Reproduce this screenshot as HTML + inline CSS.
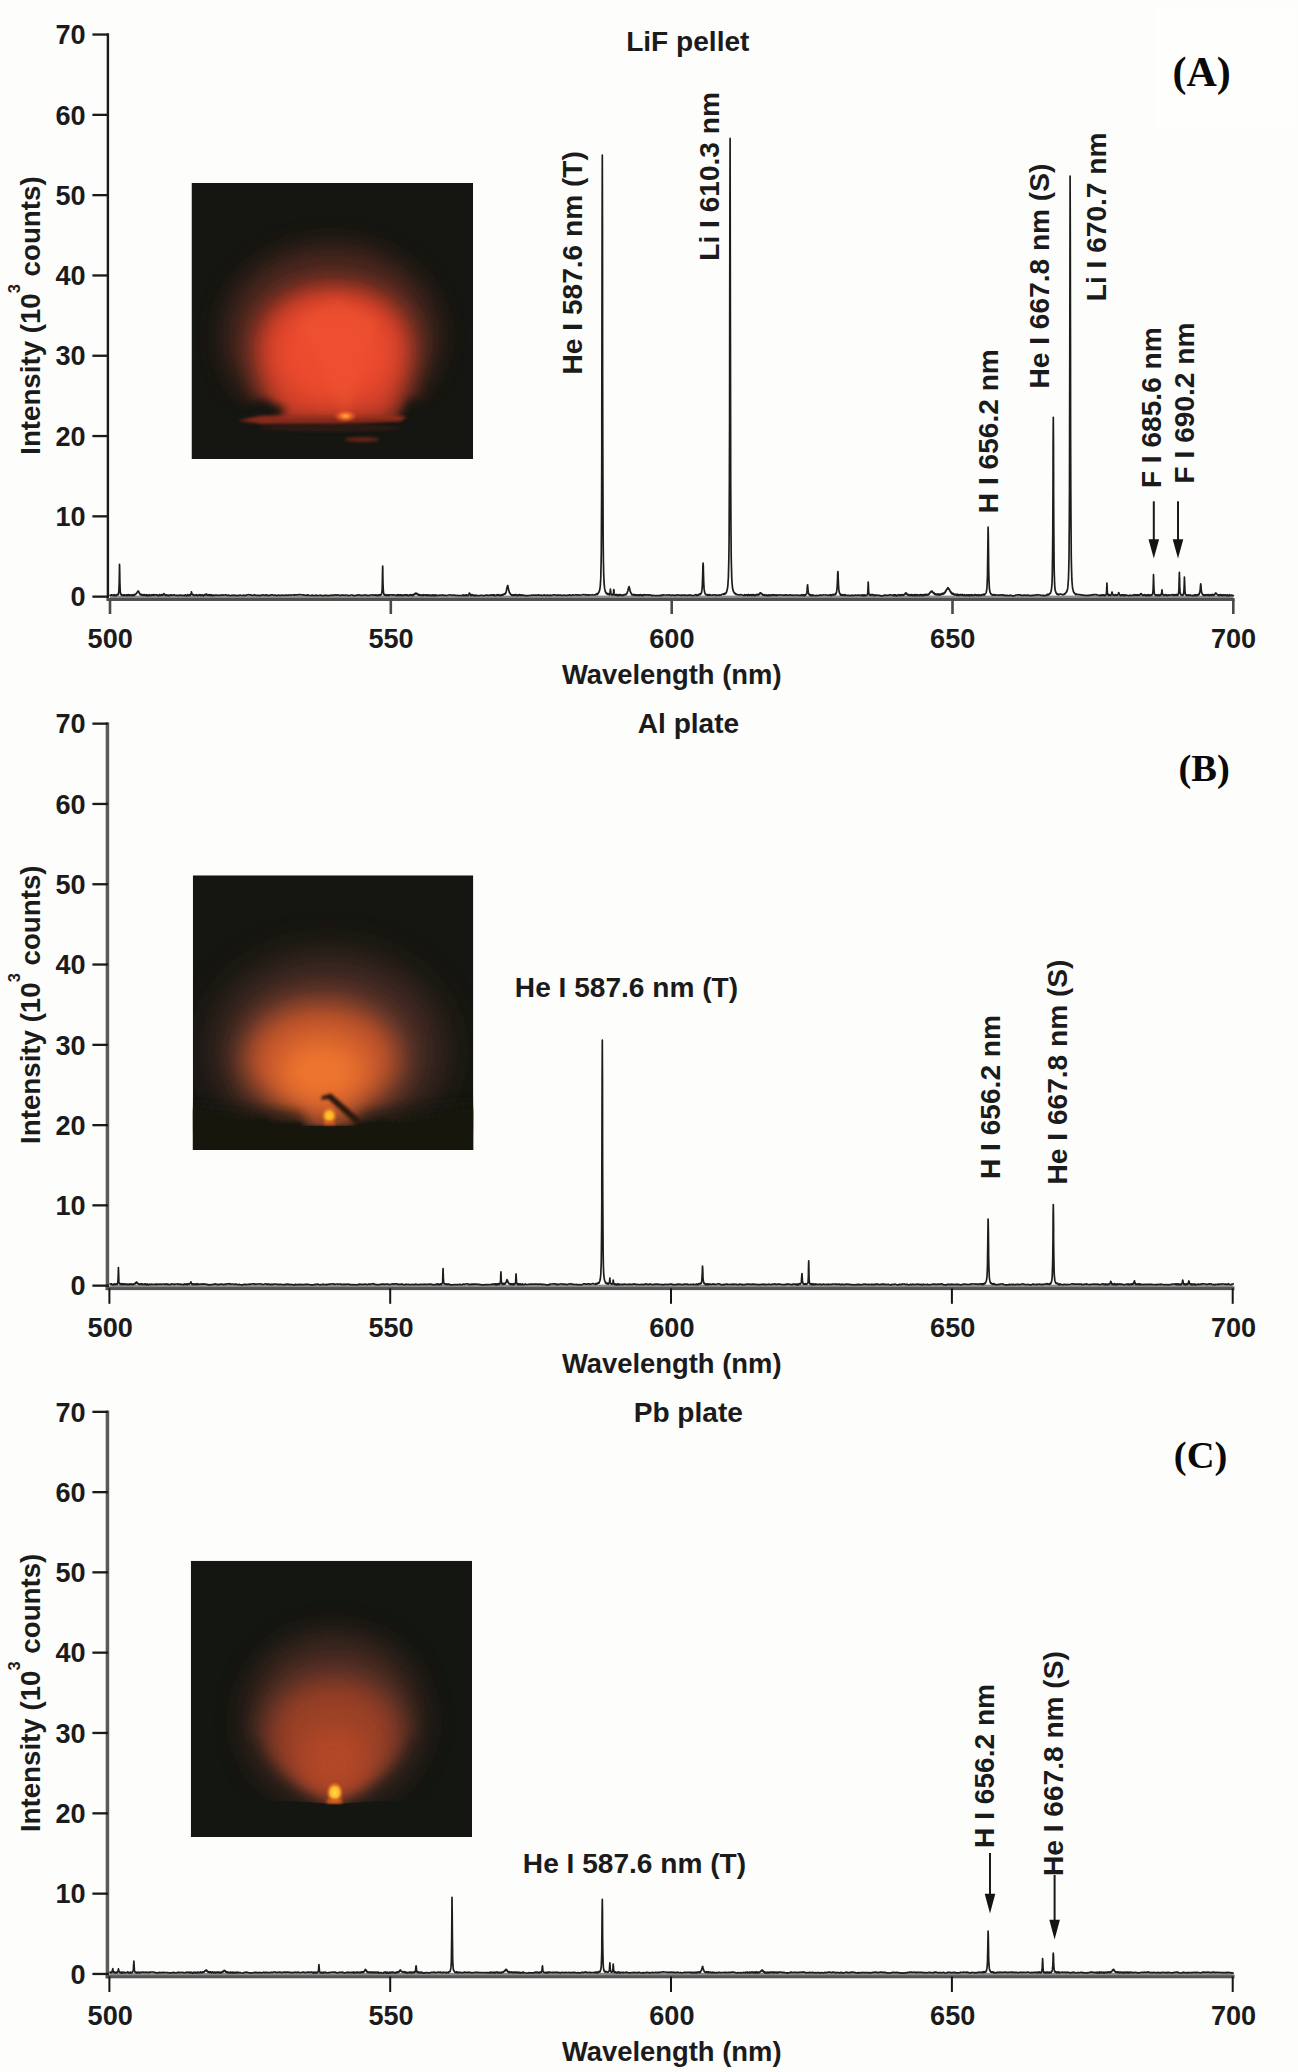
<!DOCTYPE html>
<html lang="en"><head><meta charset="utf-8"><title>Emission spectra: LiF pellet, Al plate, Pb plate</title>
<style>
html,body{margin:0;padding:0;background:#fdfdfb;}
body{width:1298px;height:2072px;overflow:hidden;}
svg{display:block;}
.t{font-family:'Liberation Sans', Arial, Helvetica, sans-serif;font-weight:700;font-size:28.10px;fill:#1b1b1b;}
.ax{font-size:27.40px;}.tk{font-size:27.10px;}
.p{font-family:'Liberation Serif', 'Times New Roman', Times, serif;font-weight:700;fill:#0a0a0a;}
.sp{fill:none;stroke:#1d1d1d;stroke-width:1.7;stroke-linejoin:round;stroke-linecap:round;}
</style></head><body>
<svg width="1298" height="2072" viewBox="0 0 1298 2072">
<defs>
<filter id="b6" x="-30%" y="-30%" width="160%" height="160%"><feGaussianBlur stdDeviation="6"/></filter>
<filter id="b16" x="-50%" y="-50%" width="200%" height="200%"><feGaussianBlur stdDeviation="16"/></filter>
<filter id="b4" x="-30%" y="-30%" width="160%" height="160%"><feGaussianBlur stdDeviation="4"/></filter>
<filter id="b2" x="-30%" y="-30%" width="160%" height="160%"><feGaussianBlur stdDeviation="1.6"/></filter>
<filter id="b12" x="-40%" y="-40%" width="180%" height="180%"><feGaussianBlur stdDeviation="12"/></filter>
<filter id="b9" x="-40%" y="-40%" width="180%" height="180%"><feGaussianBlur stdDeviation="9"/></filter>
<filter id="b14" x="-50%" y="-50%" width="200%" height="200%"><feGaussianBlur stdDeviation="14"/></filter>
<filter id="b22" x="-60%" y="-60%" width="220%" height="220%"><feGaussianBlur stdDeviation="22"/></filter>
<radialGradient id="spA"><stop offset="0" stop-color="#ffb347"/><stop offset=".35" stop-color="#ff7a2e" stop-opacity=".9"/><stop offset="1" stop-color="#f0502a" stop-opacity="0"/></radialGradient>
<radialGradient id="spB"><stop offset="0" stop-color="#ffd23a"/><stop offset=".45" stop-color="#ffae22"/><stop offset="1" stop-color="#f07a28" stop-opacity="0"/></radialGradient>
<radialGradient id="spC"><stop offset="0" stop-color="#ffe04a"/><stop offset=".5" stop-color="#ffb52a"/><stop offset="1" stop-color="#e8602a" stop-opacity="0"/></radialGradient>
<clipPath id="cA"><rect x="191.5" y="183" width="281.5" height="276"/></clipPath>
<clipPath id="cB"><rect x="192.8" y="875.3" width="280.5" height="274.7"/></clipPath>
<clipPath id="cC"><rect x="190.8" y="1560.8" width="281.2" height="276.2"/></clipPath>
<clipPath id="gA"><rect x="191" y="183" width="282" height="235.500"/></clipPath>
<mask id="mA" maskUnits="userSpaceOnUse" x="180" y="170" width="310" height="300"><rect x="180" y="170" width="310" height="300" fill="#fff"/><path d="M180,392L236,409L262,399L286,409L266,430H180Z" fill="#000" filter="url(#b4)"/><path d="M490,388L430,405L410,399L394,430H490Z" fill="#000" filter="url(#b4)"/></mask>
<mask id="mC" maskUnits="userSpaceOnUse" x="170" y="1540" width="330" height="320"><rect x="170" y="1540" width="330" height="320" fill="#fff"/><path d="M170,1722L256,1738L266,1760L282,1778L304,1794L328,1804V1816H170Z" fill="#000" filter="url(#b6)"/><path d="M497,1722L411,1738L401,1760L385,1778L363,1794L340,1804V1816H497Z" fill="#000" filter="url(#b6)"/></mask>
<clipPath id="gB"><path d="M192,875H474V1122H370L356,1126H300L250,1121H192Z"/></clipPath>
<clipPath id="gC"><path d="M190,1560H472V1801H380L335,1804L290,1801H190Z"/></clipPath>
</defs>
<rect x="0" y="0" width="1298" height="2072" fill="#fdfdfb"/>
<rect x="1155" y="5" width="141" height="124" fill="#fefefd"/>
<g clip-path="url(#cA)">
<rect x="191.5" y="183" width="281.5" height="276" fill="#151611"/>
<g clip-path="url(#gA)"><g mask="url(#mA)">
<ellipse cx="331" cy="336" rx="106" ry="90" fill="#552b22" opacity=".9" filter="url(#b14)"/>
<path d="M334,285C384,285 415,314 413,352C411,382 402,404 392,424H278C268,404 257,382 255,352C253,314 284,285 334,285Z" fill="#cc3e28" filter="url(#b12)"/>
<ellipse cx="335" cy="352" rx="60" ry="52" fill="#ec4b2d" filter="url(#b12)"/>
<path d="M346,417L296,322L336,300L378,318Z" fill="#f25a33" opacity=".3" filter="url(#b4)"/>
</g></g>
<path d="M238,420.500L262,415.500H396L407,417L400,421.500L340,424H262Z" fill="#9a2f1e" opacity=".85" filter="url(#b2)"/>
<ellipse cx="330" cy="428" rx="70" ry="4" fill="#3a1a14" opacity=".6" filter="url(#b2)"/>
<ellipse cx="362" cy="439.500" rx="17" ry="2.4" fill="#7a261a" opacity=".8" filter="url(#b2)"/>
<ellipse cx="345.500" cy="416" rx="12" ry="6.500" fill="url(#spA)"/>
</g>
<g clip-path="url(#cB)">
<rect x="192.8" y="875.3" width="280.5" height="274.7" fill="#151611"/>
<g clip-path="url(#gB)">
<ellipse cx="328" cy="1050" rx="112" ry="92" fill="#54302a" opacity=".9" filter="url(#b22)"/>
<path d="M322,1002C376,1002 404,1038 400,1066C396,1090 372,1104 350,1112L338,1126H314L298,1111C272,1103 248,1090 244,1064C242,1036 270,1002 322,1002Z" fill="#c4542a" filter="url(#b14)"/>
<ellipse cx="322" cy="1072" rx="44" ry="34" fill="#ee742f" filter="url(#b14)"/>
</g>
<path d="M176,1130V1100L236,1106L300,1112L312,1130Z" fill="#151611" opacity=".55" filter="url(#b4)"/>
<path d="M490,1130V1098L420,1104L364,1112L350,1130Z" fill="#151611" opacity=".55" filter="url(#b4)"/>
<path d="M176,1160V1106L250,1119L262,1116L275,1122H300L305,1126H352L358,1122H372L380,1118L395,1122L490,1106V1160Z" fill="#151611" filter="url(#b2)"/>
<path d="M321,1100L322,1096L331,1093.500L361,1120L356,1124L328,1099Z" fill="#2c170e" filter="url(#b2)"/>
<ellipse cx="329.300" cy="1115.700" rx="8" ry="9" fill="url(#spB)"/>
<rect x="324" y="1121" width="11" height="4" fill="#e0641f" opacity=".8" filter="url(#b2)"/>
</g>
<g clip-path="url(#cC)">
<rect x="190.8" y="1560.800" width="281.2" height="276.2" fill="#141611"/>
<g clip-path="url(#gC)">
<path d="M333,1636C398,1636 424,1688 420,1730C416,1768 384,1792 350,1808H318C284,1792 252,1768 248,1730C244,1688 270,1636 333,1636Z" fill="#502e27" opacity=".9" filter="url(#b16)"/>
<g mask="url(#mC)">
<path d="M334,1678C384,1678 406,1716 400,1746C394,1774 364,1790 342,1800L328,1800C306,1790 274,1774 268,1746C262,1716 286,1678 334,1678Z" fill="#9a3f27" filter="url(#b14)"/>
<ellipse cx="334" cy="1762" rx="36" ry="36" fill="#b24728" filter="url(#b12)"/>
</g></g>
<ellipse cx="334.800" cy="1792.500" rx="9" ry="11" fill="url(#spC)"/>
<rect x="327" y="1799" width="15" height="4.500" fill="#e2641f" opacity=".85" filter="url(#b2)"/>
</g>
<rect x="106.7" y="33.3" width="2.4" height="567.7" fill="#1a1a1a"/>
<rect x="106.7" y="598.0" width="1127.9" height="3" fill="#4f4f4f"/>
<rect x="92.4" y="595.5" width="16.6" height="2.3" fill="#1a1a1a"/>
<text class="t tk" x="85.6" y="606.3" text-anchor="end">0</text>
<rect x="92.4" y="515.2" width="15.6" height="2.3" fill="#1a1a1a"/>
<text class="t tk" x="85.6" y="526.0" text-anchor="end">10</text>
<rect x="92.4" y="434.9" width="15.6" height="2.3" fill="#1a1a1a"/>
<text class="t tk" x="85.6" y="445.7" text-anchor="end">20</text>
<rect x="92.4" y="354.6" width="15.6" height="2.3" fill="#1a1a1a"/>
<text class="t tk" x="85.6" y="365.4" text-anchor="end">30</text>
<rect x="92.4" y="274.3" width="15.6" height="2.3" fill="#1a1a1a"/>
<text class="t tk" x="85.6" y="285.1" text-anchor="end">40</text>
<rect x="92.4" y="194.0" width="15.6" height="2.3" fill="#1a1a1a"/>
<text class="t tk" x="85.6" y="204.8" text-anchor="end">50</text>
<rect x="92.4" y="113.7" width="15.6" height="2.3" fill="#1a1a1a"/>
<text class="t tk" x="85.6" y="124.5" text-anchor="end">60</text>
<rect x="92.4" y="33.4" width="15.6" height="2.3" fill="#1a1a1a"/>
<text class="t tk" x="85.6" y="44.2" text-anchor="end">70</text>
<rect x="108.7" y="599.5" width="2.6" height="14.500" fill="#4a4a4a"/>
<text class="t tk" x="110.2" y="647.7" text-anchor="middle">500</text>
<rect x="389.5" y="599.5" width="2.6" height="14.500" fill="#4a4a4a"/>
<text class="t tk" x="391.0" y="647.7" text-anchor="middle">550</text>
<rect x="670.4" y="599.5" width="2.6" height="14.500" fill="#4a4a4a"/>
<text class="t tk" x="671.9" y="647.7" text-anchor="middle">600</text>
<rect x="951.2" y="599.5" width="2.6" height="14.500" fill="#4a4a4a"/>
<text class="t tk" x="952.7" y="647.7" text-anchor="middle">650</text>
<rect x="1232.0" y="599.5" width="2.6" height="14.500" fill="#4a4a4a"/>
<text class="t tk" x="1233.5" y="647.7" text-anchor="middle">700</text>
<text class="t ax" x="671.7" y="683.5" text-anchor="middle">Wavelength (nm)</text>
<text class="t" font-size="27.7" style="font-size:27.7px" text-anchor="middle" transform="translate(40.3,315.6) rotate(-90)">Intensity (10<tspan style="font-size:16.5px" dy="-20.200">3</tspan><tspan dy="20.200"> counts)</tspan></text>
<rect x="110" y="595.6" width="1123.3" height="2.4" fill="#8c8c8c"/>
<path class="sp" d="M110.0,595.3 110.8,595.2 111.6,594.9 112.4,595.1 112.8,595.1 113.0,595.1 113.1,595.4 113.2,595.3 113.3,595.1 113.5,595.0 113.7,595.4 113.8,595.4 114.0,595.6 114.0,595.2 114.2,595.0 114.3,595.4 114.5,595.0 114.7,594.7 114.8,594.8 114.8,594.9 115.0,595.3 115.2,595.6 115.3,595.3 115.5,595.6 115.6,595.6 115.7,595.6 115.8,595.7 116.0,595.5 116.2,595.3 116.3,595.0 116.4,595.0 116.5,594.9 116.7,595.0 116.9,594.8 117.0,594.9 117.2,595.1 117.2,594.6 117.4,594.4 117.5,594.3 117.7,594.3 117.9,594.5 118.0,594.6 118.0,594.7 118.2,594.6 118.4,593.9 118.5,593.4 118.7,592.3 118.8,591.4 118.9,590.6 119.0,587.7 119.2,582.7 119.4,572.5 119.5,564.3 119.6,566.5 119.7,571.8 119.9,582.5 120.1,588.4 120.2,591.0 120.4,592.3 120.4,592.8 120.6,593.6 120.7,594.1 120.9,594.0 121.1,594.1 121.2,594.7 121.4,595.0 121.6,595.2 121.7,595.4 121.9,595.0 122.0,595.2 122.1,595.1 122.2,595.1 122.4,595.3 122.6,595.0 122.7,595.3 122.8,595.1 122.9,595.4 123.1,595.3 123.3,595.4 123.4,595.5 123.6,595.0 123.6,594.8 123.8,595.1 123.9,594.9 124.1,595.2 124.3,595.3 124.4,595.0 124.4,594.9 124.6,595.3 124.8,594.9 124.9,595.2 125.1,595.4 125.2,595.1 125.3,595.2 125.4,595.4 125.6,595.6 125.8,595.7 126.0,595.4 126.0,595.5 126.1,595.3 126.3,595.3 126.5,595.3 126.6,594.9 126.8,595.0 126.8,595.1 127.0,594.8 127.1,595.2 127.3,595.5 127.5,595.0 127.6,594.9 127.7,595.2 127.8,595.4 128.0,595.1 128.1,594.8 128.3,595.2 128.5,594.9 128.5,594.7 128.6,594.9 128.8,595.1 129.0,595.4 129.2,595.6 129.3,595.1 129.3,595.3 129.5,595.1 129.7,595.3 129.8,595.0 130.0,595.0 130.1,595.2 130.2,595.4 130.3,595.1 130.5,595.5 130.7,595.5 130.8,595.3 130.9,595.0 131.0,595.0 131.2,595.2 131.3,594.9 131.5,595.2 131.7,595.5 131.7,595.5 131.8,595.4 132.0,595.6 132.2,595.6 132.4,595.4 132.5,595.2 132.5,595.4 132.7,595.3 132.9,594.9 133.0,594.6 133.2,594.7 133.3,594.7 133.4,594.8 133.5,595.1 133.7,595.4 133.9,595.5 134.0,594.9 134.1,594.8 134.2,594.5 134.4,595.0 134.5,594.8 134.7,594.8 134.9,594.6 134.9,594.8 135.0,594.3 135.2,594.7 135.4,594.6 135.6,594.3 135.7,594.0 135.7,594.0 135.9,593.9 136.1,593.7 136.2,593.4 136.4,593.6 136.5,593.5 136.6,593.2 136.7,592.8 136.9,592.8 137.1,592.4 137.2,592.0 137.3,592.0 137.4,591.8 137.6,591.7 137.7,591.4 137.9,591.1 138.1,591.4 138.3,591.3 138.4,591.1 138.6,591.3 138.8,591.6 138.9,592.2 138.9,592.1 139.1,592.5 139.3,593.0 139.4,593.0 139.6,593.7 139.7,593.6 139.8,594.1 139.9,594.0 140.1,594.2 140.3,594.5 140.4,594.3 140.5,594.4 140.6,594.4 140.8,594.2 140.9,594.6 141.1,595.0 141.3,595.1 141.3,594.8 141.5,595.0 141.6,595.2 141.8,594.8 142.0,594.7 142.1,594.9 142.1,594.6 142.3,594.9 142.5,594.8 142.6,595.1 142.8,595.1 142.9,594.9 143.0,594.6 143.1,594.6 143.3,594.9 143.5,594.9 143.6,595.1 143.7,595.4 143.8,595.2 144.0,594.9 144.1,594.8 144.3,594.8 144.5,594.6 144.5,595.0 144.7,595.3 144.8,595.3 145.0,595.4 145.2,595.5 145.3,595.4 145.3,595.2 145.5,595.2 145.7,595.3 145.8,595.0 146.0,594.7 146.1,595.0 146.2,595.4 146.3,595.6 146.5,595.1 146.7,595.5 146.8,595.2 146.9,595.1 147.0,595.3 147.2,595.0 147.3,595.4 147.5,595.6 147.7,595.4 147.7,595.7 147.9,595.2 148.0,595.4 148.2,595.6 148.4,595.7 148.5,595.4 148.5,595.3 148.7,595.2 148.9,595.1 149.0,594.9 149.2,594.7 149.3,594.8 149.4,595.2 149.5,595.2 149.7,595.4 149.9,595.7 150.0,595.5 150.1,595.2 150.2,595.4 150.4,595.5 150.6,595.5 150.7,595.2 150.9,595.2 150.9,595.1 151.1,595.0 151.2,595.2 151.4,595.0 151.6,594.8 151.7,595.3 151.7,594.9 151.9,594.9 152.1,595.3 152.2,595.3 152.4,595.2 152.5,594.9 152.6,595.1 152.7,595.1 152.9,594.9 153.1,594.8 153.2,594.7 153.3,594.9 153.4,595.0 153.6,595.3 153.8,595.1 153.9,594.9 154.1,595.0 154.1,594.9 154.3,595.3 154.4,595.0 154.6,594.7 154.8,594.6 154.9,594.9 155.7,594.8 156.5,595.1 156.7,594.9 156.8,594.8 157.0,595.1 157.2,595.4 157.3,595.4 157.3,595.3 157.5,595.1 157.7,595.1 157.9,595.5 158.0,595.2 158.1,595.5 158.2,595.2 158.4,595.4 158.5,595.4 158.7,595.1 158.9,595.4 158.9,595.6 159.0,595.4 159.2,595.2 159.4,594.9 159.5,594.9 159.7,594.7 159.7,595.0 159.9,594.7 160.0,595.2 160.2,595.4 160.4,595.3 160.5,595.4 160.7,595.1 160.9,595.1 161.1,595.1 161.2,594.9 161.4,595.0 161.4,595.2 161.6,595.3 161.7,595.0 161.9,594.7 162.1,595.1 162.2,594.9 162.2,594.6 162.4,594.8 162.6,594.8 162.7,595.1 162.9,594.9 163.0,594.9 163.1,594.7 163.2,595.0 163.4,594.3 163.6,594.0 163.7,593.9 163.8,593.7 163.9,593.6 164.1,593.8 164.3,594.0 164.4,594.6 164.6,594.7 164.6,594.8 164.8,594.5 164.9,594.5 165.1,594.9 165.3,595.0 165.4,595.3 165.4,595.3 165.6,595.0 165.8,594.8 165.9,595.0 166.1,595.2 166.2,595.4 166.3,595.2 166.4,594.9 166.6,595.3 166.8,595.1 167.0,595.5 167.0,595.6 167.1,595.6 167.3,595.3 167.5,595.4 167.6,595.4 167.8,595.2 167.8,595.5 168.0,595.2 168.1,595.5 168.3,595.4 168.5,595.5 168.6,595.6 168.6,595.4 168.8,595.4 169.0,595.4 169.1,595.4 169.3,595.3 169.4,595.5 169.5,595.6 169.6,595.3 169.8,595.2 170.0,595.2 170.2,594.9 170.2,595.0 170.3,594.8 170.5,595.2 170.7,595.0 170.8,594.9 171.0,594.8 171.0,595.1 171.2,595.3 171.8,595.0 172.6,595.3 173.4,594.9 174.2,594.8 175.0,595.2 175.8,595.4 176.6,595.2 177.4,595.4 178.2,595.6 179.0,595.2 179.8,595.3 180.6,595.0 181.4,595.4 182.2,595.4 183.0,595.2 183.8,595.6 184.6,595.6 184.7,595.3 184.9,595.0 185.0,594.8 185.2,595.2 185.4,595.2 185.4,595.0 185.5,595.1 185.7,595.0 185.9,595.3 186.0,595.6 186.2,595.7 186.2,595.8 186.4,595.5 186.6,595.4 186.7,595.3 186.9,595.5 187.0,595.6 187.1,595.6 187.2,595.2 187.4,594.9 187.6,594.7 187.7,595.2 187.8,595.5 187.9,595.1 188.1,595.2 188.2,595.0 188.4,595.2 188.6,595.2 188.6,595.2 188.7,595.2 188.9,595.1 189.1,595.5 189.2,595.2 189.4,594.9 189.4,595.3 189.6,595.2 189.8,595.0 189.9,595.1 190.1,595.3 190.2,595.4 190.3,595.2 190.4,595.3 190.6,594.7 190.8,594.3 190.9,593.8 191.0,593.3 191.1,593.1 191.3,592.4 191.4,591.8 191.6,592.4 191.8,593.0 191.8,593.3 191.9,594.0 192.1,594.2 192.3,594.4 192.5,594.5 192.6,594.5 192.6,594.8 192.8,594.7 193.0,594.6 193.1,594.7 193.3,594.7 193.4,594.7 193.5,595.0 193.6,594.9 193.8,595.3 194.0,595.4 194.1,595.3 194.2,595.6 194.3,595.5 194.5,595.3 194.6,595.2 194.8,595.4 195.0,595.0 195.1,595.0 195.1,595.2 195.3,595.1 195.5,595.1 195.7,595.1 195.8,595.2 195.9,594.9 196.0,594.9 196.2,594.9 196.3,594.9 196.5,594.7 196.7,595.3 196.7,595.2 196.8,595.0 197.0,595.3 197.2,595.3 197.3,595.6 197.5,595.7 197.5,595.6 197.7,595.7 197.8,595.7 198.0,595.2 198.2,595.2 198.3,595.2 199.1,594.9 199.4,595.0 199.5,594.7 199.7,594.9 199.9,594.8 200.0,595.3 200.2,595.2 200.4,595.0 200.5,595.4 200.7,595.0 200.7,595.4 200.9,595.3 201.0,595.5 201.2,595.4 201.4,595.2 201.5,595.5 201.5,595.1 201.7,595.2 201.9,595.2 202.1,595.1 202.2,595.3 202.3,595.4 202.4,595.2 202.6,595.2 202.7,595.3 202.9,595.1 203.1,595.3 203.1,595.6 203.2,595.6 203.4,595.8 203.6,595.8 203.7,595.3 203.9,595.3 203.9,595.0 204.1,594.9 204.2,595.4 204.4,594.9 204.6,594.7 204.7,595.2 204.8,594.9 204.9,595.0 205.1,595.1 205.3,594.7 205.4,595.0 205.5,595.0 205.6,594.7 205.8,594.6 205.9,594.6 206.1,594.2 206.3,594.0 206.3,594.1 206.4,594.3 206.6,594.1 206.8,594.2 206.9,594.6 207.1,595.1 207.1,594.9 207.3,595.2 207.4,595.2 207.6,595.0 207.8,595.1 207.9,595.3 208.0,595.1 208.1,595.2 208.3,595.0 208.5,595.1 208.6,594.8 208.7,594.6 208.8,594.7 209.0,595.1 209.1,595.4 209.3,595.0 209.5,594.9 209.5,595.0 209.6,595.2 209.8,595.4 210.0,595.2 210.1,595.1 210.3,595.1 210.3,595.1 210.5,595.0 210.6,595.3 210.8,595.4 211.0,595.0 211.1,594.8 211.2,594.7 211.3,595.3 211.5,595.6 211.7,595.6 211.8,595.5 211.9,595.3 212.0,595.5 212.2,595.4 212.3,595.6 212.5,595.7 212.7,595.4 212.7,595.3 212.8,595.2 213.0,595.3 213.2,595.3 213.3,595.5 213.5,595.5 213.5,595.2 213.7,595.0 213.8,595.4 214.3,595.6 215.1,595.2 215.9,595.1 216.7,595.0 217.5,595.3 218.3,595.3 219.1,595.5 219.9,595.1 220.7,595.3 221.5,595.1 222.3,594.8 223.1,595.1 223.9,595.1 224.7,595.0 225.5,594.8 226.3,595.1 227.1,595.2 227.9,595.5 228.7,595.1 229.6,595.5 230.4,595.7 231.2,595.4 232.0,595.4 232.8,595.2 233.6,595.3 234.4,595.1 235.2,595.5 236.0,595.6 236.8,595.3 237.6,595.6 238.4,595.6 239.2,595.3 240.0,595.1 240.8,595.3 241.6,595.5 242.4,595.5 243.2,595.2 244.0,595.3 244.8,595.6 245.6,595.3 246.4,595.2 247.2,594.9 248.0,594.7 248.8,594.7 249.6,595.0 250.4,594.9 251.2,595.2 252.0,595.3 252.8,595.4 253.6,595.0 254.4,594.8 255.2,595.2 256.0,595.3 256.8,595.4 257.6,595.4 258.4,595.4 259.2,595.4 260.0,595.6 260.8,595.4 261.6,595.1 262.4,595.1 263.3,594.9 264.1,595.0 264.9,595.4 265.7,595.1 266.5,594.9 267.3,595.2 268.1,595.6 268.9,595.4 269.7,595.3 270.5,595.2 271.3,594.9 272.1,594.9 272.9,594.9 273.7,595.3 274.5,595.3 275.3,595.0 276.1,595.4 276.9,595.6 277.7,595.3 278.5,595.0 279.3,595.4 280.1,595.2 280.9,595.5 281.7,595.2 282.5,595.1 283.3,595.3 284.1,595.5 284.9,595.2 285.7,595.2 286.5,595.0 287.3,595.2 288.1,595.3 288.9,594.9 289.7,595.0 290.5,595.1 291.3,595.1 292.1,595.0 292.9,595.0 293.7,594.8 294.5,595.1 295.3,594.9 296.1,594.9 296.9,594.8 297.8,594.8 298.6,594.7 299.4,594.7 300.2,594.6 301.0,594.8 301.8,595.0 302.6,594.9 303.4,594.9 304.2,595.1 305.0,595.2 305.8,595.5 306.6,595.2 307.4,594.9 308.2,595.1 309.0,595.4 309.8,595.5 310.6,595.5 311.4,595.5 312.2,595.0 313.0,595.4 313.8,595.5 314.6,595.7 315.4,595.4 316.2,595.1 317.0,595.4 317.8,595.6 318.6,595.5 319.4,595.3 320.2,595.0 321.0,595.4 321.8,595.6 322.6,595.7 323.4,595.7 324.2,595.7 325.0,595.3 325.8,595.2 326.6,595.4 327.4,595.6 328.2,595.6 329.0,595.7 329.8,595.3 330.6,595.4 331.5,595.3 332.3,595.0 333.1,595.1 333.9,595.4 334.7,595.0 335.5,594.8 336.3,595.1 337.1,595.1 337.9,594.9 338.7,595.0 339.5,595.3 340.3,595.6 341.1,595.1 341.9,595.0 342.7,595.2 343.5,595.2 344.3,595.2 345.1,595.4 345.9,595.0 346.7,595.0 347.5,595.3 348.3,595.6 349.1,595.5 349.9,595.5 350.7,595.1 351.5,595.0 352.3,595.0 353.1,595.4 353.9,595.6 354.7,595.5 355.5,595.6 356.3,595.2 357.1,595.2 357.9,595.1 358.7,594.8 359.5,595.2 360.3,595.2 361.1,595.5 361.9,595.2 362.7,595.6 363.5,595.2 364.3,595.0 365.1,594.8 366.0,595.3 366.8,595.4 367.6,595.2 368.4,595.5 369.2,595.4 370.0,595.3 370.8,595.0 371.6,595.0 372.4,594.9 373.2,595.2 374.0,595.0 374.8,595.1 375.6,594.9 375.9,595.3 376.1,595.0 376.3,595.3 376.4,595.2 376.4,595.2 376.6,595.4 376.8,595.1 377.0,595.3 377.1,595.4 377.2,595.6 377.3,595.6 377.5,595.4 377.6,595.2 377.8,595.3 378.0,595.1 378.0,595.4 378.1,595.4 378.3,595.3 378.5,594.9 378.6,594.8 378.8,594.8 378.8,595.3 379.0,595.3 379.1,595.1 379.3,595.3 379.5,595.1 379.6,595.1 379.6,595.5 379.8,594.9 380.0,594.7 380.2,595.0 380.3,594.9 380.4,595.0 380.5,595.1 380.7,594.9 380.8,594.9 381.0,594.8 381.2,594.7 381.2,594.4 381.3,594.4 381.5,594.2 381.7,593.4 381.8,592.7 382.0,591.0 382.0,591.0 382.2,588.2 382.3,583.2 382.5,573.2 382.7,566.2 382.8,570.6 382.8,573.9 383.0,583.4 383.2,588.4 383.4,591.4 383.5,592.8 383.6,592.9 383.7,593.3 383.9,594.1 384.0,594.6 384.2,594.9 384.4,595.1 384.4,595.0 384.5,595.2 384.7,594.8 384.9,594.9 385.0,595.0 385.2,594.9 385.4,594.8 385.5,594.7 385.7,595.0 385.9,595.1 386.0,595.2 386.1,595.5 386.2,595.4 386.4,595.1 386.6,594.8 386.7,594.8 386.8,594.8 386.9,594.9 387.1,595.4 387.2,595.4 387.4,595.4 387.6,595.2 387.6,595.5 387.7,595.4 387.9,595.3 388.1,595.1 388.2,594.9 388.4,594.9 388.4,595.3 388.6,595.1 388.7,594.8 388.9,595.0 389.1,595.2 389.2,595.2 389.3,595.5 389.4,595.2 390.0,594.8 390.8,595.0 391.6,594.9 392.4,594.8 393.2,595.2 394.0,594.9 394.8,595.0 395.6,595.3 396.0,595.6 396.2,595.6 396.4,595.4 396.4,595.2 396.6,595.3 396.7,595.0 396.9,595.2 397.1,595.2 397.2,595.5 397.2,595.0 397.4,595.4 397.6,595.0 397.7,595.1 397.9,595.1 398.0,595.1 398.1,595.3 398.2,595.0 398.4,594.7 398.6,594.7 398.7,594.9 398.8,595.3 398.9,595.0 399.1,595.3 399.2,595.0 399.4,595.3 399.6,595.2 399.7,595.0 399.8,595.3 399.9,595.2 400.1,595.5 400.3,595.7 400.4,595.7 400.5,595.2 400.6,594.9 400.8,594.9 400.9,595.2 401.1,595.1 401.3,595.0 401.3,595.2 401.4,595.1 401.6,594.9 401.8,595.4 401.9,595.5 402.1,595.4 402.1,595.6 402.3,595.5 402.5,595.3 402.6,595.5 402.8,595.4 402.9,595.5 403.0,595.3 403.1,595.4 403.3,595.2 403.5,595.5 403.6,595.3 403.7,595.5 403.8,595.0 404.0,595.0 404.1,595.1 404.3,595.2 404.5,595.1 404.5,595.0 404.6,594.9 404.8,594.9 405.0,595.0 405.1,594.8 405.3,594.7 405.3,594.7 405.5,595.0 405.7,595.1 405.8,595.1 406.0,594.9 406.1,595.0 406.2,595.1 406.3,595.2 406.5,594.9 406.7,595.2 406.8,595.5 406.9,595.2 407.0,594.9 407.2,594.9 407.3,594.9 407.5,594.9 407.7,595.2 407.8,595.1 408.0,595.4 408.2,595.6 408.3,595.4 408.5,595.3 408.5,595.3 408.7,595.6 408.9,595.3 409.0,595.2 409.2,595.4 409.3,595.4 409.4,595.4 409.5,595.5 409.7,595.6 409.9,595.1 410.0,594.8 410.1,594.8 410.2,594.7 410.4,594.9 410.5,594.8 410.7,595.1 410.9,594.9 410.9,595.0 411.0,594.7 411.2,595.2 411.4,594.9 411.5,595.3 411.7,595.1 411.7,594.8 411.9,595.2 412.1,595.3 412.2,595.3 412.4,595.3 412.5,595.5 412.6,594.9 412.7,594.7 412.9,594.9 413.1,595.0 413.2,594.8 413.3,595.2 413.4,595.3 413.6,594.8 413.7,594.8 413.9,594.7 414.1,594.3 414.1,594.1 414.2,594.2 414.4,594.5 414.6,594.5 414.8,594.0 414.9,593.7 414.9,594.1 415.1,593.7 415.3,593.8 415.4,593.7 415.6,593.8 415.7,593.4 415.8,593.0 415.9,593.4 416.1,593.3 416.3,593.6 416.4,593.3 416.5,593.7 416.6,594.0 416.8,593.7 416.9,594.0 417.1,593.7 417.3,593.7 417.3,593.7 417.4,594.3 417.6,594.2 417.8,594.0 418.0,594.3 418.1,594.8 418.1,594.9 418.3,595.0 418.5,594.7 418.6,595.0 418.8,595.2 418.9,595.2 419.0,594.9 419.1,594.7 419.3,594.9 419.5,594.8 419.6,594.6 419.7,594.7 419.8,595.0 420.0,595.2 420.1,594.8 420.3,594.8 420.5,595.1 420.5,595.0 420.6,595.3 420.8,594.9 421.0,595.0 421.2,595.0 421.3,595.1 421.3,595.4 421.5,595.2 421.7,595.3 421.8,595.4 422.0,595.1 422.1,595.4 422.2,595.4 422.3,595.1 422.5,595.3 422.7,595.4 422.8,595.3 422.9,595.5 423.0,595.0 423.2,594.7 423.3,595.3 423.5,595.3 423.7,595.0 423.7,595.2 423.9,594.9 424.0,595.0 424.2,595.3 424.4,595.2 424.5,595.1 424.7,595.2 424.9,595.1 425.0,594.9 425.2,595.0 425.3,595.1 425.4,594.9 425.5,594.9 425.7,595.0 425.9,594.8 426.0,595.2 426.1,595.0 426.2,595.3 426.4,595.2 426.5,595.4 426.7,595.4 426.9,595.1 426.9,594.9 427.1,594.9 427.2,595.2 427.4,595.2 427.6,595.4 427.7,595.3 427.7,595.2 427.9,595.6 428.1,595.3 428.2,595.1 428.4,595.1 428.5,594.9 428.6,595.3 428.7,595.5 428.9,595.7 429.1,595.5 429.2,595.4 429.3,595.4 429.4,595.5 429.6,595.1 429.7,595.5 429.9,595.1 430.1,595.1 430.1,595.1 430.3,595.0 430.4,595.3 430.6,595.5 430.8,595.5 430.9,595.7 430.9,595.6 431.1,595.4 431.3,595.3 431.4,595.4 431.6,595.3 431.7,595.5 431.8,595.2 431.9,595.4 432.1,595.5 432.3,595.6 432.4,595.3 432.5,595.0 432.6,594.9 432.8,595.4 432.9,595.4 433.1,595.4 433.3,595.5 433.3,595.1 433.5,595.5 433.6,595.4 433.8,595.1 434.0,594.8 434.1,595.3 434.2,595.3 434.3,595.1 434.5,595.5 434.6,595.6 434.8,595.1 435.0,595.4 435.0,595.4 435.1,595.5 435.3,595.4 435.5,595.6 435.6,595.8 435.8,595.2 435.8,595.0 436.0,594.9 436.2,595.3 436.6,595.4 437.4,595.3 438.2,595.5 439.0,595.4 439.8,595.0 440.6,595.2 441.4,595.3 442.2,594.9 443.0,595.0 443.8,595.4 444.6,595.4 445.4,595.2 446.2,595.5 447.0,595.5 447.8,595.2 448.6,595.0 449.4,595.0 450.2,594.8 451.0,595.0 451.8,595.2 452.6,595.0 453.4,595.2 454.2,595.0 455.0,595.3 455.8,595.4 456.6,595.5 457.4,595.4 458.2,595.5 459.0,595.6 459.8,595.6 460.6,595.5 461.4,595.5 462.2,595.4 462.7,595.0 462.9,595.0 463.0,594.8 463.1,595.2 463.2,595.3 463.4,595.6 463.6,595.3 463.7,595.4 463.8,595.5 463.9,595.7 464.1,595.7 464.2,595.7 464.4,595.5 464.6,595.1 464.6,595.0 464.7,595.3 464.9,595.3 465.1,595.5 465.2,595.1 465.4,595.2 465.4,595.0 465.6,594.9 465.7,594.8 465.9,595.3 466.1,595.4 466.2,595.4 466.3,595.6 466.4,595.1 466.6,595.3 466.8,595.0 466.9,595.1 467.0,595.4 467.1,595.4 467.3,595.5 467.4,595.6 467.6,595.6 467.8,595.3 467.9,595.5 467.9,595.4 468.1,595.3 468.3,595.0 468.4,595.2 468.6,594.7 468.7,594.8 468.8,594.4 469.0,593.9 469.1,593.7 469.3,593.3 469.5,593.0 469.6,593.0 469.8,593.6 470.0,594.2 470.1,594.2 470.3,594.7 470.3,594.9 470.5,595.0 470.6,595.3 470.8,595.5 471.0,595.7 471.1,595.3 471.1,595.2 471.3,594.9 471.5,594.7 471.6,595.1 471.8,595.0 471.9,594.8 472.0,595.2 472.2,595.0 472.3,595.0 472.5,594.8 472.7,594.7 472.7,595.1 472.8,595.1 473.0,595.4 473.2,595.4 473.3,595.4 473.5,595.6 473.5,595.5 473.7,595.5 473.8,595.4 474.0,595.5 474.2,595.6 474.3,595.5 474.3,595.4 474.5,595.6 474.7,595.3 474.8,595.4 475.0,595.6 475.1,595.6 475.2,595.5 475.4,595.6 475.5,595.4 475.7,595.2 475.9,595.1 475.9,595.0 476.0,595.5 476.2,595.4 476.7,595.4 477.5,595.7 478.3,595.5 479.1,595.7 479.9,595.5 480.7,595.3 481.5,595.3 482.3,595.4 483.1,595.5 483.9,595.7 484.7,595.6 485.5,595.1 486.3,595.1 487.1,595.3 487.9,595.2 488.7,595.4 489.5,595.3 490.3,595.2 491.1,594.9 491.9,595.1 492.5,595.1 492.7,594.8 492.7,594.8 492.8,594.9 493.0,594.9 493.2,595.1 493.3,595.2 493.5,595.4 493.5,595.1 493.7,594.8 493.8,595.1 494.0,594.8 494.2,595.3 494.3,595.5 494.3,595.4 494.5,595.4 494.7,595.4 494.8,595.0 495.0,595.3 495.1,595.5 495.2,595.5 495.3,595.3 495.5,595.4 495.7,595.7 495.9,595.4 495.9,595.4 496.0,595.5 496.2,595.3 496.4,595.2 496.5,595.1 496.7,595.1 496.7,595.1 496.9,594.9 497.0,594.7 497.2,595.0 497.4,595.2 497.5,594.9 497.7,595.1 497.9,595.0 498.0,594.9 498.2,594.9 498.3,594.7 498.4,594.6 498.5,595.1 498.7,595.0 498.9,595.1 499.1,595.0 499.1,595.2 499.2,595.3 499.4,595.0 499.6,595.0 499.7,595.3 499.9,595.4 499.9,595.4 500.1,595.5 500.2,595.3 500.4,595.4 500.6,595.6 500.7,595.6 500.7,595.7 500.9,595.2 501.1,595.4 501.2,595.3 501.4,594.9 501.6,595.0 501.6,595.2 501.8,594.8 501.9,594.6 502.1,595.1 502.3,595.2 502.4,595.0 502.4,594.8 502.6,594.9 502.8,594.7 502.9,594.9 503.1,594.7 503.2,594.8 503.3,594.9 503.4,594.6 503.6,594.3 503.8,594.2 503.9,594.3 504.0,594.4 504.1,594.3 504.3,594.2 504.4,593.9 504.6,593.8 504.8,594.1 504.8,594.2 505.0,593.8 505.1,593.9 505.3,593.9 505.5,593.8 505.6,593.4 505.6,592.8 505.8,592.2 506.0,592.3 506.1,591.7 506.3,591.2 506.4,590.9 506.5,590.6 506.6,589.5 506.8,588.5 507.0,588.1 507.1,587.0 507.2,587.3 507.3,586.9 507.5,586.3 507.6,585.7 507.8,585.5 508.0,586.4 508.0,586.6 508.2,587.6 508.3,588.3 508.5,589.1 508.7,590.0 508.8,590.6 508.8,590.5 509.0,591.0 509.2,591.8 509.3,592.4 509.5,592.6 509.6,592.6 509.7,592.6 509.8,593.1 510.0,593.3 510.2,593.6 510.3,593.6 510.4,594.0 510.5,594.3 510.7,594.6 510.8,594.2 511.0,594.5 511.2,594.5 511.2,594.8 511.4,594.8 511.5,595.1 511.7,594.9 511.9,595.1 512.0,594.8 512.0,595.0 512.2,595.1 512.4,595.0 512.5,595.0 512.7,595.2 512.8,595.4 512.9,595.5 513.0,594.9 513.2,595.1 513.4,595.3 513.5,595.4 513.6,595.2 513.7,594.8 513.9,595.1 514.1,594.8 514.2,594.9 514.4,595.0 514.6,594.8 514.7,595.0 514.9,595.4 515.1,595.2 515.2,595.0 515.2,595.0 515.4,595.2 515.6,594.8 515.7,594.7 515.9,594.5 516.0,594.8 516.1,594.7 516.2,594.7 516.4,595.2 516.6,595.5 516.7,595.6 516.8,595.7 516.9,595.7 517.1,595.6 517.3,595.2 517.4,595.3 517.6,595.2 517.6,595.6 517.8,595.6 517.9,595.1 518.1,595.5 518.3,595.3 518.4,595.0 518.4,594.9 518.6,594.8 518.8,595.1 518.9,594.9 519.1,594.8 519.2,594.8 519.3,594.6 519.4,595.2 519.6,594.8 519.8,595.1 519.9,595.0 520.0,595.2 520.1,594.9 520.3,595.4 520.5,595.2 520.6,595.4 520.8,595.4 520.8,595.4 521.0,595.2 521.1,595.0 521.3,595.2 521.5,595.1 521.6,595.2 521.6,595.4 521.8,595.0 522.0,595.2 522.1,595.5 522.3,595.5 522.4,595.2 522.5,595.4 522.6,595.1 522.8,595.1 523.2,595.0 524.0,595.3 524.8,595.6 525.6,595.7 526.4,595.6 527.2,595.5 528.0,595.7 528.8,595.5 529.6,595.4 530.4,595.5 531.2,595.3 532.0,595.0 532.8,595.3 533.6,595.0 534.4,595.2 535.2,595.0 536.1,595.4 536.9,595.0 537.7,595.1 538.5,594.8 539.3,595.2 540.1,595.3 540.9,595.1 541.7,595.4 542.5,595.5 543.3,595.2 544.1,594.9 544.9,595.2 545.7,595.4 546.5,595.4 547.3,595.0 548.1,595.4 548.9,595.2 549.7,595.3 550.5,595.2 551.3,595.4 552.1,595.2 552.9,595.0 553.7,594.8 554.5,594.9 555.3,595.0 556.1,595.1 556.9,595.4 557.7,595.1 558.5,595.0 559.3,595.1 560.1,595.1 560.9,595.2 561.7,595.3 562.5,595.5 563.3,595.3 564.1,595.2 564.9,595.2 565.7,595.5 566.5,595.3 567.3,595.3 568.1,595.2 568.9,595.1 569.8,594.9 570.6,595.3 571.4,595.3 572.2,594.9 573.0,594.9 573.8,595.2 574.6,595.0 575.4,594.7 576.2,595.0 577.0,594.8 577.8,595.3 578.6,594.9 579.4,595.0 580.2,595.3 581.0,595.0 581.8,595.0 582.6,594.7 583.4,594.7 584.2,594.7 585.0,594.9 585.8,594.6 586.6,595.2 587.4,594.9 588.2,594.8 589.0,595.1 589.8,594.9 590.6,595.0 591.4,595.0 592.2,594.7 593.0,595.0 593.8,595.0 594.6,594.8 595.4,594.9 595.5,594.7 595.7,594.4 595.9,594.5 596.1,594.6 596.2,594.3 596.2,594.1 596.4,594.0 596.6,594.1 596.7,593.8 596.9,593.7 597.0,594.1 597.1,594.2 597.2,594.4 597.4,594.5 597.6,594.2 597.7,593.7 597.8,593.4 597.9,593.7 598.1,593.7 598.2,593.5 598.4,592.9 598.6,592.6 598.6,592.3 598.7,592.6 598.9,591.9 599.1,591.9 599.3,591.3 599.4,590.5 599.4,590.5 599.6,590.2 599.8,589.3 599.9,588.5 600.1,587.6 600.2,586.2 600.3,586.0 600.4,583.7 600.6,581.2 600.8,577.1 600.9,571.4 601.0,567.0 601.1,563.8 601.3,551.4 601.4,532.3 601.6,501.1 601.8,447.4 601.8,417.4 601.9,355.6 602.1,229.2 602.3,155.2 602.5,229.0 602.6,355.5 602.6,371.3 602.8,446.9 603.0,500.9 603.1,532.4 603.3,551.6 603.4,562.6 603.5,563.5 603.6,571.3 603.7,573.5 603.8,577.1 603.9,578.5 604.0,580.7 604.0,581.9 604.1,583.5 604.2,584.5 604.3,585.1 604.3,585.8 604.4,586.1 604.5,587.3 604.5,587.4 604.6,588.2 604.7,588.7 604.8,589.0 604.9,589.6 605.0,590.0 605.0,590.2 605.1,590.4 605.2,591.1 605.2,591.2 605.3,591.6 605.4,591.7 605.5,591.6 605.5,592.0 605.7,592.1 605.7,592.1 605.8,592.6 605.9,592.7 605.9,592.9 606.0,592.7 606.0,593.0 606.2,593.1 606.2,593.3 606.3,593.1 606.4,592.9 606.5,593.1 606.6,593.3 606.7,593.7 606.7,593.4 606.7,593.8 606.8,593.9 606.9,593.9 607.0,593.7 607.1,593.7 607.2,593.9 607.2,593.7 607.3,593.5 607.4,594.1 607.5,594.0 607.5,594.1 607.6,594.2 607.7,594.2 607.7,594.3 607.8,594.2 607.9,594.1 608.0,593.9 608.1,593.7 608.2,593.7 608.2,594.0 608.3,593.9 608.4,594.0 608.4,594.1 608.5,593.9 608.6,594.4 608.7,594.5 608.7,594.5 608.9,594.4 608.9,594.6 609.0,594.2 609.1,594.5 609.1,594.6 609.3,594.8 609.4,594.6 609.6,594.2 609.8,594.3 609.9,594.2 609.9,593.7 610.1,592.6 610.3,590.4 610.4,589.0 610.6,590.5 610.7,591.4 610.8,592.3 610.9,593.8 611.1,594.3 611.3,594.8 611.4,594.5 611.5,594.2 611.6,594.2 611.8,594.8 611.9,594.9 612.1,594.8 612.3,594.8 612.3,595.1 612.5,594.7 612.6,594.8 612.8,594.7 613.0,594.9 613.1,594.5 613.1,594.7 613.3,594.4 613.5,593.2 613.6,591.4 613.8,589.5 613.9,590.1 614.0,591.3 614.1,593.4 614.3,594.4 614.5,594.7 614.6,594.7 614.7,594.8 614.8,594.6 615.0,595.0 615.1,594.7 615.3,595.1 615.5,594.7 615.7,594.8 615.8,595.0 616.0,594.9 616.2,594.7 616.3,594.5 616.3,594.8 616.5,595.3 616.7,595.4 616.8,595.0 617.0,594.9 617.1,594.8 617.2,595.2 617.3,595.1 617.5,595.4 617.7,595.6 617.8,595.5 617.9,595.0 618.0,594.9 618.2,594.7 618.3,595.2 618.5,595.2 618.7,595.5 618.7,595.5 618.9,595.6 619.0,595.0 619.2,595.2 619.4,595.1 619.5,595.0 619.5,594.8 619.7,594.6 619.9,594.7 620.0,594.9 620.2,594.7 620.3,594.9 620.4,595.1 620.5,594.9 620.7,595.2 620.9,595.2 621.0,595.2 621.1,595.1 621.2,595.2 621.4,595.2 621.6,595.1 621.7,595.4 621.9,595.0 621.9,595.3 622.1,595.2 622.2,595.1 622.4,595.1 622.6,595.2 622.7,595.4 622.7,595.3 622.9,595.3 623.1,595.1 623.2,595.2 623.4,594.9 623.5,594.9 623.6,595.3 623.7,595.1 623.9,594.7 624.1,595.1 624.2,594.9 624.3,594.5 624.4,594.7 624.6,594.6 624.8,594.7 624.9,594.8 625.1,594.6 625.1,594.6 625.3,594.7 625.4,594.6 625.6,594.5 625.8,594.2 625.9,594.5 625.9,594.7 626.1,594.6 626.3,594.4 626.4,593.9 626.6,593.8 626.7,593.3 626.8,593.4 626.9,593.4 627.1,592.9 627.3,592.9 627.4,592.0 627.5,591.6 627.6,591.6 627.8,591.2 628.0,590.2 628.1,589.4 628.3,588.6 628.3,588.9 628.5,588.0 628.6,587.7 628.8,587.0 629.0,586.8 629.1,586.6 629.1,586.7 629.3,587.6 629.5,587.9 629.6,588.6 629.8,589.5 629.9,590.5 630.0,590.4 630.1,591.1 630.3,591.6 630.5,591.8 630.6,592.1 630.7,592.8 630.8,592.8 631.0,593.2 631.2,593.3 631.3,593.7 631.5,593.9 631.5,594.0 631.7,594.3 631.8,594.5 632.0,594.3 632.2,594.7 632.3,594.9 632.5,594.5 632.7,594.5 632.8,594.5 633.0,594.9 633.1,595.1 633.2,595.1 633.3,594.6 633.5,594.7 633.7,594.5 633.9,594.9 633.9,594.9 634.0,594.9 634.2,594.7 634.4,595.1 634.5,594.8 634.7,594.9 634.7,595.3 634.9,595.2 635.0,595.2 635.2,595.0 635.4,594.7 635.5,594.9 635.5,594.8 635.7,595.0 635.9,594.8 636.0,595.2 636.2,595.0 636.3,595.3 636.4,595.1 636.5,595.3 636.7,595.3 636.9,595.5 637.1,595.4 637.1,595.2 637.2,595.2 637.4,595.2 637.6,595.1 637.7,594.9 637.9,595.1 638.0,595.1 638.1,595.1 638.2,594.8 638.4,595.1 638.6,595.0 638.7,595.2 638.8,595.4 638.9,595.1 639.1,595.1 639.2,595.3 639.4,595.5 639.6,595.1 639.6,595.2 639.7,595.0 639.9,595.1 640.1,595.1 640.3,595.1 640.4,594.8 640.4,594.7 640.6,594.9 640.8,595.0 640.9,595.3 641.1,595.1 641.2,595.4 641.3,595.4 641.4,595.1 641.6,595.5 641.8,595.2 641.9,595.1 642.0,595.1 642.1,595.3 642.3,595.5 642.4,595.0 642.6,594.9 642.8,594.8 642.8,595.3 642.9,595.0 643.1,595.3 643.3,595.5 643.5,595.3 643.6,595.2 643.6,595.5 643.8,595.2 644.0,595.1 644.1,594.9 644.4,594.7 645.2,594.8 646.0,595.1 646.8,594.8 647.6,594.8 648.4,595.2 649.2,594.9 650.0,594.9 650.8,595.2 651.6,595.4 652.4,595.7 653.2,595.4 654.0,595.5 654.8,595.5 655.6,595.6 656.4,595.7 657.2,595.5 658.0,595.5 658.8,595.6 659.6,595.6 660.4,595.4 661.2,595.1 662.0,595.4 662.8,595.1 663.6,594.9 664.4,595.0 665.2,595.0 666.0,595.0 666.8,595.1 667.6,595.0 668.4,594.8 669.2,594.8 670.0,595.2 670.8,595.5 671.6,595.1 672.5,595.2 673.3,595.0 674.1,595.3 674.9,595.3 675.7,595.4 676.5,595.1 677.3,594.8 678.1,595.0 678.9,595.1 679.7,595.2 680.5,595.4 681.3,595.0 682.1,595.4 682.9,595.0 683.7,595.0 684.5,595.4 685.3,595.0 686.1,595.4 686.9,595.3 687.7,595.5 688.5,595.0 689.3,595.2 690.1,594.9 690.9,595.4 691.7,595.2 692.5,595.5 693.3,595.7 694.1,595.4 694.9,594.9 695.7,594.9 695.9,594.7 696.0,594.7 696.2,594.9 696.4,595.3 696.5,595.2 696.5,595.4 696.7,595.2 696.9,595.2 697.0,595.2 697.2,595.3 697.3,595.0 697.4,595.1 697.5,595.1 697.7,595.3 697.9,595.2 698.0,595.0 698.1,594.7 698.2,594.7 698.4,595.1 698.6,595.1 698.7,595.1 698.9,594.8 698.9,594.5 699.1,594.3 699.2,594.2 699.4,594.1 699.6,594.1 699.7,594.0 699.9,594.6 700.1,594.5 700.2,594.3 700.4,594.1 700.5,594.0 700.6,593.9 700.7,593.5 700.9,593.8 701.1,593.5 701.2,592.8 701.3,593.0 701.4,593.0 701.6,592.0 701.8,590.9 701.9,590.2 702.1,588.9 702.1,587.9 702.3,586.1 702.4,582.9 702.6,578.1 702.8,571.6 702.9,565.2 702.9,565.5 703.1,563.2 703.3,565.6 703.4,571.5 703.6,577.7 703.7,582.0 703.8,583.0 703.9,586.4 704.1,588.9 704.3,590.1 704.5,591.4 704.5,591.8 704.6,592.0 704.8,592.8 705.0,593.0 705.1,593.4 705.3,593.9 705.3,593.6 705.5,594.1 705.6,594.4 705.8,594.6 706.0,594.6 706.1,594.4 706.2,594.5 706.3,594.8 706.5,594.6 706.6,594.9 706.8,594.8 707.0,595.0 707.0,594.6 707.1,594.9 707.3,595.1 707.5,595.2 707.7,595.2 707.8,594.9 707.8,594.8 708.0,594.6 708.2,594.8 708.3,595.2 708.5,594.9 708.6,595.1 708.7,595.3 708.8,595.2 709.0,594.8 709.2,595.0 709.3,595.1 709.4,594.8 709.5,594.5 709.7,594.9 709.8,595.2 710.0,594.9 710.2,594.8 710.2,595.0 710.3,594.8 711.0,595.0 711.8,595.2 712.6,595.1 713.4,594.9 714.2,595.0 715.0,594.8 715.8,595.3 716.6,595.2 717.4,595.2 718.2,595.4 719.0,594.9 719.8,595.1 720.6,595.2 721.4,594.7 722.2,594.3 723.0,594.0 723.3,594.2 723.5,594.0 723.7,594.4 723.8,594.1 723.8,593.9 724.0,594.2 724.2,594.4 724.3,594.1 724.5,593.7 724.6,593.6 724.7,593.4 724.8,593.5 725.0,593.6 725.2,593.8 725.3,593.7 725.4,593.2 725.5,593.5 725.7,593.4 725.8,593.2 726.0,593.1 726.2,592.8 726.2,592.8 726.4,592.6 726.5,592.0 726.7,591.4 726.9,590.9 727.0,590.2 727.0,590.2 727.2,589.2 727.4,588.9 727.5,588.0 727.7,587.0 727.8,585.9 727.9,585.0 728.0,582.7 728.2,580.3 728.4,576.9 728.5,572.0 728.6,569.2 728.7,565.0 728.9,554.8 729.1,539.7 729.2,517.0 729.4,480.3 729.4,470.8 729.6,420.0 729.7,325.0 729.9,204.0 730.1,138.4 730.2,199.1 730.2,204.1 730.4,324.9 730.6,420.5 730.7,480.9 730.9,517.7 731.0,534.6 731.1,540.3 731.2,555.4 731.4,565.3 731.6,571.8 731.7,576.8 731.8,578.6 731.9,580.5 732.1,583.3 732.3,585.5 732.4,587.0 732.6,588.3 732.6,588.5 732.8,589.0 732.9,589.8 733.1,590.4 733.3,590.8 733.4,591.5 733.6,591.9 733.8,591.9 733.9,592.2 734.1,592.6 734.2,592.8 734.3,592.9 734.4,593.2 734.6,593.0 734.8,593.5 734.9,593.3 735.0,593.2 735.1,593.2 735.3,593.8 735.5,593.9 735.6,593.6 735.8,594.0 735.8,594.3 736.0,594.1 736.1,594.4 736.3,594.3 736.5,594.6 736.6,594.2 736.6,594.4 736.8,594.7 737.4,594.6 738.2,594.8 739.0,594.8 739.9,594.9 740.7,594.6 741.5,594.8 742.3,595.0 743.1,595.4 743.5,595.3 743.7,595.3 743.9,595.2 743.9,595.0 744.0,595.1 744.2,595.4 744.4,595.2 744.6,595.2 744.7,595.0 744.7,594.7 744.9,595.1 745.1,595.1 745.2,595.4 745.4,595.1 745.5,595.3 745.6,595.0 745.7,594.8 745.9,595.1 746.1,594.8 746.2,595.0 746.3,595.1 746.4,595.1 746.6,594.8 746.7,594.9 746.9,595.0 747.1,595.2 747.1,594.9 747.2,595.0 747.4,595.2 747.6,595.4 747.8,595.5 747.9,595.1 747.9,594.9 748.1,594.7 748.3,594.6 748.4,594.7 748.6,594.7 748.7,594.7 748.8,594.7 748.9,594.7 749.1,595.1 749.3,594.9 749.4,595.2 749.5,595.3 749.6,594.9 749.8,595.4 749.9,595.3 750.1,595.3 750.3,595.0 750.4,595.0 750.6,594.8 750.8,594.6 751.0,594.8 751.1,595.2 751.1,595.1 751.3,595.4 751.5,594.9 751.6,594.8 751.8,595.1 751.9,595.3 752.0,595.1 752.1,594.9 752.3,594.7 752.5,594.8 752.6,595.2 752.7,595.0 752.8,595.4 753.0,595.0 753.1,594.9 753.3,594.8 753.5,594.7 753.5,594.8 753.7,594.6 753.8,594.8 754.0,594.9 754.2,595.1 754.3,595.2 754.3,595.5 754.5,595.6 754.7,595.2 754.8,595.3 755.0,595.1 755.1,594.9 755.2,594.8 755.3,594.9 755.5,595.1 755.7,595.3 755.8,595.4 755.9,595.1 756.0,595.0 756.2,594.7 756.3,594.9 756.5,594.7 756.7,594.5 756.7,594.9 756.9,594.6 757.0,594.7 757.2,594.4 757.4,594.4 757.5,594.7 757.5,594.9 757.7,594.9 757.9,594.8 758.0,595.1 758.2,594.6 758.3,594.6 758.4,594.6 758.5,594.3 758.7,594.5 758.9,594.6 759.0,594.2 759.1,594.3 759.2,594.3 759.4,594.3 759.5,594.2 759.7,593.9 759.9,593.5 759.9,593.1 760.1,592.9 760.2,593.0 760.4,593.0 760.6,593.3 760.7,593.3 760.7,592.9 760.9,593.4 761.1,593.6 761.2,593.6 761.4,593.6 761.5,593.8 761.6,593.8 761.7,593.7 761.9,593.8 762.1,594.3 762.2,594.4 762.3,594.1 762.4,594.4 762.6,594.8 762.7,594.6 762.9,595.0 763.1,595.2 763.1,595.0 763.3,595.1 763.4,594.9 763.6,594.8 763.8,595.0 763.9,594.8 763.9,594.8 764.1,594.8 764.3,594.9 764.4,595.0 764.6,595.3 764.7,595.2 764.8,594.8 764.9,594.7 765.1,595.2 765.3,595.5 765.4,595.5 765.5,595.2 765.6,595.2 765.8,595.4 766.0,595.4 766.1,595.2 766.3,595.0 766.3,595.1 766.5,595.0 766.6,595.0 766.8,595.0 767.0,595.4 767.1,595.1 767.3,595.4 767.5,595.6 767.6,595.4 767.8,595.7 767.9,595.8 768.0,595.6 768.1,595.4 768.3,595.6 768.5,595.1 768.6,594.9 768.7,595.0 768.8,595.0 769.0,595.2 769.2,594.9 769.3,595.3 769.5,595.4 769.5,595.5 769.7,595.1 769.8,595.1 770.0,595.2 770.2,595.3 770.3,595.0 770.3,595.2 770.5,595.0 770.7,594.9 770.8,595.1 771.0,595.2 771.1,595.3 771.2,595.3 771.3,595.4 771.5,595.2 771.7,595.3 771.8,595.4 771.9,595.1 772.0,595.2 772.2,595.2 772.4,594.9 772.5,595.1 772.7,595.2 772.7,594.9 772.9,594.7 773.0,594.7 773.2,595.0 773.4,595.0 773.5,594.9 773.5,595.2 773.7,595.0 773.9,594.8 774.0,594.9 774.2,594.9 774.4,595.1 774.4,595.0 774.5,595.3 774.7,595.1 774.9,595.1 775.0,594.8 775.2,595.1 775.2,595.0 775.4,595.4 775.6,595.4 775.7,595.1 775.9,595.3 776.0,595.2 776.1,595.4 776.2,595.4 776.4,595.0 776.6,595.3 776.7,595.0 776.8,595.4 776.9,595.3 777.1,595.0 777.2,594.9 777.6,595.1 778.4,595.1 779.2,595.0 780.0,594.9 780.8,594.9 781.6,595.0 782.4,595.3 783.2,595.1 784.0,595.1 784.8,595.1 785.6,594.8 786.4,595.3 787.2,595.0 788.0,595.3 788.8,595.1 789.6,594.8 790.4,595.2 791.2,595.1 792.0,595.2 792.8,595.2 793.6,595.4 794.4,595.3 795.2,595.0 796.0,595.0 796.8,595.2 797.6,595.0 798.4,595.2 799.2,595.4 800.0,595.3 800.8,595.3 801.0,595.2 801.2,594.9 801.3,595.0 801.5,594.7 801.6,595.0 801.7,594.9 801.8,595.4 802.0,595.4 802.2,595.2 802.3,595.0 802.4,594.9 802.5,595.1 802.7,595.3 802.9,595.3 803.0,595.2 803.2,595.5 803.2,595.5 803.4,595.2 803.5,595.4 803.7,595.4 803.9,595.0 804.0,594.7 804.0,595.1 804.2,595.3 804.4,595.5 804.5,595.6 804.7,595.1 804.8,594.9 804.9,595.1 805.0,595.0 805.2,594.8 805.4,595.2 805.5,594.8 805.6,594.5 805.7,594.8 805.9,594.5 806.1,594.3 806.2,594.3 806.4,593.8 806.4,594.0 806.6,593.7 806.7,593.2 806.9,592.2 807.1,590.4 807.2,588.4 807.2,588.1 807.4,585.7 807.6,584.9 807.7,586.3 807.9,588.5 808.1,590.6 808.1,590.4 808.2,592.1 808.4,593.0 808.6,593.7 808.7,593.8 808.9,593.8 808.9,594.0 809.1,594.5 809.3,594.8 809.4,594.7 809.6,595.0 809.7,594.7 809.8,594.5 809.9,594.9 810.1,595.1 810.3,595.3 810.4,595.0 810.5,595.4 810.6,595.1 810.8,595.4 810.9,595.0 811.1,595.0 811.3,595.0 811.3,595.4 811.4,595.6 811.6,595.5 811.8,595.0 812.0,595.0 812.1,594.8 812.1,595.3 812.3,595.5 812.5,595.7 812.6,595.3 812.8,595.5 812.9,595.5 813.0,595.3 813.1,595.1 813.3,595.3 813.5,595.3 813.6,595.4 813.7,595.3 813.8,595.3 814.0,595.4 814.1,595.5 814.3,595.5 814.5,595.5 815.3,595.7 816.1,595.6 816.9,595.4 817.7,595.5 818.5,595.6 819.3,595.2 820.1,595.2 820.9,595.2 821.7,595.3 822.5,595.0 823.3,594.9 824.1,595.0 824.9,595.0 825.7,594.9 826.5,595.0 827.3,595.2 828.1,595.3 828.9,595.2 829.7,595.2 830.1,595.2 830.3,595.1 830.5,594.9 830.5,594.7 830.7,595.1 830.8,595.5 831.0,595.5 831.2,595.6 831.3,595.2 831.3,595.1 831.5,595.2 831.7,595.4 831.8,595.0 832.0,594.8 832.1,594.8 832.2,594.8 832.3,594.7 832.5,594.9 832.7,595.0 832.8,595.0 832.9,594.7 833.0,594.5 833.2,594.4 833.3,594.4 833.5,595.0 833.7,595.1 833.7,594.7 833.9,594.7 834.0,594.8 834.2,594.9 834.4,594.6 834.5,594.6 834.7,594.3 834.9,594.7 835.0,594.2 835.2,594.6 835.3,594.7 835.4,594.6 835.5,594.2 835.7,594.3 835.9,593.9 836.0,593.2 836.1,593.2 836.2,592.8 836.4,592.4 836.6,591.7 836.7,591.1 836.9,589.8 836.9,589.1 837.1,587.7 837.2,585.5 837.4,582.1 837.6,577.7 837.7,573.6 837.7,573.4 837.9,571.6 838.1,573.8 838.2,578.1 838.4,582.2 838.5,585.1 838.6,585.9 838.7,588.0 838.9,589.9 839.1,590.8 839.2,591.7 839.3,592.5 839.4,592.6 839.6,593.3 839.8,593.3 839.9,593.5 840.1,593.7 840.1,594.2 840.3,594.6 840.4,594.3 840.6,594.7 840.8,594.9 840.9,595.2 840.9,595.2 841.1,595.0 841.3,594.6 841.4,594.8 841.6,595.0 841.7,594.7 841.8,595.0 841.9,594.9 842.1,594.8 842.3,594.6 842.4,595.1 842.6,595.0 842.6,595.1 842.8,594.8 843.0,595.1 843.1,594.9 843.3,595.2 843.4,595.2 843.5,594.8 843.6,595.1 843.8,595.3 844.0,594.9 844.1,594.9 844.2,595.3 844.3,595.4 844.5,595.5 844.6,595.5 844.8,595.1 845.0,595.0 845.0,594.7 845.1,594.8 845.3,594.9 845.5,595.1 845.6,595.0 845.8,595.1 846.6,595.4 847.4,595.3 848.2,595.4 849.0,595.3 849.8,595.6 850.6,595.7 851.4,595.2 852.2,595.3 853.0,595.4 853.8,595.6 854.6,595.3 855.4,595.0 856.2,595.3 857.0,595.3 857.8,595.2 858.6,595.0 859.4,595.1 860.2,595.3 861.0,595.5 861.5,595.2 861.7,595.5 861.8,595.1 861.8,595.5 862.0,595.6 862.2,595.4 862.3,595.1 862.5,595.1 862.6,594.9 862.7,594.9 862.8,594.9 863.0,595.3 863.2,595.0 863.3,595.4 863.4,595.5 863.5,595.7 863.7,595.8 863.8,595.3 864.0,595.3 864.2,595.6 864.2,595.7 864.4,595.2 864.5,595.1 864.7,594.9 864.9,595.3 865.0,595.5 865.0,595.5 865.2,595.6 865.4,595.7 865.5,595.6 865.7,595.3 865.8,595.5 865.9,595.5 866.0,595.3 866.2,595.3 866.4,595.4 866.5,595.2 866.6,595.1 866.7,595.1 866.9,595.0 867.0,595.1 867.2,594.7 867.4,594.6 867.4,594.5 867.6,594.2 867.7,592.7 867.9,590.4 868.1,585.9 868.2,582.0 868.4,585.6 868.6,590.5 868.7,592.8 868.9,593.7 869.0,594.2 869.1,594.2 869.2,594.2 869.4,594.9 869.6,595.1 869.7,595.2 869.8,595.0 869.9,594.8 870.1,594.8 870.2,594.6 870.4,595.1 870.6,595.2 870.6,594.9 870.8,594.8 870.9,595.3 871.1,594.9 871.3,594.8 871.4,594.7 871.4,595.0 871.6,595.0 871.8,594.8 871.9,594.7 872.1,594.9 872.2,594.7 872.3,594.6 872.4,594.6 872.6,594.8 872.8,594.6 872.9,595.1 873.0,595.2 873.1,595.2 873.3,595.5 873.5,595.1 873.6,595.5 873.8,595.3 873.8,595.4 874.0,595.4 874.1,595.3 874.3,595.5 874.5,595.4 874.6,595.1 874.6,594.8 874.8,595.1 875.0,595.3 875.4,595.1 876.3,595.4 877.1,595.1 877.9,595.3 878.7,595.3 879.5,595.4 880.3,595.7 881.1,595.8 881.9,595.9 882.7,595.7 883.5,595.7 884.3,595.1 885.1,595.1 885.9,595.4 886.7,595.2 887.5,595.4 888.3,595.3 889.1,595.1 889.9,594.9 890.7,594.7 891.5,595.0 892.3,595.2 892.4,595.3 892.5,595.4 892.7,595.1 892.9,595.2 893.1,595.1 893.1,595.4 893.2,595.1 893.4,594.8 893.6,595.2 893.7,595.1 893.9,595.4 893.9,595.7 894.1,595.5 894.2,595.6 894.4,595.3 894.6,595.2 894.7,595.1 894.7,594.8 894.9,595.3 895.1,595.5 895.2,595.7 895.4,595.5 895.5,595.1 895.6,595.0 895.7,595.1 895.9,594.9 896.1,595.1 896.3,595.4 896.3,595.2 896.4,595.6 896.6,595.6 896.8,595.8 896.9,595.7 897.1,595.8 897.1,595.5 897.3,595.6 897.4,595.4 897.6,595.1 897.8,595.2 897.9,595.5 897.9,595.2 898.1,595.0 898.3,594.8 898.4,595.0 898.6,595.0 898.7,594.8 898.8,594.9 898.9,594.7 899.1,595.0 899.3,594.9 899.5,594.9 899.5,595.1 899.6,595.5 899.8,595.3 900.0,595.4 900.1,595.2 900.3,595.2 900.3,595.2 900.5,595.5 900.6,595.6 900.8,595.3 901.0,595.1 901.1,594.8 901.1,594.7 901.3,595.1 901.5,595.1 901.6,595.1 901.8,594.9 901.9,595.1 902.0,594.8 902.2,594.9 902.3,595.1 902.5,595.1 902.7,595.1 902.7,594.7 902.8,595.2 903.0,595.2 903.2,595.4 903.3,595.0 903.5,595.2 903.5,595.3 903.7,595.1 903.8,594.9 904.0,594.6 904.2,594.6 904.3,594.7 904.3,594.7 904.5,594.2 904.7,594.4 904.7,594.6 904.8,594.0 904.9,594.0 905.0,594.1 905.1,594.2 905.1,593.7 905.2,593.4 905.2,593.8 905.4,593.4 905.4,593.5 905.5,593.4 905.6,593.2 905.7,593.4 905.7,592.9 905.9,593.0 905.9,593.3 905.9,593.0 906.0,593.3 906.1,593.6 906.2,593.4 906.3,593.4 906.4,593.2 906.4,593.2 906.5,593.7 906.6,594.1 906.7,594.0 906.7,594.0 906.8,594.1 906.9,593.9 906.9,594.3 907.0,594.2 907.1,594.6 907.2,594.3 907.3,594.1 907.4,594.2 907.4,594.5 907.5,594.5 907.6,594.3 907.7,594.3 907.8,594.8 907.9,594.8 907.9,595.1 908.0,595.0 908.1,594.6 908.2,594.5 908.3,594.9 908.3,594.9 908.4,595.0 908.4,595.2 908.6,594.9 908.6,594.8 908.7,595.0 908.8,595.1 908.9,594.9 908.9,594.8 909.1,594.9 909.1,595.3 909.1,595.5 909.2,595.5 909.3,595.1 909.4,595.1 909.5,595.0 909.6,595.1 909.6,595.2 909.7,595.4 909.8,594.9 909.9,594.9 910.0,595.3 910.0,595.0 910.1,595.0 910.1,595.0 910.2,594.8 910.3,594.9 910.4,594.7 910.5,594.6 910.6,594.9 910.6,594.9 910.7,595.1 910.8,595.2 910.8,595.2 910.9,595.1 911.0,595.2 911.1,595.3 911.1,595.0 911.2,594.8 911.3,594.8 911.4,594.7 911.5,595.0 911.6,595.0 911.6,595.2 911.6,595.3 911.8,595.5 911.8,595.1 911.9,594.8 912.0,595.1 912.1,595.2 912.1,595.5 912.3,595.6 912.3,595.3 912.4,594.9 912.4,595.3 912.5,595.4 912.6,595.1 912.7,595.3 912.8,595.0 912.8,595.2 912.9,595.2 913.0,595.4 913.1,595.4 913.2,595.4 913.3,595.4 913.3,595.1 913.4,595.5 913.5,595.2 913.6,595.0 913.7,595.2 913.8,595.4 913.8,595.6 913.9,595.7 914.0,595.2 914.0,595.1 914.1,595.5 914.2,595.4 914.3,595.2 914.3,595.3 914.5,595.6 914.5,595.4 914.6,595.4 914.7,595.0 914.8,595.2 914.8,594.8 914.8,594.7 915.0,594.9 915.0,595.3 915.1,595.0 915.2,595.4 915.3,595.2 915.3,595.5 915.5,595.6 915.5,595.5 915.6,595.6 915.6,595.0 915.7,595.0 915.8,594.8 915.9,594.6 916.0,594.7 916.0,594.8 916.1,595.0 916.2,594.9 916.3,594.9 916.4,595.2 916.4,595.2 916.5,595.2 916.5,595.2 916.6,595.0 916.7,594.9 916.8,595.0 916.9,594.8 917.0,594.7 917.0,595.2 917.1,595.4 917.2,595.6 917.2,595.7 917.3,595.1 917.4,595.3 917.5,595.2 917.5,595.2 917.7,595.1 917.7,595.3 917.8,595.0 917.9,595.2 918.0,594.9 918.0,594.8 918.0,595.3 918.2,595.2 918.2,595.5 918.3,595.0 918.4,595.4 918.5,595.4 918.6,595.1 918.7,595.1 918.7,595.0 918.8,595.1 918.8,595.1 918.9,595.3 919.0,595.3 919.1,595.4 919.2,595.1 919.2,595.4 919.3,595.5 919.4,595.6 919.5,595.3 919.6,595.2 919.6,595.5 919.7,595.0 919.7,594.8 919.8,595.0 919.9,595.3 920.0,595.0 920.1,594.7 920.2,595.1 920.2,594.9 920.3,594.8 920.4,594.6 920.4,595.0 920.5,595.3 920.6,595.5 920.7,595.5 920.7,595.0 920.9,594.8 920.9,594.9 921.0,595.3 921.1,595.3 921.2,595.4 921.2,595.1 921.2,595.0 921.4,594.8 921.4,595.0 921.5,595.1 921.6,595.1 921.7,595.2 921.8,595.2 921.9,595.0 921.9,594.9 922.0,595.1 922.0,595.0 922.1,595.3 922.2,595.5 922.3,595.4 922.4,595.3 922.4,595.6 922.5,595.6 922.6,595.4 922.7,594.9 922.8,594.7 922.8,595.2 922.9,595.3 922.9,595.3 923.0,595.3 923.1,595.4 923.2,595.2 923.3,594.9 923.4,595.0 923.4,595.2 923.6,595.4 923.6,595.6 923.6,595.1 923.7,595.3 923.8,595.0 923.9,594.8 923.9,595.2 924.1,595.3 924.1,595.3 924.2,594.9 924.3,594.8 924.4,595.0 924.4,595.0 924.6,595.1 924.6,595.0 924.7,594.8 924.8,595.0 924.9,594.7 925.0,594.5 925.1,594.6 925.1,594.4 925.2,594.3 925.2,594.8 925.3,594.5 925.4,594.9 925.5,594.6 925.6,595.0 925.6,595.1 925.7,595.0 925.8,594.7 925.9,594.6 926.0,594.9 926.0,594.6 926.1,594.4 926.1,594.6 926.2,595.0 926.3,595.0 926.4,595.0 926.5,595.0 926.6,594.5 926.6,594.5 926.8,594.4 926.8,594.8 926.8,594.9 926.9,594.6 927.0,594.7 927.1,594.9 927.1,595.1 927.3,595.1 927.3,594.9 927.4,594.7 927.5,594.7 927.6,594.5 927.6,594.7 927.7,594.9 927.8,594.5 927.8,594.6 927.9,594.5 928.0,594.5 928.1,594.6 928.2,594.7 928.3,594.6 928.3,594.6 928.4,594.6 928.4,594.8 928.5,594.5 928.6,594.6 928.7,594.1 928.8,594.1 928.8,594.0 928.9,593.9 929.0,594.2 929.1,594.2 929.2,593.8 929.2,593.7 929.3,593.6 929.3,593.7 929.4,593.4 929.5,593.4 929.6,593.1 929.7,592.9 929.8,592.7 929.8,592.7 930.0,592.6 930.0,592.8 930.1,592.7 930.2,592.6 930.3,592.5 930.3,592.3 930.5,592.0 930.5,592.5 930.6,592.1 930.7,592.0 930.8,591.9 930.8,591.6 930.9,592.1 931.0,591.9 931.0,591.9 931.1,591.4 931.2,591.8 931.3,591.6 931.4,591.8 931.5,591.4 931.5,591.5 931.6,591.3 931.6,591.5 931.7,591.2 931.8,591.7 931.9,591.8 932.0,591.5 932.0,591.3 932.1,591.2 932.2,591.6 932.3,592.0 932.4,591.8 932.4,591.7 932.5,592.1 932.5,591.8 932.6,591.9 932.7,592.4 932.8,592.4 932.9,592.5 933.0,592.8 933.0,592.5 933.2,592.3 933.2,592.8 933.2,592.8 933.3,593.0 933.4,592.9 933.5,593.3 933.5,593.3 933.7,593.4 933.7,593.4 933.8,593.4 933.9,593.4 934.0,593.1 934.0,593.0 934.1,592.9 934.2,593.0 934.2,593.5 934.3,593.8 934.4,593.8 934.5,593.8 934.6,593.7 934.7,594.0 934.7,593.6 934.8,593.9 934.8,594.3 934.9,594.5 935.0,594.5 935.1,594.2 935.2,593.9 935.2,594.4 935.3,594.5 935.4,594.6 935.5,594.2 935.6,594.0 935.6,594.3 935.7,594.6 935.7,594.1 935.9,593.9 935.9,594.0 936.0,594.2 936.1,594.1 936.2,594.1 936.2,594.2 936.4,594.5 936.4,594.5 936.4,594.3 936.5,594.5 936.6,594.4 936.7,594.7 936.7,594.3 936.9,594.6 936.9,594.8 937.0,594.3 937.1,594.1 937.2,594.0 937.2,594.0 937.3,594.0 937.4,594.0 937.4,594.2 937.5,594.7 937.6,594.5 937.7,594.3 937.8,594.2 937.9,594.7 937.9,595.0 938.0,594.6 938.0,594.6 938.1,594.3 938.2,594.1 938.3,594.4 938.4,594.3 938.4,594.3 938.5,594.3 938.6,594.5 938.7,594.5 938.8,594.8 938.8,594.4 938.9,594.3 938.9,594.2 939.1,594.4 939.1,594.7 939.2,594.7 939.3,594.5 939.4,594.5 939.4,594.8 939.6,595.0 939.6,594.9 939.6,594.9 939.7,594.9 939.8,595.0 939.9,594.8 940.0,594.5 940.1,594.2 940.1,594.2 940.2,594.7 940.3,594.3 940.4,594.3 940.4,594.2 940.5,594.2 940.6,594.4 940.6,594.5 940.7,594.8 940.8,594.5 940.9,594.8 941.0,594.5 941.1,594.1 941.1,594.1 941.2,594.1 941.3,594.0 941.4,593.8 941.5,593.8 941.6,593.6 941.6,593.9 941.7,594.4 941.8,594.2 941.9,594.1 942.0,593.8 942.0,593.9 942.1,594.1 942.1,594.4 942.3,594.0 942.3,593.9 942.4,593.6 942.5,593.7 942.6,593.5 942.6,593.5 942.8,593.3 942.8,593.6 942.8,593.4 942.9,593.6 943.0,594.1 943.1,594.0 943.2,594.0 943.3,593.4 943.3,593.6 943.4,593.7 943.5,593.5 943.6,593.7 943.6,593.7 943.7,593.7 943.8,593.8 943.8,593.5 943.9,593.4 944.0,593.1 944.1,593.2 944.2,592.7 944.3,593.0 944.3,592.9 944.4,593.0 944.5,593.3 944.5,593.2 944.6,592.6 944.7,592.7 944.8,592.6 944.8,592.5 944.9,592.5 945.0,592.3 945.1,592.5 945.2,592.3 945.3,592.2 945.3,591.8 945.3,591.6 945.5,591.4 945.5,591.4 945.6,591.0 945.7,590.9 945.8,591.2 945.8,591.4 946.0,590.9 946.0,590.5 946.1,590.2 946.1,590.1 946.2,590.5 946.3,590.2 946.4,590.1 946.5,589.8 946.5,590.1 946.6,589.5 946.7,589.5 946.8,589.5 946.9,589.0 947.0,589.0 947.0,589.3 947.1,588.9 947.2,589.0 947.3,589.0 947.4,588.9 947.5,588.6 947.5,588.6 947.6,588.3 947.7,588.0 947.7,587.8 947.8,587.7 947.9,587.6 948.0,588.1 948.0,587.9 948.2,588.4 948.2,588.3 948.3,588.6 948.4,588.8 948.5,588.4 948.5,588.7 948.5,588.5 948.7,588.6 948.7,589.1 948.8,588.9 948.9,589.3 949.0,589.0 949.0,588.9 949.2,589.3 949.2,589.5 949.3,589.9 949.3,589.7 949.4,590.1 949.5,590.2 949.6,589.9 949.7,590.1 949.7,590.5 949.8,590.5 949.9,590.5 950.0,590.9 950.1,590.8 950.1,590.8 950.2,591.1 950.2,591.2 950.3,591.6 950.4,591.7 950.5,591.5 950.6,591.8 950.7,591.7 950.7,592.0 950.8,592.4 950.9,592.6 950.9,592.1 951.0,592.1 951.1,591.9 951.2,592.2 951.2,592.7 951.4,593.0 951.4,593.3 951.5,593.1 951.6,592.9 951.7,592.7 951.7,593.0 951.7,593.2 951.9,593.5 951.9,593.6 952.0,593.9 952.1,593.6 952.2,593.6 952.3,593.7 952.4,593.3 952.4,593.6 952.5,593.4 952.5,593.5 952.6,593.9 952.7,594.2 952.8,593.9 952.9,593.6 952.9,594.1 953.0,593.9 953.1,594.1 953.2,593.9 953.3,593.7 953.3,593.7 953.4,594.0 953.4,594.3 953.5,593.9 953.6,593.7 953.7,593.6 953.8,593.9 953.9,594.4 953.9,594.4 954.0,594.1 954.1,594.5 954.1,594.5 954.2,594.8 954.3,594.3 954.4,594.5 954.4,594.7 954.6,594.7 954.6,594.8 954.7,594.7 954.8,594.5 954.9,594.4 954.9,594.7 954.9,594.6 955.1,594.9 955.1,594.8 955.2,594.5 955.3,594.7 955.4,594.4 955.5,594.7 955.6,594.7 955.6,594.5 955.7,594.9 955.7,594.7 955.8,594.7 955.9,594.5 956.0,594.3 956.1,594.3 956.1,594.7 956.2,594.9 956.3,594.8 956.4,595.0 956.5,594.8 956.5,595.1 956.6,594.8 956.6,594.8 956.7,595.1 956.8,595.2 956.9,594.7 957.0,594.5 957.1,594.4 957.1,594.6 957.2,594.4 957.3,594.8 957.3,594.7 957.4,594.4 957.5,594.8 957.6,595.2 957.6,595.3 957.8,595.4 957.8,594.9 957.9,594.8 958.0,594.9 958.1,595.2 958.1,594.9 958.3,595.2 958.3,595.3 958.4,595.1 958.5,594.9 958.6,594.7 958.7,594.6 958.8,595.0 958.9,595.1 958.9,595.3 959.1,595.1 959.3,595.4 959.4,594.9 959.6,594.8 959.7,594.7 959.8,594.8 959.9,594.6 960.1,594.5 960.3,594.5 960.5,594.5 960.5,594.9 960.6,595.1 960.8,595.4 961.0,595.0 961.1,595.1 961.3,594.7 961.3,595.0 961.5,595.1 961.6,594.8 961.8,594.6 962.0,594.6 962.1,594.5 962.1,594.5 962.3,594.9 962.5,594.9 962.6,595.3 962.8,595.1 962.9,594.7 963.0,594.9 963.1,595.2 963.3,595.1 963.5,595.4 963.7,595.3 963.7,595.5 963.8,595.4 964.0,595.0 964.2,594.9 964.3,594.7 964.5,594.9 964.5,595.0 964.7,595.4 964.8,595.1 965.0,595.0 965.2,595.1 965.3,595.4 965.3,595.3 965.5,595.5 965.7,595.6 965.8,595.7 966.0,595.5 966.1,595.6 966.2,595.1 966.3,595.1 966.5,594.8 966.7,594.9 966.9,595.3 966.9,595.4 967.0,595.0 967.2,595.0 967.4,595.0 967.5,594.9 967.7,595.4 967.7,595.5 967.9,595.4 968.0,595.0 968.2,594.8 968.4,594.9 968.5,595.2 968.5,595.5 968.7,595.3 968.9,595.3 969.0,594.9 969.2,595.2 969.3,595.4 969.4,595.6 969.5,595.8 969.7,595.3 969.9,594.9 970.1,595.3 970.1,595.6 970.2,595.3 970.4,595.4 970.6,595.2 970.7,594.9 970.9,594.8 970.9,595.1 971.1,595.1 971.2,595.3 971.4,595.0 971.6,595.3 971.7,594.9 971.7,594.9 971.9,594.7 972.1,595.0 972.2,594.8 972.4,594.9 972.5,595.2 972.6,595.1 972.8,595.2 972.9,595.5 973.1,595.7 973.3,595.4 973.3,595.5 973.4,595.6 973.6,595.2 973.8,595.4 973.9,595.1 974.1,595.3 974.1,595.3 974.3,594.9 974.4,594.8 974.6,594.7 974.8,594.6 974.9,594.8 975.1,594.6 975.3,594.8 975.4,594.9 975.6,595.1 975.7,595.2 975.8,595.1 976.0,595.3 976.1,595.1 976.3,594.9 976.5,594.8 976.5,595.2 976.6,595.5 976.8,595.4 977.0,595.4 977.1,595.0 977.3,595.0 977.3,595.1 977.5,595.0 977.6,595.0 977.8,594.9 978.0,595.0 978.1,595.0 978.2,595.3 978.3,595.5 978.5,595.4 978.6,595.0 978.8,594.7 979.0,595.0 979.0,595.0 979.2,595.0 979.3,595.1 979.5,595.3 979.7,595.0 979.8,595.4 979.8,595.4 980.0,595.4 980.2,595.5 980.3,595.5 980.5,595.6 980.6,595.4 980.7,595.5 980.8,595.2 981.0,595.0 981.2,594.9 981.3,595.0 981.4,594.9 981.4,595.1 981.5,595.1 981.6,594.9 981.7,595.2 981.7,594.9 981.9,594.9 982.1,594.6 982.2,594.7 982.2,594.8 982.4,594.6 982.6,594.9 982.7,595.0 982.9,595.0 983.0,594.8 983.1,594.6 983.3,594.9 983.4,594.5 983.6,594.3 983.8,594.5 983.8,594.2 983.9,594.3 984.1,594.5 984.3,594.8 984.4,595.0 984.6,594.7 984.6,594.4 984.8,594.2 984.9,594.0 985.1,594.0 985.3,593.8 985.4,593.7 985.4,593.6 985.6,593.4 985.8,593.1 985.9,592.8 986.1,592.8 986.2,592.4 986.3,591.9 986.5,591.3 986.6,590.0 986.8,588.9 987.0,587.4 987.0,587.1 987.1,584.7 987.3,580.9 987.5,573.9 987.6,564.2 987.8,552.2 987.8,550.3 988.0,535.0 988.1,527.2 988.3,535.0 988.5,549.9 988.6,559.5 988.6,563.8 988.8,573.6 989.0,580.4 989.2,584.4 989.3,587.1 989.4,588.2 989.5,589.3 989.7,590.5 989.8,591.1 990.0,592.2 990.2,592.6 990.2,592.7 990.3,593.0 990.5,593.1 990.7,593.4 990.8,593.8 991.0,593.7 991.0,593.7 991.2,594.2 991.3,594.2 991.5,594.1 991.7,594.6 991.8,594.5 991.8,594.5 992.0,594.8 992.2,595.0 992.4,595.1 992.5,595.0 992.6,595.0 992.7,594.8 992.9,595.0 993.0,594.9 993.2,594.9 993.4,594.7 993.4,594.6 993.5,594.9 993.7,594.6 993.9,594.7 994.0,595.0 994.2,595.2 994.2,594.9 994.4,595.0 994.5,594.9 994.7,595.1 994.9,594.8 995.0,595.1 995.8,594.9 996.6,595.0 997.4,595.2 998.2,595.1 999.0,595.1 999.8,595.1 1000.6,595.1 1001.4,594.8 1002.2,594.8 1003.0,595.3 1003.8,594.9 1004.6,595.4 1005.4,595.6 1006.2,595.2 1007.0,595.4 1007.8,595.6 1008.6,595.7 1009.4,595.5 1010.2,595.1 1011.0,595.5 1011.8,595.6 1012.7,595.8 1013.5,595.9 1014.3,595.7 1015.1,595.5 1015.9,595.0 1016.7,595.0 1017.5,594.8 1018.3,594.9 1019.1,594.8 1019.9,594.8 1020.7,595.2 1021.5,595.3 1022.3,595.3 1023.1,595.5 1023.9,595.1 1024.7,595.1 1025.5,595.4 1026.3,595.3 1027.1,595.0 1027.9,595.3 1028.7,595.2 1029.5,595.5 1030.3,595.5 1031.1,595.6 1031.9,595.4 1032.7,595.2 1033.5,595.4 1034.3,595.2 1035.1,595.1 1035.9,595.0 1036.7,594.7 1037.5,595.0 1038.3,594.7 1039.1,594.9 1039.9,595.0 1040.7,595.3 1041.5,595.5 1042.3,595.2 1043.1,595.4 1043.9,595.6 1044.7,595.6 1045.5,595.3 1046.4,595.3 1046.6,595.3 1046.7,594.9 1046.9,594.9 1047.1,595.1 1047.2,594.8 1047.2,594.4 1047.4,594.5 1047.6,594.6 1047.7,594.6 1047.9,594.5 1048.0,594.3 1048.1,594.2 1048.2,594.5 1048.4,594.3 1048.6,594.6 1048.7,594.8 1048.8,594.6 1048.9,594.7 1049.1,594.4 1049.2,594.4 1049.4,593.9 1049.6,593.9 1049.6,593.7 1049.8,593.3 1049.9,593.4 1050.1,593.1 1050.3,593.1 1050.4,593.1 1050.4,593.2 1050.6,592.7 1050.8,592.0 1050.9,591.5 1051.1,591.1 1051.2,590.9 1051.3,590.5 1051.4,589.5 1051.6,587.9 1051.8,586.6 1051.9,584.0 1052.0,583.4 1052.1,580.5 1052.3,574.4 1052.4,565.6 1052.6,551.2 1052.8,530.6 1052.8,527.6 1053.0,490.3 1053.1,442.9 1053.3,417.4 1053.5,442.8 1053.6,474.6 1053.6,490.4 1053.8,527.6 1054.0,551.3 1054.1,565.7 1054.3,574.2 1054.4,577.1 1054.5,580.0 1054.6,583.9 1054.8,586.2 1055.0,588.3 1055.1,589.7 1055.2,590.0 1055.3,590.9 1055.5,591.1 1055.7,591.4 1055.8,592.1 1056.0,592.9 1056.0,592.6 1056.2,592.8 1056.3,593.4 1056.5,593.3 1056.7,593.8 1056.8,594.0 1056.8,593.7 1057.0,593.6 1057.2,594.0 1057.3,594.1 1057.5,593.9 1057.6,594.0 1057.7,594.1 1057.8,594.4 1058.0,594.7 1058.2,594.8 1058.3,594.6 1058.4,594.5 1058.5,594.5 1058.7,594.4 1058.9,594.4 1059.0,594.4 1059.2,594.5 1059.4,594.3 1059.5,594.4 1059.7,594.2 1059.9,594.1 1060.0,594.1 1060.0,594.1 1060.8,594.2 1061.6,594.3 1062.4,594.6 1063.2,594.7 1063.4,594.4 1063.6,594.5 1063.7,594.3 1063.9,594.2 1064.0,594.1 1064.1,594.2 1064.2,594.3 1064.4,594.3 1064.6,594.0 1064.7,593.6 1064.8,593.9 1064.9,593.9 1065.1,593.8 1065.3,593.7 1065.4,593.4 1065.6,593.1 1065.6,593.0 1065.8,592.8 1065.9,592.6 1066.1,592.2 1066.3,592.3 1066.4,592.2 1066.4,592.1 1066.6,592.0 1066.8,591.4 1066.9,591.1 1067.1,590.6 1067.2,590.2 1067.3,590.1 1067.4,589.6 1067.6,588.7 1067.8,587.4 1068.0,585.6 1068.0,585.3 1068.1,583.8 1068.3,581.2 1068.5,577.9 1068.6,573.7 1068.8,567.7 1068.8,566.1 1069.0,558.5 1069.1,544.9 1069.3,523.4 1069.5,489.6 1069.6,440.7 1069.6,434.0 1069.8,346.8 1070.0,235.9 1070.1,176.1 1070.3,236.2 1070.4,310.6 1070.5,346.6 1070.6,434.5 1070.8,489.7 1071.0,523.8 1071.2,544.9 1071.2,551.6 1071.3,558.4 1071.5,567.4 1071.7,573.6 1071.8,578.4 1072.0,581.3 1072.0,581.8 1072.2,583.8 1072.3,585.4 1072.5,587.2 1072.7,588.5 1072.8,589.3 1072.8,589.2 1073.0,589.7 1073.2,590.3 1073.3,591.3 1073.5,591.4 1073.6,591.8 1073.7,592.2 1073.8,592.2 1074.0,592.4 1074.2,592.5 1074.4,592.8 1074.4,593.2 1074.5,593.3 1074.7,593.5 1074.9,593.7 1075.0,593.7 1075.2,594.0 1075.2,594.1 1075.4,594.3 1075.5,594.6 1075.7,594.4 1075.9,594.1 1076.0,594.3 1076.2,594.0 1076.4,594.1 1076.5,594.2 1076.7,594.5 1076.8,594.2 1076.9,594.4 1077.6,594.4 1078.4,594.8 1079.2,594.5 1080.0,594.6 1080.9,595.0 1081.7,594.9 1082.5,595.2 1083.3,595.2 1084.1,595.3 1084.9,595.3 1085.7,595.3 1086.5,595.5 1087.3,595.4 1088.1,595.6 1088.9,595.2 1089.7,595.3 1090.5,595.1 1091.3,595.2 1092.1,594.8 1092.9,594.7 1093.7,594.8 1094.5,594.7 1095.3,594.6 1096.1,594.6 1096.9,594.9 1097.7,595.0 1098.5,595.4 1099.3,595.4 1100.1,595.4 1100.2,595.2 1100.4,595.6 1100.5,595.2 1100.7,595.5 1100.9,595.4 1100.9,595.3 1101.0,595.0 1101.2,595.0 1101.4,595.3 1101.5,595.2 1101.7,595.4 1101.7,595.2 1101.9,595.3 1102.0,594.9 1102.2,595.1 1102.4,595.3 1102.5,595.4 1102.5,595.0 1102.7,595.2 1102.9,595.4 1103.1,595.3 1103.2,595.1 1103.3,594.8 1103.4,595.3 1103.6,595.3 1103.7,595.1 1103.9,595.1 1104.1,595.0 1104.1,594.9 1104.2,595.3 1104.4,595.6 1104.6,595.6 1104.7,595.5 1104.9,595.5 1104.9,595.5 1105.1,595.6 1105.2,595.6 1105.4,595.3 1105.6,594.9 1105.7,595.0 1105.7,595.2 1105.9,594.7 1106.1,594.7 1106.3,594.3 1106.4,593.1 1106.5,592.1 1106.6,590.8 1106.8,586.6 1106.9,583.1 1107.1,586.7 1107.3,591.2 1107.3,591.8 1107.4,592.9 1107.6,593.6 1107.8,594.5 1107.9,594.8 1108.1,594.8 1108.1,595.1 1108.3,595.3 1108.4,594.9 1108.6,594.7 1108.8,594.5 1108.9,594.7 1109.0,594.7 1109.1,594.8 1109.3,595.0 1109.5,595.3 1109.6,595.1 1109.7,595.1 1109.8,595.0 1110.0,595.4 1110.1,595.4 1110.3,595.5 1110.5,595.1 1110.5,595.1 1110.6,595.2 1110.8,594.9 1111.0,594.8 1111.1,594.9 1111.3,594.7 1111.3,594.9 1111.5,594.8 1111.6,594.2 1111.8,592.8 1112.0,592.0 1112.1,592.5 1112.2,592.3 1112.3,593.3 1112.5,593.9 1112.7,594.7 1112.8,594.9 1112.9,594.9 1113.0,595.0 1113.2,594.9 1113.3,595.1 1113.5,595.0 1113.7,595.3 1113.7,595.2 1113.8,595.2 1114.0,595.2 1114.2,595.5 1114.3,595.5 1114.5,595.2 1114.6,595.4 1114.7,595.3 1114.8,594.9 1115.0,594.9 1115.2,594.9 1115.4,594.8 1115.5,594.6 1115.7,595.0 1115.9,595.1 1116.0,595.0 1116.2,595.4 1116.2,595.3 1116.4,595.4 1116.5,595.2 1116.7,595.0 1116.9,594.8 1117.0,594.9 1117.0,594.9 1117.2,595.3 1117.4,595.0 1117.5,594.7 1117.7,594.7 1117.8,594.7 1117.9,594.7 1118.0,594.6 1118.2,594.5 1118.4,594.0 1118.6,592.8 1118.6,592.7 1118.7,592.6 1118.9,592.9 1119.1,593.4 1119.2,594.0 1119.4,594.6 1119.4,594.3 1119.6,594.9 1119.7,595.0 1119.9,595.1 1120.1,595.3 1120.2,595.4 1120.2,595.5 1120.4,595.6 1120.6,595.7 1120.7,595.4 1120.9,595.2 1121.0,595.3 1121.1,594.9 1121.3,595.1 1121.4,595.2 1121.6,594.9 1121.8,594.9 1121.8,595.1 1121.9,594.9 1122.1,594.9 1122.3,595.2 1122.4,595.5 1122.6,595.2 1122.6,595.0 1122.8,595.0 1122.9,595.4 1123.1,595.1 1123.3,595.4 1123.4,595.1 1123.4,595.1 1123.6,595.0 1123.8,595.4 1123.9,595.4 1124.1,595.2 1124.2,595.5 1124.3,595.7 1124.5,595.5 1124.6,595.1 1124.8,595.1 1125.0,595.3 1125.0,595.6 1125.1,595.2 1125.3,595.0 1125.5,594.9 1125.8,595.3 1126.6,595.1 1127.4,595.5 1128.2,595.6 1129.0,595.6 1129.8,595.1 1130.6,595.5 1131.4,595.6 1132.2,595.3 1133.0,595.1 1133.8,595.3 1133.9,595.6 1134.1,595.2 1134.3,594.8 1134.4,594.7 1134.6,594.9 1134.6,595.3 1134.8,595.1 1135.0,595.1 1135.1,594.9 1135.3,594.8 1135.4,595.0 1135.5,594.8 1135.6,595.0 1135.8,595.1 1136.0,595.1 1136.1,594.9 1136.2,595.0 1136.3,594.8 1136.5,595.1 1136.6,594.9 1136.8,594.8 1137.0,595.1 1137.0,595.5 1137.1,595.3 1137.3,595.2 1137.5,594.8 1137.7,595.0 1137.8,594.9 1138.0,594.8 1138.2,595.2 1138.3,595.1 1138.5,595.2 1138.6,595.4 1138.7,595.4 1138.8,595.4 1139.0,595.1 1139.2,595.0 1139.3,595.2 1139.4,595.4 1139.5,595.0 1139.7,594.8 1139.8,594.6 1140.0,594.5 1140.2,594.8 1140.2,594.9 1140.3,594.7 1140.5,594.6 1140.7,593.9 1140.9,593.8 1141.0,593.6 1141.0,593.5 1141.2,593.5 1141.4,593.8 1141.5,593.9 1141.7,594.1 1141.8,594.3 1141.9,594.7 1142.0,594.7 1142.2,594.8 1142.4,595.0 1142.5,595.2 1142.6,595.4 1142.7,595.2 1142.9,595.3 1143.0,595.1 1143.2,595.0 1143.4,595.2 1143.4,595.1 1143.5,595.3 1143.7,595.1 1143.9,595.3 1144.1,595.2 1144.2,595.0 1144.2,594.9 1144.4,595.0 1144.6,594.8 1144.7,594.6 1144.9,594.7 1145.0,595.0 1145.1,595.3 1145.2,595.1 1145.4,595.4 1145.6,595.6 1145.7,595.7 1145.8,595.4 1145.9,595.4 1146.1,595.0 1146.2,594.9 1146.4,595.0 1146.6,595.2 1146.6,595.3 1146.7,595.6 1146.8,595.7 1146.9,595.2 1147.0,595.3 1147.1,595.6 1147.1,595.1 1147.3,595.2 1147.3,595.0 1147.4,595.1 1147.4,594.8 1147.5,595.3 1147.6,595.3 1147.6,595.1 1147.8,595.5 1147.8,595.1 1147.9,595.2 1148.0,595.1 1148.1,595.4 1148.2,595.6 1148.2,595.7 1148.3,595.3 1148.3,594.9 1148.4,594.7 1148.5,594.9 1148.7,595.3 1148.8,595.1 1149.0,595.1 1149.1,594.9 1149.2,594.9 1149.3,595.0 1149.5,595.3 1149.7,595.5 1149.8,595.6 1149.9,595.5 1150.0,595.5 1150.2,595.0 1150.3,595.4 1150.5,595.1 1150.7,595.3 1150.7,595.5 1150.8,595.0 1151.0,595.2 1151.2,595.0 1151.4,594.9 1151.5,595.0 1151.5,595.1 1151.7,595.2 1151.9,594.8 1152.0,594.8 1152.2,594.5 1152.3,594.2 1152.4,594.5 1152.5,594.1 1152.7,593.5 1152.9,592.1 1153.0,590.1 1153.1,590.1 1153.2,586.6 1153.4,580.2 1153.5,574.7 1153.7,580.3 1153.9,586.5 1153.9,586.8 1154.1,590.5 1154.2,592.6 1154.4,593.4 1154.6,594.1 1154.7,594.1 1154.7,594.6 1154.9,594.4 1155.1,594.7 1155.2,595.0 1155.4,595.2 1155.5,595.0 1155.6,595.3 1155.7,594.9 1155.9,595.2 1156.1,595.2 1156.2,595.5 1156.3,595.3 1156.4,594.9 1156.6,595.2 1156.7,595.4 1156.9,595.3 1157.1,595.1 1157.1,595.4 1157.3,595.5 1157.4,595.3 1157.6,595.4 1157.8,595.6 1157.9,595.3 1157.9,595.0 1158.1,594.8 1158.3,594.7 1158.4,595.1 1158.6,595.3 1158.7,595.2 1158.8,595.1 1158.9,595.0 1159.1,595.1 1159.3,595.3 1159.4,595.4 1159.5,595.6 1159.6,595.7 1159.8,595.4 1159.9,595.6 1160.1,595.1 1160.3,594.7 1160.5,595.1 1160.6,594.7 1160.8,594.7 1161.0,595.1 1161.1,594.9 1161.1,594.9 1161.3,594.7 1161.5,594.3 1161.6,593.3 1161.8,591.6 1161.9,590.4 1162.0,589.9 1162.1,591.3 1162.3,592.7 1162.5,593.5 1162.6,594.2 1162.7,594.2 1162.8,594.6 1163.0,594.6 1163.1,594.6 1163.3,595.0 1163.5,594.9 1163.5,595.1 1163.7,595.3 1163.8,595.3 1164.0,595.5 1164.2,595.2 1164.3,595.4 1164.3,595.3 1164.5,595.0 1164.7,595.0 1164.8,594.8 1165.0,594.8 1165.1,594.8 1165.2,594.8 1165.3,594.9 1165.5,594.7 1165.7,594.9 1165.8,594.9 1165.9,595.0 1166.0,595.1 1166.2,594.8 1166.4,595.1 1166.5,595.4 1166.7,595.3 1166.7,595.4 1166.9,595.2 1167.0,595.1 1167.2,595.5 1167.4,595.6 1167.5,595.3 1167.5,595.4 1167.7,595.2 1167.9,595.2 1168.0,595.5 1168.2,595.2 1168.3,594.9 1168.4,595.3 1168.5,595.2 1168.7,595.1 1169.1,595.1 1169.9,595.1 1170.7,595.2 1171.5,594.8 1172.3,594.7 1172.6,595.0 1172.8,594.9 1173.0,594.9 1173.1,594.8 1173.1,594.6 1173.3,595.2 1173.5,595.4 1173.7,595.5 1173.8,595.1 1173.9,594.8 1174.0,595.2 1174.2,595.2 1174.3,594.9 1174.5,594.9 1174.7,594.9 1174.7,594.8 1174.8,594.6 1175.0,595.2 1175.2,594.8 1175.3,595.1 1175.5,595.0 1175.5,594.9 1175.7,595.2 1175.8,595.3 1176.0,594.9 1176.2,594.8 1176.3,594.6 1176.3,595.1 1176.5,595.0 1176.7,594.8 1176.9,594.6 1177.0,594.6 1177.1,594.9 1177.2,595.2 1177.4,595.3 1177.5,595.2 1177.7,594.9 1177.9,594.8 1177.9,594.9 1178.0,594.9 1178.2,594.3 1178.4,593.6 1178.5,593.3 1178.7,592.0 1178.7,591.3 1178.9,589.7 1179.0,585.5 1179.2,577.7 1179.4,572.3 1179.5,577.4 1179.6,577.7 1179.7,585.2 1179.9,589.7 1180.1,591.9 1180.2,592.7 1180.3,593.7 1180.4,594.1 1180.6,594.2 1180.7,594.1 1180.9,594.7 1181.1,594.9 1181.1,594.9 1181.2,594.6 1181.4,594.7 1181.6,594.7 1181.7,595.1 1181.9,595.2 1181.9,595.0 1182.1,594.8 1182.2,595.1 1182.4,595.3 1182.6,595.2 1182.8,595.0 1182.9,594.9 1183.1,594.9 1183.3,594.8 1183.4,594.2 1183.6,593.4 1183.6,593.3 1183.8,592.2 1183.9,591.0 1184.1,587.5 1184.3,581.9 1184.4,578.3 1184.4,577.1 1184.6,581.6 1184.8,587.2 1184.9,590.4 1185.1,592.6 1185.2,593.0 1185.3,593.8 1185.4,594.2 1185.6,594.6 1185.8,594.6 1186.0,594.8 1186.0,595.1 1186.1,594.8 1186.3,595.1 1186.5,595.3 1186.6,595.1 1186.8,595.4 1186.8,595.1 1187.0,594.9 1187.1,595.3 1187.3,595.1 1187.5,595.4 1187.6,595.2 1187.6,595.5 1187.8,595.5 1188.0,595.4 1188.1,595.2 1188.3,595.1 1188.4,594.8 1188.5,595.1 1188.6,595.2 1188.8,595.4 1189.0,595.1 1189.2,595.3 1189.2,595.4 1189.3,595.5 1189.5,595.4 1189.7,595.1 1189.8,595.2 1190.0,595.0 1190.0,595.1 1190.2,595.1 1190.3,595.3 1190.5,595.3 1190.7,595.1 1190.8,595.4 1190.8,595.4 1191.0,595.5 1191.2,595.5 1191.6,595.5 1192.4,595.6 1193.2,595.3 1193.5,595.6 1193.6,595.6 1193.8,595.6 1194.0,595.6 1194.2,595.2 1194.3,595.0 1194.5,594.8 1194.7,595.2 1194.8,595.4 1194.8,595.4 1195.0,595.3 1195.2,595.0 1195.3,594.8 1195.5,594.7 1195.6,595.2 1195.7,595.5 1195.8,595.5 1196.0,595.4 1196.2,595.6 1196.3,595.5 1196.4,595.6 1196.5,595.1 1196.7,595.3 1196.8,595.3 1197.0,595.4 1197.2,595.0 1197.2,595.3 1197.4,595.2 1197.5,595.3 1197.7,595.3 1197.9,594.8 1198.0,594.7 1198.0,594.6 1198.2,594.8 1198.4,594.4 1198.5,594.2 1198.7,594.2 1198.8,594.5 1198.9,594.8 1199.0,594.5 1199.2,594.2 1199.4,593.6 1199.5,592.9 1199.6,592.7 1199.7,592.8 1199.9,591.6 1200.1,590.6 1200.2,589.4 1200.4,587.4 1200.4,586.8 1200.6,584.8 1200.7,583.9 1200.9,584.8 1201.1,587.3 1201.2,588.7 1201.2,589.2 1201.4,590.7 1201.6,591.9 1201.7,592.8 1201.9,593.3 1202.0,593.3 1202.1,593.4 1202.2,593.9 1202.4,594.0 1202.6,594.5 1202.7,594.7 1202.8,594.8 1202.9,595.1 1203.1,595.1 1203.3,595.4 1203.4,594.8 1203.6,594.7 1203.6,594.8 1203.8,595.2 1203.9,595.3 1204.1,595.0 1204.3,595.2 1204.4,595.4 1204.4,595.3 1204.6,595.2 1204.8,595.4 1204.9,595.4 1205.1,595.2 1205.2,595.0 1205.3,595.1 1205.4,594.8 1205.6,595.1 1205.8,594.9 1205.9,595.3 1206.0,595.0 1206.1,595.0 1206.3,595.3 1206.5,595.0 1206.6,594.8 1206.8,595.2 1206.8,594.9 1207.0,594.7 1207.1,595.0 1207.3,594.9 1207.5,594.8 1207.6,594.9 1207.6,595.1 1207.8,595.3 1208.0,595.0 1208.1,594.9 1208.3,594.7 1208.4,595.2 1208.5,595.1 1208.6,595.0 1208.8,595.3 1209.0,595.6 1209.1,595.1 1209.2,594.9 1209.3,594.9 1209.5,595.1 1209.7,595.2 1209.8,595.0 1210.0,595.3 1210.0,595.1 1210.2,595.0 1210.3,595.1 1210.5,594.8 1210.7,594.9 1210.8,594.7 1211.0,595.1 1211.2,595.2 1211.3,595.3 1211.5,595.2 1211.6,595.0 1211.7,594.7 1211.8,594.6 1212.0,594.6 1212.2,594.4 1212.4,594.6 1212.4,594.6 1212.5,595.1 1212.7,595.1 1212.9,595.1 1213.0,595.3 1213.2,594.9 1213.2,595.0 1213.4,595.1 1213.5,595.3 1213.7,595.1 1213.9,595.0 1214.0,594.5 1214.0,594.5 1214.2,594.6 1214.4,594.8 1214.5,594.9 1214.7,594.4 1214.8,594.1 1214.9,594.1 1215.0,593.9 1215.2,593.7 1215.4,593.2 1215.6,593.4 1215.6,593.4 1215.7,593.0 1215.9,593.1 1216.1,593.3 1216.2,593.4 1216.4,593.7 1216.5,593.5 1216.6,593.9 1216.7,594.0 1216.9,594.0 1217.1,594.3 1217.2,594.3 1217.3,594.5 1217.4,594.5 1217.6,594.9 1217.7,595.0 1217.9,594.9 1218.1,594.8 1218.1,594.9 1218.2,595.3 1218.4,595.1 1218.6,594.8 1218.8,595.1 1218.9,595.3 1218.9,595.1 1219.1,595.3 1219.3,595.5 1219.4,595.6 1219.6,595.3 1219.7,594.9 1219.8,594.8 1219.9,594.9 1220.1,594.7 1220.3,594.7 1220.4,595.1 1220.5,595.2 1220.6,594.8 1220.8,594.7 1220.9,594.8 1221.1,594.9 1221.3,595.1 1221.3,595.4 1221.4,595.4 1221.6,595.5 1221.8,595.3 1222.0,595.1 1222.1,595.1 1222.1,594.8 1222.3,595.4 1222.5,595.5 1222.6,595.7 1222.8,595.5 1222.9,595.1 1223.0,595.2 1223.1,595.0 1223.3,595.3 1223.5,595.4 1223.6,595.1 1223.7,595.3 1223.8,595.1 1224.0,595.1 1224.1,595.0 1224.3,595.4 1224.5,595.4 1224.5,595.0 1224.7,595.2 1224.8,595.4 1225.0,594.9 1225.2,595.0 1225.3,595.0 1225.3,595.1 1225.5,595.1 1225.7,595.2 1225.8,595.4 1226.0,595.5 1226.1,595.5 1226.2,595.3 1226.3,595.5 1226.5,595.7 1226.7,595.5 1226.8,595.0 1226.9,594.9 1227.0,594.9 1227.2,594.9 1227.3,595.2 1227.5,595.2 1227.7,595.6 1227.9,595.4 1228.0,595.7 1228.2,595.7 1228.4,595.8 1228.5,595.6 1228.5,595.5 1228.7,595.6 1228.9,595.7 1229.0,595.8 1229.2,595.2 1229.3,594.9 1229.4,594.7 1230.1,595.2 1230.9,595.4 1231.7,595.1 1232.5,595.5 1233.3,595.6"/>
<rect x="105.7" y="722.4" width="3.5" height="567.7" fill="#5a5a5a"/>
<rect x="105.700" y="1286.5" width="1128.8" height="3.6" fill="#555555"/>
<rect x="92.4" y="1284.5" width="16.6" height="2.3" fill="#1a1a1a"/>
<text class="t tk" x="85.6" y="1295.4" text-anchor="end">0</text>
<rect x="92.4" y="1204.2" width="15.6" height="2.3" fill="#1a1a1a"/>
<text class="t tk" x="85.6" y="1215.1" text-anchor="end">10</text>
<rect x="92.4" y="1124.0" width="15.6" height="2.3" fill="#1a1a1a"/>
<text class="t tk" x="85.6" y="1134.8" text-anchor="end">20</text>
<rect x="92.4" y="1043.7" width="15.6" height="2.3" fill="#1a1a1a"/>
<text class="t tk" x="85.6" y="1054.5" text-anchor="end">30</text>
<rect x="92.4" y="963.4" width="15.6" height="2.3" fill="#1a1a1a"/>
<text class="t tk" x="85.6" y="974.2" text-anchor="end">40</text>
<rect x="92.4" y="883.1" width="15.6" height="2.3" fill="#1a1a1a"/>
<text class="t tk" x="85.6" y="893.9" text-anchor="end">50</text>
<rect x="92.4" y="802.8" width="15.6" height="2.3" fill="#1a1a1a"/>
<text class="t tk" x="85.6" y="813.6" text-anchor="end">60</text>
<rect x="92.4" y="722.5" width="15.6" height="2.3" fill="#1a1a1a"/>
<text class="t tk" x="85.6" y="733.3" text-anchor="end">70</text>
<rect x="108.4" y="1288.3" width="2" height="15.500" fill="#151515"/>
<text class="t tk" x="110.2" y="1336.8" text-anchor="middle">500</text>
<rect x="389.2" y="1288.3" width="2" height="15.500" fill="#151515"/>
<text class="t tk" x="391.0" y="1336.8" text-anchor="middle">550</text>
<rect x="670.0" y="1288.3" width="2" height="15.500" fill="#151515"/>
<text class="t tk" x="671.9" y="1336.8" text-anchor="middle">600</text>
<rect x="950.9" y="1288.3" width="2" height="15.500" fill="#151515"/>
<text class="t tk" x="952.7" y="1336.8" text-anchor="middle">650</text>
<rect x="1231.7" y="1288.3" width="2" height="15.500" fill="#151515"/>
<text class="t tk" x="1233.5" y="1336.8" text-anchor="middle">700</text>
<text class="t ax" x="671.7" y="1372.6" text-anchor="middle">Wavelength (nm)</text>
<text class="t" font-size="27.7" style="font-size:27.7px" text-anchor="middle" transform="translate(40.3,1004.7) rotate(-90)">Intensity (10<tspan style="font-size:16.5px" dy="-20.200">3</tspan><tspan dy="20.200"> counts)</tspan></text>
<rect x="110" y="1284.7" width="1123.3" height="2.4" fill="#8c8c8c"/>
<path class="sp" d="M110.0,1284.0 110.8,1283.8 111.6,1283.8 111.7,1284.3 111.9,1284.3 112.0,1284.3 112.2,1284.3 112.4,1284.6 112.4,1284.7 112.5,1284.6 112.7,1284.7 112.9,1284.5 113.0,1284.8 113.2,1284.9 113.2,1284.5 113.4,1284.5 113.5,1284.4 113.7,1284.2 113.9,1284.3 114.0,1284.6 114.0,1284.3 114.2,1284.2 114.4,1284.1 114.5,1284.1 114.7,1283.9 114.8,1284.1 114.9,1284.0 115.1,1284.2 115.2,1284.2 115.4,1284.1 115.6,1284.3 115.6,1284.6 115.7,1284.4 115.9,1284.2 116.1,1284.1 116.2,1284.2 116.4,1284.0 116.4,1284.3 116.6,1284.4 116.7,1284.4 116.9,1283.9 117.1,1284.1 117.2,1284.1 117.2,1284.2 117.4,1284.1 117.6,1283.6 117.8,1282.6 117.9,1281.0 118.0,1279.6 118.1,1278.3 118.3,1272.6 118.4,1267.5 118.6,1272.4 118.8,1278.1 118.8,1279.7 118.9,1281.4 119.1,1282.4 119.3,1283.0 119.4,1283.2 119.6,1283.7 119.6,1283.7 119.8,1283.6 119.9,1283.7 120.1,1283.6 120.3,1284.1 120.4,1283.8 120.4,1284.3 120.6,1284.3 120.8,1284.6 121.0,1284.2 121.1,1284.1 121.2,1283.8 121.3,1283.8 121.5,1283.7 121.6,1283.9 121.8,1283.7 122.0,1283.8 122.0,1284.1 122.1,1283.9 122.3,1284.1 122.5,1284.4 122.6,1284.7 122.8,1284.5 122.8,1284.6 122.9,1284.2 123.0,1283.9 123.1,1284.3 123.1,1284.6 123.3,1284.4 123.3,1284.6 123.4,1284.4 123.5,1284.2 123.6,1284.4 123.6,1284.4 123.6,1284.1 123.8,1284.2 123.8,1284.4 123.9,1284.1 124.0,1283.9 124.1,1283.8 124.2,1283.9 124.3,1284.2 124.3,1284.1 124.4,1283.9 124.4,1284.0 124.5,1284.3 124.6,1284.5 124.7,1284.5 124.8,1284.2 124.8,1284.2 124.9,1284.2 125.0,1284.0 125.1,1284.4 125.2,1284.3 125.2,1284.4 125.3,1284.3 125.4,1284.1 125.6,1284.4 125.8,1284.0 126.0,1284.5 126.0,1284.3 126.1,1284.3 126.3,1284.5 126.5,1284.4 126.6,1284.4 126.8,1284.4 126.8,1284.2 127.0,1284.6 127.1,1284.6 127.3,1284.2 127.5,1284.5 127.6,1284.2 127.7,1284.4 127.8,1284.3 128.0,1284.5 128.1,1284.5 128.3,1284.4 128.5,1284.7 128.5,1284.4 128.6,1284.4 128.8,1284.2 129.0,1284.2 129.2,1284.2 129.3,1284.2 129.3,1284.4 129.5,1284.1 129.7,1284.5 129.8,1284.1 130.0,1283.9 130.1,1284.1 130.2,1284.0 130.3,1284.0 130.5,1284.0 130.7,1284.3 130.8,1284.4 130.9,1284.5 131.0,1284.5 131.2,1284.1 131.3,1284.3 131.5,1284.3 131.7,1284.4 131.7,1284.1 131.8,1284.2 132.0,1284.2 132.2,1284.4 132.4,1284.5 132.5,1284.6 132.5,1284.7 132.7,1284.6 132.9,1284.2 133.0,1284.2 133.2,1284.4 133.3,1284.3 133.4,1284.5 133.5,1284.3 133.7,1284.2 133.9,1283.9 134.0,1284.1 134.1,1283.8 134.2,1284.0 134.4,1283.6 134.5,1283.6 134.7,1283.9 134.9,1283.5 134.9,1283.8 135.0,1283.7 135.2,1283.7 135.4,1283.2 135.6,1283.3 135.7,1282.8 135.7,1282.8 135.9,1282.5 136.1,1282.4 136.2,1282.5 136.4,1282.0 136.5,1282.0 136.6,1282.3 136.7,1282.1 136.9,1282.1 137.1,1282.8 137.2,1283.4 137.3,1283.2 137.4,1283.5 137.6,1283.4 137.7,1283.6 137.9,1283.5 138.1,1283.6 138.3,1283.6 138.4,1283.5 138.6,1283.7 138.8,1283.8 138.9,1284.1 138.9,1284.3 139.1,1284.5 139.3,1284.1 139.4,1284.3 139.6,1284.3 139.7,1284.4 139.8,1284.2 139.9,1284.2 140.1,1283.9 140.3,1284.1 140.4,1284.3 140.5,1284.1 140.6,1284.0 140.8,1283.8 140.9,1284.2 141.1,1283.9 141.3,1283.7 141.3,1283.6 141.5,1284.2 141.6,1284.3 141.8,1284.1 142.0,1283.9 142.1,1284.4 142.1,1284.4 142.3,1284.2 142.5,1284.1 142.6,1284.1 142.8,1284.4 142.9,1284.4 143.0,1284.7 143.1,1284.6 143.3,1284.5 143.5,1284.2 143.6,1284.2 143.7,1284.3 143.8,1284.5 144.0,1284.5 144.1,1284.3 144.3,1284.4 144.5,1284.6 144.5,1284.2 144.7,1284.2 144.8,1283.9 145.0,1284.1 145.2,1284.1 145.3,1284.2 145.3,1284.2 145.5,1283.9 145.7,1283.8 145.8,1283.9 146.0,1284.1 146.1,1284.5 146.2,1284.2 146.3,1284.3 146.5,1284.4 146.7,1284.7 146.8,1284.9 146.9,1284.7 147.0,1284.2 147.2,1284.1 147.3,1284.0 147.5,1284.0 147.7,1284.3 147.7,1284.6 147.9,1284.4 148.0,1284.7 148.2,1284.5 148.4,1284.4 148.5,1284.3 148.5,1284.6 148.7,1284.8 148.9,1284.6 149.0,1284.7 149.2,1284.4 149.3,1284.5 149.4,1284.4 149.5,1284.2 149.7,1284.2 149.9,1284.2 150.1,1284.5 150.9,1284.5 151.7,1284.1 152.5,1284.4 153.3,1284.5 154.1,1284.4 154.9,1284.4 155.7,1284.1 156.5,1284.4 157.3,1284.0 158.1,1284.5 158.9,1284.2 159.7,1284.2 160.5,1284.0 161.4,1284.4 162.2,1284.2 163.0,1284.0 163.8,1284.0 164.6,1284.4 165.4,1284.1 166.2,1283.9 167.0,1284.4 167.8,1284.1 168.6,1284.5 169.4,1284.7 170.2,1284.3 171.0,1284.2 171.8,1283.9 172.6,1284.0 173.4,1284.1 174.2,1284.4 175.0,1284.3 175.8,1284.0 176.6,1284.0 177.4,1283.9 178.2,1284.3 179.0,1284.1 179.8,1284.1 180.6,1284.5 181.4,1284.2 182.2,1284.5 183.0,1284.6 183.6,1284.8 183.8,1284.5 183.8,1284.7 184.0,1284.2 184.1,1284.6 184.3,1284.3 184.5,1284.1 184.6,1284.1 184.6,1284.2 184.8,1284.0 185.0,1284.1 185.1,1284.4 185.3,1284.2 185.4,1284.3 185.5,1284.3 185.7,1284.3 185.8,1284.0 186.0,1284.2 186.2,1284.0 186.2,1284.4 186.3,1284.5 186.5,1284.3 186.7,1284.2 186.8,1284.0 187.0,1284.4 187.0,1284.1 187.2,1284.0 187.3,1284.4 187.5,1284.6 187.7,1284.4 187.8,1284.0 187.8,1284.0 188.0,1284.2 188.2,1284.2 188.4,1284.0 188.5,1284.1 188.6,1284.1 188.7,1284.1 188.9,1283.8 189.0,1283.8 189.2,1283.7 189.4,1284.0 189.4,1284.0 189.5,1283.7 189.7,1283.6 189.9,1283.4 190.0,1283.1 190.2,1283.4 190.2,1283.4 190.4,1283.2 190.5,1283.0 190.7,1282.5 190.9,1281.9 191.0,1282.0 191.0,1282.4 191.2,1283.0 191.4,1283.4 191.6,1283.3 191.7,1283.6 191.8,1284.0 191.9,1283.9 192.1,1284.2 192.2,1284.5 192.4,1284.3 192.6,1283.9 192.6,1283.8 192.7,1283.8 192.9,1284.3 193.1,1284.2 193.2,1284.1 193.4,1284.0 193.4,1284.2 193.6,1284.5 193.7,1284.1 193.9,1284.4 194.1,1284.2 194.2,1284.2 194.4,1284.1 194.6,1284.3 194.8,1284.6 194.9,1284.5 195.1,1284.4 195.1,1284.2 195.3,1284.3 195.4,1284.2 195.6,1284.3 195.8,1284.2 195.9,1284.5 195.9,1284.1 196.1,1283.9 196.3,1284.4 196.4,1284.1 196.6,1284.0 196.7,1284.0 196.8,1284.4 196.9,1284.2 197.1,1284.1 197.3,1284.1 197.4,1283.9 197.5,1283.7 197.6,1283.9 197.8,1283.8 198.0,1284.3 198.1,1284.5 198.3,1284.4 199.1,1284.3 199.9,1284.0 200.7,1284.1 201.5,1284.1 202.3,1284.1 203.1,1283.9 203.9,1284.2 204.7,1284.1 205.5,1284.1 206.3,1284.3 207.1,1284.4 207.9,1284.6 208.7,1284.9 209.5,1284.7 210.3,1284.7 211.1,1284.8 211.9,1284.6 212.7,1284.6 213.5,1284.2 214.3,1284.0 215.1,1284.1 215.9,1283.9 216.7,1284.3 217.5,1284.6 218.3,1284.4 219.1,1284.6 219.9,1284.1 220.7,1284.3 221.5,1284.0 222.3,1284.3 223.1,1284.6 223.9,1284.4 224.7,1284.2 225.5,1284.5 226.3,1284.1 227.1,1283.9 227.9,1283.9 228.7,1283.8 229.6,1283.7 230.4,1284.2 231.2,1284.1 232.0,1284.0 232.8,1284.0 233.6,1284.3 234.4,1284.3 235.2,1284.2 236.0,1284.0 236.8,1284.5 237.6,1284.5 238.4,1284.6 239.2,1284.3 240.0,1284.6 240.8,1284.8 241.6,1284.9 242.4,1284.9 243.2,1284.7 244.0,1284.3 244.8,1284.4 245.6,1284.7 246.4,1284.4 247.2,1284.5 248.0,1284.4 248.8,1284.2 249.6,1284.3 250.4,1284.1 251.2,1284.1 252.0,1284.0 252.8,1283.9 253.6,1283.8 254.4,1283.9 255.2,1284.2 256.0,1284.3 256.8,1284.1 257.6,1284.0 258.4,1284.0 259.2,1283.9 260.0,1283.9 260.8,1284.0 261.6,1284.1 262.4,1284.5 263.3,1284.5 264.1,1284.2 264.9,1284.0 265.7,1283.9 266.5,1284.1 267.3,1284.4 268.1,1284.1 268.9,1284.1 269.7,1284.4 270.5,1284.7 271.3,1284.3 272.1,1284.2 272.9,1284.6 273.7,1284.1 274.5,1284.1 275.3,1284.0 276.1,1284.0 276.9,1284.3 277.7,1284.3 278.5,1284.6 279.3,1284.4 280.1,1284.4 280.9,1284.2 281.7,1284.5 282.5,1284.6 283.3,1284.6 284.1,1284.8 284.9,1284.7 285.7,1284.2 286.5,1284.0 287.3,1284.4 288.1,1284.1 288.9,1284.4 289.7,1284.6 290.5,1284.4 291.3,1284.5 292.1,1284.6 292.9,1284.8 293.7,1284.8 294.5,1284.8 295.3,1284.3 296.1,1284.7 296.9,1284.5 297.8,1284.6 298.6,1284.3 299.4,1284.7 300.2,1284.6 301.0,1284.3 301.8,1284.7 302.6,1284.6 303.4,1284.6 304.2,1284.5 305.0,1284.3 305.8,1284.6 306.6,1284.2 307.4,1284.4 308.2,1284.2 309.0,1284.5 309.8,1284.7 310.6,1284.8 311.4,1284.9 312.2,1284.8 313.0,1284.9 313.8,1284.9 314.6,1284.4 315.4,1284.4 316.2,1284.3 317.0,1284.3 317.8,1284.1 318.6,1284.5 319.4,1284.8 320.2,1284.5 321.0,1284.8 321.8,1284.6 322.6,1284.4 323.4,1284.1 324.2,1284.6 325.0,1284.5 325.8,1284.6 326.6,1284.4 327.4,1284.7 328.2,1284.4 329.0,1284.0 329.8,1284.1 330.6,1284.1 331.5,1284.0 332.3,1283.9 333.1,1283.9 333.9,1284.1 334.7,1284.5 335.5,1284.2 336.3,1284.0 337.1,1284.0 337.9,1284.3 338.7,1284.0 339.5,1284.0 340.3,1284.3 341.1,1284.1 341.9,1284.4 342.7,1284.6 343.5,1284.2 344.3,1284.6 345.1,1284.2 345.9,1284.3 346.7,1284.3 347.5,1284.2 348.3,1284.0 349.1,1284.3 349.9,1284.6 350.7,1284.5 351.5,1284.6 352.3,1284.5 353.1,1284.7 353.9,1284.8 354.7,1284.6 355.5,1284.8 356.3,1284.8 357.1,1284.6 357.9,1284.8 358.7,1284.4 359.5,1284.1 360.3,1284.5 361.1,1284.2 361.9,1284.5 362.7,1284.3 363.5,1284.6 364.3,1284.3 365.1,1284.0 366.0,1284.3 366.8,1284.6 367.6,1284.6 368.4,1284.2 369.2,1284.1 370.0,1284.4 370.8,1284.1 371.6,1284.0 372.4,1283.8 373.2,1283.7 374.0,1284.2 374.8,1284.1 375.6,1284.6 376.4,1284.7 377.2,1284.5 378.0,1284.6 378.8,1284.7 379.6,1284.6 380.4,1284.5 381.2,1284.1 382.0,1284.2 382.8,1284.2 383.6,1284.1 384.4,1284.4 385.2,1284.2 386.0,1284.1 386.8,1284.0 387.6,1284.2 388.4,1284.2 389.2,1284.6 390.0,1284.5 390.8,1284.3 391.6,1284.0 392.4,1283.9 393.2,1284.2 394.0,1284.1 394.8,1283.9 395.6,1283.8 396.4,1283.9 397.2,1284.2 398.0,1284.0 398.8,1284.5 399.7,1284.4 400.5,1284.4 401.3,1284.1 402.1,1284.1 402.9,1284.4 403.7,1284.6 404.5,1284.8 405.3,1284.4 406.1,1284.2 406.9,1284.3 407.7,1284.5 408.5,1284.4 409.3,1284.6 410.1,1284.5 410.9,1284.5 411.7,1284.6 412.5,1284.3 413.3,1284.5 414.1,1284.6 414.9,1284.4 415.7,1284.1 416.5,1284.4 417.3,1284.5 418.1,1284.6 418.9,1284.6 419.7,1284.5 420.5,1284.2 421.3,1284.5 422.1,1284.3 422.9,1284.3 423.7,1284.3 424.5,1284.3 425.3,1284.2 426.1,1284.5 426.9,1284.3 427.7,1284.4 428.5,1284.2 429.3,1284.2 430.1,1284.3 430.9,1284.0 431.7,1284.4 432.5,1284.7 433.3,1284.8 434.2,1284.5 435.0,1284.7 435.8,1284.4 436.3,1284.6 436.5,1284.6 436.6,1284.4 436.7,1284.7 436.8,1284.6 437.0,1284.1 437.2,1284.0 437.3,1284.2 437.4,1284.0 437.5,1284.1 437.7,1284.0 437.8,1284.2 438.0,1284.4 438.2,1284.2 438.2,1284.1 438.3,1284.0 438.5,1284.4 438.7,1284.4 438.8,1284.5 439.0,1284.6 439.0,1284.7 439.2,1284.4 439.4,1284.6 439.5,1284.6 439.7,1284.8 439.8,1284.4 439.9,1284.3 440.0,1284.6 440.2,1284.1 440.4,1283.8 440.5,1283.8 440.6,1283.8 440.7,1283.8 440.9,1284.3 441.0,1284.4 441.2,1284.5 441.4,1284.6 441.5,1284.2 441.7,1284.0 441.9,1283.9 442.0,1283.5 442.2,1283.5 442.2,1283.5 442.4,1283.0 442.6,1281.8 442.7,1278.7 442.9,1273.4 443.0,1270.0 443.1,1268.5 443.2,1273.1 443.4,1278.7 443.6,1281.0 443.7,1282.7 443.8,1282.9 443.9,1283.0 444.1,1283.3 444.2,1283.8 444.4,1283.7 444.6,1283.7 444.6,1283.7 444.7,1284.1 444.9,1284.0 445.1,1284.0 445.2,1283.8 445.4,1284.0 445.4,1283.8 445.6,1283.8 445.8,1284.2 445.9,1284.2 446.1,1284.5 446.2,1284.3 446.3,1284.4 446.4,1284.0 446.6,1284.2 446.8,1284.1 446.9,1283.9 447.0,1284.2 447.1,1284.2 447.3,1284.4 447.4,1284.5 447.6,1284.4 447.8,1284.2 447.8,1284.3 447.9,1284.5 448.1,1284.3 448.3,1284.3 448.5,1284.3 448.6,1284.3 448.6,1284.1 448.8,1284.1 449.0,1284.1 449.1,1284.2 449.3,1284.3 449.4,1284.4 449.5,1284.2 449.6,1284.3 449.8,1284.6 450.2,1284.7 451.0,1284.9 451.8,1284.9 452.6,1284.8 453.4,1284.7 454.2,1284.5 455.0,1284.7 455.8,1284.7 456.6,1284.6 457.4,1284.6 458.2,1284.7 459.0,1284.5 459.8,1284.2 460.6,1284.6 461.4,1284.8 462.2,1284.6 463.0,1284.2 463.8,1284.2 464.6,1284.3 465.4,1284.0 466.2,1284.0 467.0,1283.9 467.9,1283.9 468.7,1284.4 469.5,1284.6 470.3,1284.3 471.1,1284.4 471.9,1284.1 472.7,1284.5 473.5,1284.1 474.3,1284.1 475.1,1284.3 475.9,1284.1 476.7,1284.2 477.5,1284.3 478.3,1284.5 479.1,1284.2 479.9,1284.5 480.7,1284.6 481.5,1284.8 482.3,1284.9 483.1,1284.8 483.9,1284.9 484.7,1284.7 485.5,1284.6 486.3,1284.8 487.1,1284.6 487.9,1284.7 488.7,1284.7 489.5,1284.5 490.3,1284.5 491.1,1284.8 491.9,1284.3 492.7,1283.9 493.5,1284.3 493.6,1284.2 493.8,1284.2 493.9,1284.4 494.1,1284.3 494.2,1284.5 494.3,1284.6 494.3,1284.5 494.3,1284.7 494.4,1284.7 494.5,1284.2 494.6,1284.1 494.7,1284.3 494.8,1283.9 494.8,1284.2 495.0,1284.0 495.0,1284.3 495.1,1284.0 495.1,1284.2 495.2,1284.0 495.3,1284.4 495.3,1284.4 495.5,1284.5 495.5,1284.2 495.6,1284.0 495.7,1284.4 495.8,1284.4 495.9,1284.6 495.9,1284.8 496.0,1284.8 496.0,1284.9 496.1,1284.8 496.2,1284.6 496.3,1284.2 496.4,1284.1 496.5,1284.0 496.5,1284.3 496.6,1284.4 496.7,1284.4 496.7,1284.5 496.8,1284.8 496.9,1284.7 497.0,1284.2 497.0,1284.6 497.1,1284.4 497.2,1284.6 497.3,1284.2 497.4,1284.6 497.5,1284.4 497.5,1284.2 497.7,1284.2 497.7,1284.5 497.8,1284.1 497.9,1284.5 498.0,1284.1 498.0,1283.9 498.2,1283.8 498.2,1283.7 498.3,1284.0 498.3,1284.0 498.4,1284.1 498.5,1284.1 498.5,1284.2 498.7,1283.9 498.7,1284.2 498.8,1284.1 498.9,1284.5 499.0,1284.6 499.1,1284.1 499.1,1284.2 499.2,1284.2 499.2,1283.8 499.3,1283.7 499.4,1284.1 499.5,1284.0 499.6,1284.0 499.7,1283.8 499.7,1284.0 499.8,1284.0 499.9,1283.5 499.9,1283.4 500.0,1283.4 500.1,1283.2 500.2,1282.8 500.2,1283.0 500.3,1282.2 500.4,1281.8 500.5,1280.9 500.6,1280.1 500.7,1277.1 500.7,1275.3 500.7,1275.0 500.9,1272.4 500.9,1271.9 501.0,1273.9 501.1,1275.5 501.2,1278.6 501.2,1279.9 501.4,1281.1 501.4,1281.7 501.5,1282.8 501.6,1282.6 501.6,1283.1 501.7,1283.5 501.8,1283.5 501.9,1283.9 501.9,1283.8 502.0,1283.9 502.1,1283.8 502.2,1283.8 502.3,1283.7 502.4,1284.1 502.4,1284.2 502.4,1284.4 502.5,1284.3 502.6,1284.2 502.7,1283.9 502.8,1284.3 502.9,1283.9 502.9,1284.2 503.0,1283.9 503.1,1283.7 503.2,1283.5 503.2,1283.7 503.3,1284.1 503.4,1284.2 503.4,1284.2 503.5,1283.9 503.6,1283.6 503.7,1283.5 503.8,1284.0 503.9,1284.2 503.9,1284.0 504.0,1284.2 504.1,1284.0 504.1,1283.9 504.2,1283.8 504.3,1283.9 504.4,1283.6 504.4,1283.8 504.6,1283.9 504.6,1284.0 504.7,1284.0 504.8,1284.1 504.8,1283.8 504.9,1284.0 505.0,1284.0 505.1,1283.5 505.1,1283.2 505.2,1283.3 505.3,1283.1 505.4,1282.9 505.5,1282.8 505.6,1282.7 505.6,1282.7 505.6,1282.9 505.7,1282.8 505.8,1282.9 505.9,1282.8 506.0,1282.5 506.1,1282.2 506.1,1282.2 506.2,1282.1 506.3,1282.1 506.4,1281.9 506.4,1281.8 506.5,1281.3 506.6,1280.6 506.6,1280.5 506.7,1280.2 506.8,1280.2 506.9,1280.3 507.0,1279.9 507.1,1279.7 507.1,1280.1 507.2,1280.2 507.3,1280.0 507.3,1280.0 507.4,1280.5 507.5,1280.6 507.6,1280.9 507.6,1281.0 507.8,1281.0 507.9,1281.8 508.0,1282.0 508.1,1281.9 508.3,1282.6 508.4,1283.0 508.6,1282.9 508.8,1283.1 508.9,1283.3 509.1,1283.5 509.3,1283.9 509.3,1283.7 509.4,1283.9 509.5,1283.9 509.6,1283.5 509.6,1283.6 509.7,1283.8 509.8,1283.9 509.8,1284.1 510.0,1283.9 510.0,1283.8 510.1,1284.1 510.2,1284.4 510.3,1284.3 510.3,1284.4 510.4,1284.2 510.5,1284.3 510.5,1284.2 510.6,1284.2 510.7,1283.8 510.8,1284.0 510.8,1284.2 511.0,1284.3 511.0,1284.1 511.1,1284.3 511.2,1284.4 511.2,1284.1 511.3,1284.1 511.4,1284.4 511.5,1284.1 511.5,1284.4 511.6,1284.4 511.7,1284.3 511.8,1284.3 511.9,1284.0 512.0,1284.3 512.0,1284.2 512.0,1284.4 512.1,1284.6 512.2,1284.3 512.3,1284.0 512.4,1284.4 512.5,1284.6 512.5,1284.7 512.6,1284.4 512.7,1284.6 512.8,1284.1 512.8,1284.5 512.9,1284.2 513.0,1284.0 513.0,1284.2 513.2,1283.9 513.2,1284.3 513.3,1284.1 513.4,1284.1 513.5,1283.9 513.5,1283.8 513.6,1283.8 513.7,1283.7 513.7,1284.1 513.8,1284.5 513.9,1284.6 514.0,1284.2 514.1,1284.2 514.2,1284.2 514.2,1284.2 514.3,1284.5 514.4,1284.0 514.5,1284.0 514.6,1283.9 514.7,1284.0 514.7,1283.7 514.8,1283.8 514.9,1283.8 515.0,1283.6 515.1,1283.9 515.2,1283.5 515.2,1283.4 515.2,1283.6 515.3,1283.6 515.4,1283.3 515.5,1282.9 515.6,1282.8 515.7,1281.3 515.7,1280.4 515.8,1278.1 515.9,1276.6 516.0,1274.7 516.0,1274.1 516.1,1274.0 516.2,1275.8 516.2,1277.2 516.4,1279.6 516.4,1280.8 516.5,1282.3 516.6,1282.3 516.7,1283.2 516.7,1283.1 516.8,1283.3 516.9,1283.1 516.9,1283.1 517.0,1283.5 517.1,1283.6 517.2,1283.7 517.3,1284.0 517.4,1284.4 517.4,1283.9 517.5,1284.0 517.6,1283.8 517.6,1283.9 517.7,1284.3 517.8,1284.5 517.9,1284.6 517.9,1284.1 518.0,1283.9 518.1,1284.2 518.2,1284.2 518.3,1283.9 518.4,1284.1 518.4,1284.3 518.4,1284.2 518.5,1284.5 518.6,1284.3 518.7,1284.6 518.8,1284.4 518.9,1284.6 518.9,1284.8 519.0,1284.4 519.1,1284.3 519.2,1284.6 519.2,1284.5 519.3,1284.1 519.4,1284.3 519.4,1284.5 519.6,1284.4 519.6,1284.1 519.7,1284.1 519.8,1284.2 519.9,1284.1 519.9,1284.3 520.0,1284.0 520.1,1284.3 520.1,1284.5 520.2,1284.4 520.3,1284.1 520.4,1284.0 520.5,1284.0 520.6,1284.5 520.6,1284.2 520.8,1284.0 520.8,1284.4 521.0,1284.6 521.1,1284.7 521.3,1284.8 521.5,1284.8 521.6,1284.6 521.6,1284.3 521.8,1284.3 522.0,1284.3 522.1,1284.2 522.3,1284.0 522.4,1283.8 522.5,1283.9 522.6,1284.1 522.8,1284.5 523.2,1284.6 524.0,1284.7 524.8,1284.2 525.6,1284.1 526.4,1284.5 527.2,1284.5 528.0,1284.5 528.8,1284.3 529.6,1284.0 530.4,1284.3 531.2,1284.1 532.0,1284.3 532.8,1284.0 533.6,1284.2 534.4,1284.0 535.2,1284.1 536.1,1284.1 536.9,1284.0 537.7,1284.2 538.5,1284.3 539.3,1284.2 540.1,1284.1 540.9,1284.2 541.7,1284.3 542.5,1284.3 543.3,1284.3 544.1,1284.4 544.9,1284.5 545.7,1284.7 546.5,1284.9 547.3,1284.9 548.1,1284.9 548.9,1284.8 549.7,1284.2 550.5,1284.3 551.3,1284.0 552.1,1284.0 552.9,1283.9 553.7,1284.0 554.5,1283.8 555.3,1283.8 556.1,1284.4 556.9,1284.7 557.7,1284.2 558.5,1284.4 559.3,1284.2 560.1,1284.0 560.9,1283.8 561.7,1284.0 562.5,1284.3 563.3,1284.2 564.1,1284.1 564.9,1284.5 565.7,1284.2 566.5,1284.6 567.3,1284.6 568.1,1284.2 568.9,1284.0 569.8,1283.9 570.6,1283.8 571.4,1284.1 572.2,1284.2 573.0,1284.3 573.8,1284.3 574.6,1284.5 575.4,1284.5 576.2,1284.4 577.0,1284.7 577.8,1284.5 578.6,1284.7 579.4,1284.5 580.2,1284.7 581.0,1284.8 581.8,1284.6 582.6,1284.3 583.4,1283.9 584.2,1283.9 585.0,1283.8 585.8,1284.1 586.6,1284.2 587.4,1284.2 588.2,1283.9 589.0,1283.8 589.8,1284.3 590.6,1284.2 591.4,1284.0 592.2,1283.8 593.0,1283.6 593.8,1283.9 594.6,1284.0 595.4,1284.2 595.5,1284.3 595.7,1283.9 595.9,1283.7 596.1,1283.6 596.2,1283.8 596.2,1283.7 596.4,1284.1 596.6,1284.0 596.7,1284.0 596.9,1284.0 597.0,1283.5 597.1,1284.0 597.2,1283.5 597.4,1283.4 597.6,1283.1 597.7,1283.3 597.8,1283.0 597.9,1283.1 598.1,1283.1 598.2,1283.0 598.4,1283.2 598.6,1282.9 598.6,1283.1 598.7,1283.3 598.9,1282.7 599.1,1282.8 599.3,1282.1 599.4,1282.0 599.4,1281.7 599.6,1281.6 599.8,1281.0 599.9,1280.6 600.1,1279.8 600.2,1279.3 600.3,1279.3 600.4,1278.2 600.6,1276.2 600.8,1274.0 600.9,1271.4 601.0,1268.8 601.1,1266.7 601.3,1260.5 601.4,1249.8 601.6,1232.6 601.8,1202.6 601.8,1186.3 601.9,1152.0 602.1,1081.4 602.3,1040.2 602.5,1081.6 602.6,1152.1 602.6,1160.9 602.8,1202.4 603.0,1232.6 603.1,1249.7 603.3,1260.7 603.4,1267.1 603.5,1267.7 603.6,1271.8 603.8,1274.6 604.0,1276.6 604.1,1277.8 604.3,1278.5 604.3,1279.1 604.5,1279.7 604.6,1280.5 604.8,1281.0 605.0,1281.6 605.1,1281.5 605.2,1281.8 605.3,1282.1 605.5,1282.6 605.7,1283.0 605.8,1283.2 605.9,1282.8 606.0,1282.6 606.2,1283.0 606.3,1283.4 606.5,1283.7 606.7,1283.3 606.7,1283.6 606.8,1283.6 607.0,1283.9 607.2,1283.8 607.3,1283.9 607.5,1283.4 607.5,1283.2 607.7,1283.4 607.8,1283.3 608.0,1283.4 608.2,1283.6 608.3,1283.5 608.4,1283.9 608.5,1284.1 608.7,1283.7 608.9,1283.6 609.0,1283.4 609.1,1283.4 609.2,1283.0 609.4,1282.9 609.5,1282.1 609.7,1280.2 609.9,1278.1 610.0,1279.9 610.2,1281.7 610.4,1282.6 610.5,1283.4 610.7,1283.4 610.7,1283.4 610.9,1283.6 611.0,1283.8 611.2,1283.9 611.4,1284.0 611.5,1284.2 611.6,1284.1 611.7,1283.8 611.9,1284.1 612.1,1284.1 612.2,1284.1 612.3,1284.1 612.4,1283.7 612.6,1283.4 612.7,1283.5 612.9,1282.7 613.1,1281.2 613.1,1281.2 613.2,1280.2 613.4,1281.2 613.6,1282.8 613.7,1283.3 613.9,1283.9 613.9,1283.9 614.1,1284.0 614.2,1284.0 614.4,1284.4 614.6,1284.1 614.7,1284.1 614.8,1284.3 614.9,1284.5 615.1,1284.1 615.3,1284.5 615.4,1284.3 615.5,1284.4 615.6,1284.4 615.8,1284.0 615.9,1284.4 616.1,1284.5 616.3,1284.8 616.3,1284.6 616.4,1284.8 616.6,1284.9 616.8,1284.5 616.9,1284.1 617.1,1284.4 617.1,1284.3 617.3,1283.9 617.5,1284.3 617.6,1284.5 617.8,1284.4 617.9,1284.7 618.0,1284.4 618.1,1284.1 618.3,1283.9 618.5,1284.4 618.6,1284.3 618.7,1284.3 618.8,1284.3 619.0,1284.5 619.1,1284.3 619.3,1284.6 619.5,1284.3 619.5,1284.6 619.6,1284.8 619.8,1284.3 620.0,1284.4 620.3,1284.4 621.1,1284.4 621.9,1284.4 622.7,1284.7 623.5,1284.3 624.3,1284.0 625.1,1284.3 625.9,1284.4 626.7,1284.5 627.5,1284.3 628.3,1284.3 629.1,1284.3 629.9,1284.2 630.7,1284.4 631.5,1284.4 632.3,1284.3 633.1,1284.2 633.9,1284.2 634.7,1283.9 635.5,1284.4 636.3,1284.3 637.1,1284.3 638.0,1284.5 638.8,1284.5 639.6,1284.6 640.4,1284.5 641.2,1284.3 642.0,1284.5 642.8,1284.4 643.6,1284.6 644.4,1284.5 645.2,1284.1 646.0,1283.9 646.8,1284.2 647.6,1284.4 648.4,1284.6 649.2,1284.2 650.0,1283.9 650.8,1284.4 651.6,1284.4 652.4,1284.5 653.2,1284.6 654.0,1284.4 654.8,1284.1 655.6,1284.3 656.4,1284.0 657.2,1284.1 658.0,1284.4 658.8,1284.2 659.6,1284.5 660.4,1284.5 661.2,1284.4 662.0,1284.6 662.8,1284.8 663.6,1284.7 664.4,1284.3 665.2,1284.5 666.0,1284.4 666.8,1284.3 667.6,1284.6 668.4,1284.5 669.2,1284.2 670.0,1284.0 670.8,1284.1 671.6,1284.1 672.5,1284.6 673.3,1284.7 674.1,1284.6 674.9,1284.8 675.7,1284.6 676.5,1284.4 677.3,1284.3 678.1,1284.2 678.9,1284.3 679.7,1284.0 680.5,1284.4 681.3,1284.5 682.1,1284.6 682.9,1284.6 683.7,1284.2 684.5,1284.3 685.3,1284.0 686.1,1284.2 686.9,1284.3 687.7,1284.2 688.5,1284.6 689.3,1284.5 690.1,1284.5 690.9,1284.4 691.7,1284.5 692.5,1284.3 693.3,1284.2 694.1,1284.6 694.9,1284.5 695.7,1284.4 695.8,1284.5 696.0,1284.6 696.1,1284.2 696.3,1284.5 696.5,1284.6 696.5,1284.6 696.6,1284.1 696.8,1284.2 697.0,1284.5 697.1,1284.6 697.3,1284.6 697.3,1284.2 697.5,1284.6 697.7,1284.6 697.8,1284.3 698.0,1284.6 698.1,1284.4 698.2,1284.1 698.3,1284.2 698.5,1284.0 698.7,1284.1 698.8,1283.8 698.9,1283.7 699.0,1283.8 699.2,1283.8 699.3,1283.8 699.5,1283.7 699.7,1283.9 699.7,1283.9 699.8,1284.0 700.0,1283.7 700.2,1283.6 700.4,1283.8 700.5,1283.7 700.5,1283.4 700.7,1283.3 700.9,1283.5 701.0,1283.4 701.2,1283.4 701.3,1283.1 701.4,1282.7 701.5,1282.3 701.7,1281.2 701.9,1279.6 702.0,1277.0 702.1,1275.1 702.2,1273.9 702.4,1269.0 702.5,1266.0 702.7,1268.6 702.9,1273.3 702.9,1275.4 703.0,1277.5 703.2,1279.7 703.4,1281.3 703.6,1281.9 703.7,1282.3 703.7,1282.6 703.9,1282.9 704.1,1283.6 704.2,1283.6 704.4,1283.4 704.5,1283.4 704.6,1283.7 704.7,1283.5 704.9,1284.1 705.1,1284.1 705.2,1284.4 705.3,1284.3 705.4,1284.4 705.6,1284.6 705.7,1284.1 705.9,1283.9 706.1,1284.0 706.2,1284.3 706.2,1284.3 706.4,1284.5 706.6,1284.3 706.8,1284.2 706.9,1283.9 707.0,1284.2 707.1,1284.4 707.3,1284.6 707.4,1284.1 707.6,1284.0 707.8,1284.2 707.8,1284.3 707.9,1284.1 708.1,1284.1 708.3,1284.1 708.4,1284.3 708.6,1284.2 708.6,1284.6 708.8,1284.7 708.9,1284.3 709.1,1284.0 709.3,1284.1 709.4,1284.1 710.2,1284.2 711.0,1284.4 711.8,1284.3 712.6,1284.1 713.4,1283.9 714.2,1284.3 715.0,1284.3 715.8,1284.4 716.6,1284.2 717.4,1284.0 718.2,1283.8 719.0,1283.9 719.8,1284.0 720.6,1284.4 721.4,1284.7 722.2,1284.9 723.0,1284.6 723.8,1284.4 724.6,1284.7 725.4,1284.3 726.2,1284.2 727.0,1284.1 727.8,1284.4 728.6,1284.5 729.4,1284.4 730.2,1284.5 731.0,1284.4 731.8,1284.3 732.6,1284.2 733.4,1284.4 734.2,1284.0 735.0,1284.3 735.8,1284.3 736.6,1284.4 737.4,1284.7 738.2,1284.6 739.0,1284.4 739.9,1284.1 740.7,1284.3 741.5,1284.6 742.3,1284.4 743.1,1284.7 743.9,1284.5 744.7,1284.7 745.5,1284.4 746.3,1284.2 747.1,1284.0 747.9,1284.3 748.7,1284.1 749.5,1284.2 750.3,1284.5 751.1,1284.2 751.9,1284.5 752.7,1284.1 753.5,1284.0 754.3,1284.5 755.1,1284.3 755.9,1284.3 756.7,1284.7 757.5,1284.5 758.3,1284.4 759.1,1284.7 759.9,1284.8 760.7,1284.4 761.5,1284.5 762.3,1284.2 763.1,1284.3 763.9,1284.2 764.7,1284.4 765.5,1284.7 766.3,1284.4 767.1,1284.5 767.9,1284.4 768.7,1284.2 769.5,1284.2 770.3,1284.5 771.1,1284.7 771.9,1284.3 772.7,1284.0 773.5,1284.3 774.4,1284.2 775.2,1283.9 776.0,1284.4 776.8,1284.3 777.6,1284.1 778.4,1284.1 779.2,1284.2 780.0,1284.0 780.8,1284.3 781.6,1284.5 782.4,1284.6 783.2,1284.6 784.0,1284.5 784.8,1284.7 785.6,1284.3 786.4,1284.2 787.2,1284.1 788.0,1284.1 788.8,1284.0 789.6,1284.2 790.4,1284.4 791.2,1284.6 792.0,1284.7 792.8,1284.2 793.6,1284.1 794.4,1284.1 795.2,1284.1 795.4,1284.3 795.5,1284.3 795.7,1284.6 795.9,1284.3 796.0,1284.4 796.1,1284.6 796.2,1284.2 796.4,1284.2 796.6,1284.6 796.7,1284.7 796.8,1284.6 796.9,1284.5 797.1,1284.8 797.2,1284.6 797.4,1284.3 797.6,1284.2 797.6,1284.4 797.7,1284.2 797.9,1284.5 798.1,1284.7 798.2,1284.8 798.4,1284.8 798.4,1284.3 798.6,1284.4 798.8,1284.0 798.9,1283.9 799.1,1283.8 799.2,1283.7 799.3,1283.8 799.4,1283.8 799.6,1283.7 799.8,1283.8 799.9,1283.9 800.0,1283.8 800.1,1284.2 800.3,1283.8 800.4,1284.1 800.6,1283.5 800.8,1283.3 800.8,1283.0 800.9,1282.9 801.1,1282.6 801.3,1281.9 801.4,1280.6 801.6,1278.6 801.6,1278.0 801.8,1275.3 802.0,1273.6 802.1,1275.4 802.3,1278.3 802.4,1280.4 802.5,1280.8 802.6,1282.0 802.8,1282.9 803.0,1283.5 803.1,1283.4 803.2,1283.6 803.3,1283.6 803.5,1284.1 803.6,1283.7 803.8,1284.1 804.0,1284.1 804.0,1284.3 804.1,1284.3 804.3,1284.1 804.5,1284.1 804.6,1283.8 804.8,1284.2 804.8,1283.9 805.0,1283.7 805.2,1284.1 805.3,1283.8 805.5,1284.1 805.6,1284.0 805.7,1284.2 805.8,1284.2 806.0,1284.1 806.2,1283.8 806.3,1284.1 806.4,1284.4 806.5,1284.4 806.7,1284.1 806.8,1284.1 807.0,1284.0 807.2,1283.8 807.2,1283.8 807.3,1283.5 807.5,1283.4 807.7,1283.2 807.9,1282.4 808.0,1281.9 808.1,1281.7 808.2,1279.9 808.4,1275.9 808.5,1268.1 808.7,1260.8 808.9,1267.3 808.9,1267.7 809.0,1276.0 809.2,1279.9 809.4,1282.1 809.5,1283.2 809.7,1283.5 809.7,1283.5 809.9,1283.5 810.0,1284.0 810.2,1284.0 810.4,1283.8 810.5,1284.2 810.5,1284.3 810.7,1284.4 810.9,1284.2 811.1,1283.9 811.2,1284.2 811.3,1284.3 811.4,1284.2 811.6,1284.0 811.7,1283.8 811.9,1283.7 812.1,1284.2 812.2,1284.4 812.4,1284.6 812.6,1284.8 812.7,1284.7 812.9,1284.5 812.9,1284.3 813.1,1284.0 813.2,1284.4 813.4,1284.0 813.6,1284.0 813.7,1284.4 813.7,1284.2 813.9,1284.5 814.1,1284.7 814.3,1284.4 814.4,1284.6 814.5,1284.4 814.6,1284.4 814.8,1284.2 814.9,1284.4 815.1,1284.3 815.3,1284.6 815.3,1284.2 815.4,1284.0 816.1,1284.3 816.9,1284.2 817.7,1284.5 818.5,1284.4 819.3,1284.5 820.1,1284.1 820.9,1284.5 821.7,1284.8 822.5,1284.3 823.3,1284.2 824.1,1284.2 824.9,1284.5 825.7,1284.5 826.5,1284.3 827.3,1284.6 828.1,1284.3 828.9,1284.2 829.7,1284.5 830.5,1284.4 831.3,1284.4 832.1,1284.2 832.9,1284.2 833.7,1284.0 834.5,1284.0 835.3,1284.1 836.1,1284.4 836.9,1284.0 837.7,1284.3 838.5,1284.2 839.3,1284.0 840.1,1284.4 840.9,1284.7 841.7,1284.3 842.6,1284.2 843.4,1284.5 844.2,1284.6 845.0,1284.4 845.8,1284.3 846.6,1284.1 847.4,1284.2 848.2,1284.5 849.0,1284.2 849.8,1284.3 850.6,1284.5 851.4,1284.7 852.2,1284.7 853.0,1284.8 853.8,1284.8 854.6,1284.6 855.4,1284.8 856.2,1284.8 857.0,1284.4 857.8,1284.6 858.6,1284.3 859.4,1284.7 860.2,1284.7 861.0,1284.8 861.8,1284.5 862.6,1284.5 863.4,1284.2 864.2,1284.3 865.0,1284.1 865.8,1284.5 866.6,1284.4 867.4,1284.7 868.2,1284.6 869.0,1284.2 869.8,1284.5 870.6,1284.7 871.4,1284.2 872.2,1284.6 873.0,1284.4 873.8,1284.6 874.6,1284.4 875.4,1284.1 876.3,1284.5 877.1,1284.1 877.9,1284.1 878.7,1284.5 879.5,1284.6 880.3,1284.6 881.1,1284.3 881.9,1284.0 882.7,1284.4 883.5,1284.1 884.3,1284.1 885.1,1284.6 885.9,1284.4 886.7,1284.5 887.5,1284.4 888.3,1284.2 889.1,1284.5 889.9,1284.7 890.7,1284.9 891.5,1284.6 892.3,1284.3 893.1,1284.5 893.9,1284.3 894.7,1284.0 895.5,1284.2 896.3,1284.5 897.1,1284.8 897.9,1284.9 898.7,1284.5 899.5,1284.2 900.3,1284.6 901.1,1284.4 901.9,1284.1 902.7,1284.3 903.5,1284.0 904.3,1283.9 905.1,1284.3 905.9,1284.6 906.7,1284.2 907.5,1284.4 908.3,1284.7 909.1,1284.9 910.0,1284.5 910.8,1284.3 911.6,1284.6 912.4,1284.2 913.2,1284.3 914.0,1284.5 914.8,1284.6 915.6,1284.4 916.4,1284.2 917.2,1284.0 918.0,1284.5 918.8,1284.3 919.6,1284.4 920.4,1284.7 921.2,1284.4 922.0,1284.6 922.8,1284.8 923.6,1284.2 924.4,1284.6 925.2,1284.5 926.0,1284.5 926.8,1284.7 927.6,1284.2 928.4,1284.6 929.2,1284.8 930.0,1284.7 930.8,1284.5 931.6,1284.4 932.4,1284.2 933.2,1284.2 934.0,1284.3 934.8,1284.0 935.6,1284.4 936.4,1284.4 937.2,1284.5 938.0,1284.1 938.8,1284.2 939.6,1284.3 940.4,1284.1 941.2,1283.8 942.0,1283.9 942.8,1284.5 943.6,1284.6 944.5,1284.8 945.3,1284.9 946.1,1285.0 946.9,1284.4 947.7,1284.4 948.5,1284.2 949.3,1284.4 950.1,1284.6 950.9,1284.1 951.7,1284.5 952.5,1284.2 953.3,1284.6 954.1,1284.5 954.9,1284.4 955.7,1284.3 956.5,1284.3 957.3,1284.6 958.1,1284.2 958.9,1284.5 959.7,1284.6 960.5,1284.8 961.3,1284.8 962.1,1284.5 962.9,1284.5 963.7,1284.1 964.5,1284.0 965.3,1284.2 966.1,1284.4 966.9,1284.4 967.7,1284.5 968.5,1284.5 969.3,1284.3 970.1,1284.5 970.9,1284.1 971.7,1283.9 972.5,1284.0 973.3,1284.0 974.1,1283.8 974.9,1284.0 975.7,1284.2 976.5,1284.1 977.3,1284.0 978.2,1284.1 979.0,1284.4 979.8,1283.9 980.6,1283.9 981.4,1283.9 981.4,1284.3 981.6,1284.3 981.7,1284.1 981.9,1283.9 982.1,1284.1 982.2,1284.4 982.2,1284.1 982.4,1283.8 982.6,1283.9 982.7,1283.8 982.9,1284.0 983.0,1284.1 983.1,1284.3 983.3,1284.5 983.4,1284.0 983.6,1283.7 983.8,1283.7 983.8,1283.8 983.9,1283.8 984.1,1283.5 984.3,1283.9 984.4,1284.0 984.6,1284.0 984.6,1283.5 984.8,1283.4 984.9,1283.2 985.1,1283.3 985.3,1282.9 985.4,1282.7 985.4,1282.9 985.6,1282.4 985.8,1281.9 985.9,1281.7 986.1,1281.6 986.2,1281.2 986.3,1280.7 986.5,1280.2 986.6,1279.6 986.8,1278.2 987.0,1276.7 987.0,1276.7 987.1,1274.4 987.3,1270.5 987.5,1264.1 987.6,1254.4 987.8,1242.7 987.8,1240.6 988.0,1226.0 988.1,1219.0 988.3,1225.9 988.5,1240.6 988.6,1249.6 988.6,1254.4 988.8,1263.8 989.0,1270.0 989.2,1274.0 989.3,1276.9 989.4,1277.7 989.5,1278.9 989.7,1279.8 989.8,1280.4 990.0,1281.1 990.2,1282.0 990.2,1282.1 990.3,1282.5 990.5,1283.0 990.7,1282.9 990.8,1282.8 991.0,1282.8 991.0,1282.7 991.2,1283.2 991.3,1283.2 991.5,1283.6 991.7,1283.7 991.8,1283.5 991.8,1283.9 992.0,1283.8 992.2,1284.0 992.4,1283.9 992.5,1284.1 992.6,1284.3 992.7,1283.8 992.9,1283.9 993.0,1284.2 993.2,1284.0 993.4,1283.7 993.4,1283.9 993.5,1283.9 993.7,1283.8 993.9,1283.6 994.0,1283.9 994.2,1283.9 994.2,1284.3 994.4,1284.5 994.5,1284.0 994.7,1284.3 994.9,1284.2 995.0,1284.4 995.8,1284.6 996.6,1284.6 997.4,1284.5 998.2,1284.6 999.0,1284.2 999.8,1284.4 1000.6,1284.0 1001.4,1284.0 1002.2,1283.9 1003.0,1284.1 1003.8,1284.5 1004.6,1284.7 1005.4,1284.8 1006.2,1284.9 1007.0,1284.9 1007.8,1284.8 1008.6,1284.6 1009.4,1284.4 1010.2,1284.6 1011.0,1284.5 1011.8,1284.3 1012.7,1284.6 1013.5,1284.3 1014.3,1284.6 1015.1,1284.8 1015.9,1284.4 1016.7,1284.3 1017.5,1284.3 1018.3,1284.4 1019.1,1284.6 1019.9,1284.5 1020.7,1284.5 1021.5,1284.1 1022.3,1284.0 1023.1,1283.9 1023.9,1284.3 1024.7,1284.4 1025.5,1284.5 1026.3,1284.7 1027.1,1284.5 1027.9,1284.4 1028.7,1284.5 1029.5,1284.7 1030.3,1284.8 1031.1,1284.8 1031.9,1284.6 1032.7,1284.1 1033.5,1284.1 1034.3,1284.4 1035.1,1284.5 1035.9,1284.6 1036.7,1284.2 1037.5,1284.6 1038.3,1284.2 1039.1,1284.0 1039.9,1284.3 1040.7,1284.3 1041.5,1284.6 1042.3,1284.3 1043.1,1284.6 1043.9,1284.1 1044.7,1284.2 1045.5,1284.1 1046.4,1283.8 1046.6,1283.7 1046.7,1283.7 1046.9,1283.8 1047.1,1284.1 1047.2,1284.1 1047.2,1283.9 1047.4,1284.1 1047.6,1283.8 1047.7,1283.9 1047.9,1283.6 1048.0,1284.1 1048.1,1284.1 1048.2,1284.1 1048.4,1284.2 1048.6,1284.0 1048.7,1284.0 1048.8,1284.1 1048.9,1284.2 1049.1,1284.0 1049.2,1284.0 1049.4,1284.1 1049.6,1284.3 1049.6,1284.1 1049.8,1283.7 1049.9,1283.9 1050.1,1283.4 1050.3,1283.6 1050.4,1283.8 1050.4,1283.9 1050.6,1283.3 1050.8,1283.3 1050.9,1283.3 1051.1,1282.6 1051.2,1282.7 1051.3,1282.4 1051.4,1281.8 1051.6,1281.3 1051.8,1280.1 1051.9,1279.2 1052.0,1278.9 1052.1,1277.4 1052.3,1275.0 1052.4,1271.2 1052.6,1265.1 1052.8,1256.0 1052.8,1254.6 1053.0,1237.4 1053.1,1216.1 1053.3,1204.6 1053.5,1215.9 1053.6,1230.1 1053.6,1237.0 1053.8,1254.0 1054.0,1264.7 1054.1,1271.3 1054.3,1275.3 1054.4,1276.1 1054.5,1277.4 1054.6,1278.7 1054.8,1280.2 1055.0,1280.8 1055.1,1281.7 1055.2,1281.7 1055.3,1282.1 1055.5,1282.3 1055.7,1282.6 1055.8,1283.0 1056.0,1283.0 1056.0,1283.3 1056.2,1283.2 1056.3,1283.3 1056.5,1283.3 1056.7,1283.2 1056.8,1283.7 1056.8,1283.5 1057.0,1283.5 1057.2,1283.4 1057.3,1283.3 1057.5,1283.5 1057.6,1283.5 1057.7,1283.7 1057.8,1283.5 1058.0,1283.8 1058.2,1283.9 1058.3,1284.3 1058.4,1284.3 1058.5,1284.5 1058.7,1284.7 1058.9,1284.4 1059.0,1284.6 1059.2,1284.7 1059.4,1284.1 1059.5,1284.4 1059.7,1284.4 1059.9,1284.1 1060.0,1284.5 1060.0,1284.1 1060.8,1284.2 1061.6,1284.5 1062.4,1284.7 1063.2,1284.7 1064.0,1284.4 1064.8,1284.3 1065.6,1284.5 1066.4,1284.7 1067.2,1284.4 1068.0,1284.5 1068.8,1284.5 1069.6,1284.5 1070.4,1284.3 1071.2,1284.0 1072.0,1283.9 1072.8,1283.8 1073.6,1284.2 1074.4,1284.2 1075.2,1284.1 1076.0,1284.0 1076.8,1284.2 1077.6,1284.0 1078.4,1284.1 1079.2,1284.0 1080.0,1284.1 1080.9,1284.1 1081.7,1284.4 1082.5,1284.6 1083.3,1284.4 1084.1,1284.3 1084.9,1284.3 1085.7,1284.1 1086.5,1283.9 1087.3,1284.2 1088.1,1284.5 1088.9,1284.5 1089.7,1284.7 1090.5,1284.3 1091.3,1284.5 1092.1,1284.3 1092.9,1284.1 1093.7,1284.3 1094.5,1284.0 1095.3,1284.2 1096.1,1284.3 1096.9,1284.0 1097.7,1284.4 1098.5,1284.2 1099.3,1284.6 1100.1,1284.7 1100.9,1284.5 1101.7,1284.1 1102.5,1283.9 1103.3,1283.9 1103.6,1284.4 1103.8,1284.3 1104.0,1284.5 1104.1,1284.7 1104.3,1284.4 1104.5,1284.1 1104.6,1284.2 1104.8,1284.2 1104.9,1284.4 1105.0,1284.5 1105.1,1284.7 1105.3,1284.4 1105.5,1284.2 1105.6,1284.4 1105.7,1284.5 1105.8,1284.1 1106.0,1284.4 1106.1,1284.3 1106.3,1284.6 1106.5,1284.2 1106.5,1284.0 1106.6,1284.1 1106.8,1284.3 1107.0,1284.5 1107.2,1284.7 1107.3,1284.4 1107.3,1284.4 1107.5,1284.4 1107.7,1284.3 1107.8,1284.5 1108.0,1284.1 1108.1,1284.1 1108.2,1284.4 1108.3,1284.4 1108.5,1284.6 1108.7,1284.4 1108.8,1284.3 1108.9,1284.4 1109.0,1283.9 1109.2,1283.8 1109.3,1284.0 1109.5,1283.8 1109.7,1283.7 1109.7,1284.0 1109.8,1283.8 1110.0,1283.5 1110.2,1283.3 1110.4,1282.9 1110.5,1282.2 1110.5,1282.0 1110.7,1281.3 1110.9,1281.4 1111.0,1281.8 1111.2,1282.0 1111.3,1282.8 1111.4,1283.1 1111.5,1283.7 1111.7,1283.9 1111.9,1284.2 1112.0,1284.2 1112.1,1284.1 1112.2,1284.3 1112.4,1284.1 1112.5,1284.0 1112.7,1284.2 1112.9,1284.5 1112.9,1284.0 1113.1,1284.1 1113.2,1284.5 1113.4,1284.7 1113.6,1284.3 1113.7,1284.3 1113.7,1284.0 1113.9,1283.9 1114.1,1284.4 1114.2,1284.2 1114.4,1283.9 1114.6,1283.7 1114.6,1283.7 1114.7,1283.9 1114.9,1283.8 1115.1,1283.8 1115.2,1284.1 1115.4,1284.3 1115.4,1284.7 1115.6,1284.8 1115.7,1284.7 1115.9,1284.8 1116.1,1284.9 1116.2,1284.6 1116.3,1284.7 1116.4,1284.2 1116.6,1284.5 1116.8,1284.4 1116.9,1284.3 1117.0,1284.4 1117.1,1284.2 1117.3,1283.9 1117.4,1283.8 1117.6,1284.4 1117.8,1284.5 1117.8,1284.5 1117.9,1284.1 1118.1,1284.1 1118.6,1284.3 1119.4,1284.1 1120.2,1283.9 1121.0,1284.4 1121.8,1284.0 1122.6,1284.4 1123.4,1284.7 1124.2,1284.9 1125.0,1284.4 1125.8,1284.5 1126.6,1284.2 1127.4,1284.1 1127.7,1284.6 1127.9,1284.1 1128.0,1284.5 1128.2,1284.1 1128.2,1283.9 1128.4,1284.1 1128.6,1284.5 1128.7,1284.7 1128.9,1284.7 1129.0,1284.8 1129.1,1284.4 1129.2,1284.6 1129.4,1284.5 1129.6,1284.7 1129.7,1284.3 1129.8,1284.4 1129.9,1284.7 1130.1,1284.4 1130.2,1284.2 1130.4,1284.3 1130.6,1284.1 1130.6,1284.3 1130.7,1284.1 1130.9,1284.0 1131.1,1284.1 1131.2,1284.0 1131.4,1284.3 1131.4,1284.3 1131.6,1284.2 1131.8,1284.5 1131.9,1284.4 1132.1,1284.1 1132.2,1283.8 1132.3,1283.7 1132.4,1284.0 1132.6,1284.0 1132.8,1284.4 1132.9,1283.9 1133.0,1284.3 1133.1,1284.1 1133.3,1284.1 1133.4,1283.8 1133.6,1283.4 1133.8,1283.0 1133.8,1282.8 1133.9,1282.4 1134.1,1282.3 1134.3,1281.6 1134.4,1280.8 1134.6,1281.2 1134.6,1281.0 1134.8,1281.9 1135.0,1282.7 1135.1,1283.3 1135.3,1283.9 1135.4,1284.2 1135.5,1283.9 1135.6,1284.2 1135.8,1284.5 1136.0,1284.2 1136.1,1284.2 1136.2,1284.1 1136.3,1284.2 1136.5,1284.4 1136.6,1284.0 1136.8,1284.1 1137.0,1284.2 1137.0,1284.1 1137.1,1284.5 1137.3,1284.7 1137.5,1284.6 1137.7,1284.2 1137.8,1284.6 1138.0,1284.1 1138.2,1284.1 1138.3,1284.3 1138.5,1284.1 1138.6,1283.9 1138.7,1283.9 1138.8,1284.4 1139.0,1284.1 1139.2,1284.3 1139.3,1284.1 1139.4,1284.2 1139.5,1284.0 1139.7,1284.5 1139.8,1284.4 1140.0,1284.1 1140.2,1284.3 1140.2,1284.1 1140.3,1284.5 1140.5,1284.4 1140.7,1284.7 1140.9,1284.4 1141.0,1284.5 1141.0,1284.3 1141.2,1284.6 1141.8,1284.5 1142.6,1284.4 1143.4,1284.6 1144.2,1284.6 1145.0,1284.4 1145.8,1284.3 1146.6,1284.3 1147.4,1284.6 1148.2,1284.3 1149.1,1284.3 1149.9,1284.3 1150.7,1284.6 1151.5,1284.2 1152.3,1284.6 1153.1,1284.5 1153.9,1284.5 1154.7,1284.6 1155.5,1284.8 1156.3,1284.7 1157.1,1284.3 1157.9,1284.6 1158.7,1284.5 1159.5,1284.2 1160.3,1284.4 1161.1,1284.1 1161.9,1284.5 1162.7,1284.5 1163.5,1284.5 1164.3,1284.8 1165.1,1284.8 1165.9,1284.5 1166.7,1284.5 1167.5,1284.8 1168.3,1284.8 1169.1,1284.7 1169.9,1284.6 1170.7,1284.5 1171.5,1284.4 1172.3,1284.1 1173.1,1284.0 1173.9,1284.0 1174.7,1284.2 1175.5,1283.9 1176.0,1284.3 1176.2,1284.4 1176.3,1284.6 1176.3,1284.5 1176.5,1284.1 1176.7,1283.8 1176.9,1284.2 1177.0,1284.3 1177.1,1284.5 1177.2,1284.4 1177.4,1284.2 1177.5,1284.4 1177.7,1284.0 1177.9,1283.8 1177.9,1283.9 1178.0,1284.3 1178.2,1284.6 1178.4,1284.1 1178.5,1283.9 1178.7,1284.0 1178.7,1284.3 1178.9,1284.5 1179.0,1284.2 1179.2,1284.5 1179.4,1284.4 1179.5,1284.6 1179.6,1284.7 1179.7,1284.2 1179.9,1284.0 1180.1,1284.0 1180.2,1284.2 1180.3,1284.5 1180.4,1284.7 1180.6,1284.8 1180.7,1284.7 1180.9,1284.8 1181.1,1284.7 1181.1,1284.7 1181.2,1284.3 1181.4,1284.1 1181.6,1283.7 1181.7,1284.0 1181.9,1283.6 1181.9,1283.4 1182.1,1283.1 1182.2,1282.9 1182.2,1282.7 1182.4,1282.1 1182.4,1282.4 1182.5,1281.5 1182.6,1280.9 1182.7,1280.2 1182.8,1280.3 1182.9,1280.8 1182.9,1281.3 1183.0,1282.0 1183.1,1282.4 1183.2,1283.0 1183.3,1282.9 1183.4,1283.1 1183.4,1283.4 1183.5,1283.5 1183.6,1284.0 1183.6,1283.7 1183.7,1283.9 1183.8,1284.0 1183.9,1283.7 1183.9,1284.1 1184.0,1284.3 1184.1,1283.9 1184.2,1283.8 1184.3,1284.2 1184.4,1284.0 1184.4,1283.8 1184.4,1283.9 1184.5,1284.2 1184.6,1284.4 1184.7,1284.3 1184.8,1284.3 1184.9,1283.9 1184.9,1284.2 1185.1,1284.0 1185.1,1284.3 1185.2,1284.6 1185.2,1284.8 1185.3,1284.2 1185.4,1284.3 1185.4,1284.1 1185.6,1284.3 1185.6,1284.5 1185.7,1284.5 1185.8,1284.3 1185.9,1284.3 1186.0,1284.3 1186.0,1284.3 1186.1,1284.3 1186.1,1284.0 1186.2,1284.4 1186.3,1284.5 1186.4,1284.7 1186.5,1284.2 1186.6,1284.4 1186.6,1284.1 1186.7,1284.5 1186.8,1284.2 1186.8,1284.5 1186.9,1284.5 1187.0,1284.5 1187.1,1284.3 1187.1,1284.0 1187.2,1283.8 1187.3,1283.8 1187.4,1283.8 1187.5,1283.7 1187.6,1283.9 1187.6,1284.1 1187.6,1284.4 1187.8,1284.2 1187.8,1283.9 1187.9,1284.2 1188.0,1284.0 1188.1,1283.7 1188.1,1283.7 1188.3,1283.7 1188.3,1283.2 1188.4,1282.9 1188.4,1283.2 1188.5,1283.1 1188.6,1282.5 1188.6,1282.1 1188.8,1281.2 1188.8,1281.1 1188.9,1280.9 1189.0,1281.1 1189.1,1281.5 1189.2,1281.5 1189.2,1281.7 1189.3,1282.5 1189.3,1282.7 1189.4,1283.4 1189.5,1283.6 1189.6,1283.7 1189.8,1283.6 1189.9,1283.6 1190.0,1283.5 1190.1,1283.5 1190.3,1284.0 1190.4,1284.4 1190.6,1284.1 1190.8,1283.9 1190.8,1284.3 1191.0,1284.5 1191.1,1284.6 1191.3,1284.2 1191.5,1284.4 1191.6,1284.6 1191.6,1284.1 1191.8,1284.5 1192.0,1284.2 1192.1,1283.9 1192.3,1284.2 1192.4,1284.3 1192.5,1284.6 1192.6,1284.6 1192.8,1284.3 1193.0,1284.5 1193.1,1284.7 1193.2,1284.4 1193.3,1284.1 1193.5,1284.4 1193.6,1284.2 1193.8,1284.3 1194.0,1284.4 1194.2,1284.5 1194.3,1284.6 1194.5,1284.1 1194.7,1284.1 1194.8,1284.1 1194.8,1283.9 1195.0,1284.0 1195.2,1284.5 1195.3,1284.6 1195.5,1284.8 1195.6,1284.9 1195.7,1284.9 1196.4,1284.5 1197.2,1284.3 1198.0,1284.4 1198.8,1284.1 1199.6,1284.5 1200.4,1284.4 1201.2,1284.1 1202.0,1283.9 1202.8,1283.8 1203.6,1283.9 1204.4,1284.0 1205.2,1283.9 1206.0,1284.4 1206.8,1284.4 1207.6,1284.4 1208.4,1284.1 1209.2,1283.9 1210.0,1283.8 1210.8,1283.8 1211.6,1284.3 1212.4,1284.5 1213.2,1284.4 1214.0,1284.7 1214.8,1284.9 1215.6,1284.3 1216.5,1284.5 1217.3,1284.4 1218.1,1284.0 1218.9,1284.4 1219.7,1284.2 1220.5,1284.2 1221.3,1284.1 1222.1,1284.0 1222.9,1283.9 1223.7,1284.0 1224.5,1284.3 1225.3,1284.0 1226.1,1284.4 1226.9,1284.4 1227.7,1284.1 1228.5,1283.9 1229.3,1284.2 1230.1,1284.5 1230.9,1284.7 1231.7,1284.3 1232.5,1284.0 1233.3,1283.9"/>
<rect x="105.7" y="1410.6" width="3.5" height="567.7" fill="#5a5a5a"/>
<rect x="105.700" y="1974.7" width="1128.8" height="3.6" fill="#555555"/>
<rect x="92.4" y="1972.8" width="16.6" height="2.3" fill="#1a1a1a"/>
<text class="t tk" x="85.6" y="1983.6" text-anchor="end">0</text>
<rect x="92.4" y="1892.5" width="15.6" height="2.3" fill="#1a1a1a"/>
<text class="t tk" x="85.6" y="1903.3" text-anchor="end">10</text>
<rect x="92.4" y="1812.2" width="15.6" height="2.3" fill="#1a1a1a"/>
<text class="t tk" x="85.6" y="1823.0" text-anchor="end">20</text>
<rect x="92.4" y="1731.8" width="15.6" height="2.3" fill="#1a1a1a"/>
<text class="t tk" x="85.6" y="1742.7" text-anchor="end">30</text>
<rect x="92.4" y="1651.5" width="15.6" height="2.3" fill="#1a1a1a"/>
<text class="t tk" x="85.6" y="1662.4" text-anchor="end">40</text>
<rect x="92.4" y="1571.2" width="15.6" height="2.3" fill="#1a1a1a"/>
<text class="t tk" x="85.6" y="1582.1" text-anchor="end">50</text>
<rect x="92.4" y="1491.0" width="15.6" height="2.3" fill="#1a1a1a"/>
<text class="t tk" x="85.6" y="1501.8" text-anchor="end">60</text>
<rect x="92.4" y="1410.7" width="15.6" height="2.3" fill="#1a1a1a"/>
<text class="t tk" x="85.6" y="1421.5" text-anchor="end">70</text>
<rect x="108.4" y="1976.5" width="2" height="15.500" fill="#151515"/>
<text class="t tk" x="110.2" y="2025.0" text-anchor="middle">500</text>
<rect x="389.2" y="1976.5" width="2" height="15.500" fill="#151515"/>
<text class="t tk" x="391.0" y="2025.0" text-anchor="middle">550</text>
<rect x="670.0" y="1976.5" width="2" height="15.500" fill="#151515"/>
<text class="t tk" x="671.9" y="2025.0" text-anchor="middle">600</text>
<rect x="950.9" y="1976.5" width="2" height="15.500" fill="#151515"/>
<text class="t tk" x="952.7" y="2025.0" text-anchor="middle">650</text>
<rect x="1231.7" y="1976.5" width="2" height="15.500" fill="#151515"/>
<text class="t tk" x="1233.5" y="2025.0" text-anchor="middle">700</text>
<text class="t ax" x="671.7" y="2061.1" text-anchor="middle">Wavelength (nm)</text>
<text class="t" font-size="27.7" style="font-size:27.7px" text-anchor="middle" transform="translate(40.3,1692.9) rotate(-90)">Intensity (10<tspan style="font-size:16.5px" dy="-20.200">3</tspan><tspan dy="20.200"> counts)</tspan></text>
<rect x="110" y="1972.9" width="1123.3" height="2.4" fill="#8c8c8c"/>
<path class="sp" d="M110.0,1972.4 110.1,1972.7 110.3,1972.5 110.4,1972.2 110.6,1972.1 110.8,1972.2 110.8,1972.2 111.0,1972.4 111.1,1972.4 111.3,1972.6 111.5,1972.3 111.6,1972.2 111.6,1972.4 111.7,1972.4 111.8,1972.1 111.9,1972.1 112.0,1971.7 112.0,1971.4 112.1,1971.2 112.2,1971.6 112.3,1971.6 112.4,1971.4 112.4,1971.1 112.5,1970.5 112.5,1970.0 112.6,1969.3 112.7,1969.0 112.8,1968.7 112.9,1969.2 113.0,1969.6 113.0,1970.1 113.1,1970.7 113.2,1971.3 113.2,1971.0 113.3,1971.1 113.4,1971.6 113.5,1971.8 113.5,1972.2 113.7,1972.3 113.7,1972.5 113.8,1972.1 113.9,1972.0 114.0,1971.9 114.0,1972.2 114.0,1972.1 114.2,1972.1 114.2,1972.2 114.3,1972.0 114.4,1972.1 114.5,1972.4 114.5,1972.2 114.7,1972.3 114.7,1972.6 114.8,1972.4 114.8,1972.8 114.9,1972.6 115.0,1972.5 115.1,1972.8 115.2,1972.6 115.2,1972.8 115.3,1972.5 115.4,1972.6 115.5,1972.9 115.6,1972.3 115.6,1972.7 115.7,1972.8 115.7,1972.7 115.8,1972.7 115.9,1972.6 116.0,1972.5 116.1,1972.4 116.2,1972.4 116.2,1972.6 116.3,1972.7 116.4,1972.4 116.4,1972.5 116.5,1972.4 116.6,1972.1 116.7,1972.6 116.7,1972.7 116.9,1972.5 116.9,1972.7 117.0,1972.3 117.1,1972.4 117.2,1972.4 117.2,1972.6 117.2,1972.1 117.4,1972.4 117.4,1972.0 117.5,1971.8 117.6,1971.6 117.7,1971.5 117.8,1971.6 117.9,1971.4 117.9,1970.9 118.0,1971.0 118.0,1970.6 118.1,1970.3 118.2,1969.9 118.3,1969.2 118.4,1968.9 118.4,1969.2 118.5,1969.5 118.6,1969.7 118.7,1970.6 118.8,1970.7 118.8,1971.0 118.9,1971.3 118.9,1971.2 119.0,1971.5 119.1,1971.3 119.2,1971.4 119.3,1971.5 119.4,1971.5 119.4,1971.6 119.5,1971.9 119.6,1972.4 119.6,1972.4 119.8,1972.3 119.9,1972.0 120.1,1972.1 120.3,1972.2 120.4,1972.6 120.4,1972.4 120.6,1972.8 120.8,1972.9 121.0,1973.0 121.1,1972.6 121.2,1972.2 121.3,1972.3 121.5,1972.7 121.6,1972.4 121.8,1972.7 122.0,1972.5 122.0,1972.4 122.1,1972.1 122.3,1972.5 122.5,1972.7 122.6,1972.8 122.8,1973.0 122.8,1972.4 123.0,1972.4 123.1,1972.7 123.3,1972.6 123.5,1972.9 123.6,1972.4 123.6,1972.5 123.8,1972.9 124.0,1972.6 124.2,1972.7 124.3,1972.5 124.4,1972.3 124.5,1972.7 124.7,1972.6 124.8,1972.2 125.0,1972.6 125.2,1972.7 125.2,1972.5 126.0,1972.8 126.8,1972.5 127.1,1972.3 127.3,1972.1 127.5,1972.0 127.6,1972.2 127.7,1972.4 127.8,1972.4 128.0,1972.4 128.1,1972.1 128.3,1972.5 128.5,1972.5 128.5,1972.6 128.6,1972.7 128.8,1972.9 129.0,1972.5 129.2,1972.4 129.3,1972.3 129.3,1972.6 129.5,1972.6 129.7,1972.8 129.8,1972.9 130.0,1973.0 130.1,1972.6 130.2,1972.3 130.3,1972.3 130.5,1972.2 130.7,1972.6 130.8,1972.5 130.9,1972.7 131.0,1972.6 131.2,1972.7 131.3,1972.7 131.5,1972.3 131.7,1972.3 131.7,1972.5 131.8,1972.4 132.0,1972.5 132.2,1972.1 132.4,1972.2 132.5,1971.8 132.5,1971.8 132.7,1971.6 132.9,1971.4 133.0,1971.0 133.2,1970.8 133.3,1970.0 133.4,1969.2 133.5,1967.3 133.7,1963.8 133.9,1961.2 134.0,1963.4 134.1,1964.2 134.2,1967.0 134.4,1969.6 134.5,1970.7 134.7,1971.3 134.9,1971.6 134.9,1971.7 135.0,1972.2 135.2,1971.9 135.4,1972.3 135.6,1972.5 135.7,1972.5 135.7,1972.1 135.9,1972.1 136.1,1972.5 136.2,1972.7 136.4,1972.6 136.5,1972.8 136.6,1972.9 136.7,1973.0 136.9,1972.5 137.1,1972.2 137.2,1972.1 137.3,1972.1 137.4,1972.6 137.6,1972.7 137.7,1972.4 137.9,1972.8 138.1,1972.6 138.3,1972.4 138.4,1972.6 138.6,1972.7 138.8,1972.5 138.9,1972.4 138.9,1972.7 139.1,1972.4 139.3,1972.8 139.4,1972.9 139.6,1972.9 139.7,1972.9 139.8,1972.8 139.9,1972.8 140.1,1972.5 140.3,1972.3 140.4,1972.2 140.5,1972.1 140.6,1972.5 141.3,1972.4 142.1,1972.2 142.9,1972.1 143.7,1972.4 144.5,1972.2 145.3,1972.4 146.1,1972.2 146.9,1972.2 147.7,1972.7 148.5,1972.3 149.3,1972.2 150.1,1972.3 150.9,1972.1 151.7,1972.0 152.5,1972.0 153.3,1972.1 154.1,1972.1 154.9,1972.6 155.7,1972.5 156.5,1972.9 157.3,1972.7 158.1,1972.9 158.9,1972.6 159.7,1972.3 160.5,1972.6 161.4,1972.5 162.2,1972.7 163.0,1972.3 163.8,1972.4 164.6,1972.7 165.4,1972.5 166.2,1972.5 167.0,1972.5 167.8,1972.6 168.6,1972.8 169.4,1973.0 170.2,1972.7 171.0,1972.9 171.8,1972.8 172.6,1972.6 173.4,1972.4 174.2,1972.7 175.0,1972.7 175.8,1972.9 176.6,1972.9 177.4,1972.4 178.2,1972.3 179.0,1972.7 179.8,1972.3 180.6,1972.5 181.4,1972.5 182.2,1972.3 183.0,1972.6 183.8,1972.7 184.6,1972.8 185.4,1972.6 186.2,1972.2 187.0,1972.6 187.8,1972.2 188.6,1972.3 189.2,1972.4 189.4,1972.8 189.4,1972.5 189.5,1972.8 189.7,1972.4 189.9,1972.6 190.0,1972.4 190.2,1972.3 190.2,1972.5 190.4,1972.6 190.5,1972.5 190.7,1972.6 190.9,1972.6 191.0,1972.2 191.0,1972.5 191.2,1972.6 191.4,1972.4 191.6,1972.5 191.7,1972.7 191.8,1972.7 191.9,1972.9 192.1,1973.0 192.2,1972.5 192.4,1972.6 192.6,1972.6 192.6,1972.6 192.7,1972.8 192.9,1972.9 193.1,1973.1 193.2,1972.8 193.4,1972.8 193.4,1972.5 193.6,1972.7 193.7,1972.4 193.9,1972.1 194.1,1972.4 194.2,1972.4 194.4,1972.7 194.6,1972.5 194.8,1972.7 194.9,1972.6 195.1,1972.4 195.1,1972.2 195.3,1972.4 195.4,1972.3 195.6,1972.4 195.8,1972.5 195.9,1972.8 195.9,1973.0 196.1,1973.0 196.3,1972.9 196.4,1972.8 196.6,1972.9 196.7,1972.9 196.8,1972.8 196.9,1972.5 197.1,1972.3 197.3,1972.2 197.4,1972.3 197.5,1972.7 197.6,1972.4 197.8,1972.2 198.0,1972.6 198.1,1972.8 198.3,1972.7 198.3,1972.8 198.5,1972.3 198.6,1972.3 198.8,1972.3 199.0,1972.6 199.1,1972.6 199.1,1972.5 199.3,1972.3 199.5,1972.5 199.6,1972.5 199.8,1972.6 199.9,1972.6 200.0,1972.6 200.1,1972.7 200.3,1972.6 200.5,1972.2 200.7,1972.0 200.7,1971.9 200.8,1972.2 201.0,1972.0 201.2,1972.4 201.3,1972.6 201.5,1972.7 201.5,1972.5 201.7,1972.6 201.8,1972.6 202.0,1972.8 202.2,1972.4 202.3,1972.3 202.3,1972.3 202.5,1972.2 202.7,1972.0 202.8,1971.8 203.0,1972.2 203.1,1971.9 203.2,1971.9 203.3,1971.9 203.5,1972.2 203.7,1971.8 203.9,1971.9 203.9,1972.2 204.0,1972.1 204.2,1972.0 204.4,1971.7 204.5,1971.5 204.7,1971.2 204.7,1971.1 204.9,1970.9 205.0,1971.0 205.2,1970.9 205.4,1970.7 205.5,1970.5 205.5,1970.4 205.7,1970.3 205.9,1970.4 206.0,1970.4 206.2,1970.5 206.3,1970.2 206.4,1970.0 206.5,1970.3 206.7,1970.7 206.9,1971.1 207.1,1970.9 207.1,1970.7 207.2,1970.8 207.4,1970.9 207.6,1971.3 207.7,1971.4 207.9,1971.6 207.9,1972.1 208.1,1972.0 208.2,1971.7 208.4,1972.0 208.6,1971.9 208.7,1972.3 208.7,1972.1 208.9,1972.3 209.1,1971.9 209.2,1972.1 209.4,1972.0 209.5,1972.3 209.6,1972.4 209.7,1972.2 209.9,1972.3 210.1,1972.2 210.3,1972.0 210.3,1972.5 210.4,1972.5 210.6,1972.2 210.8,1972.2 210.9,1972.1 211.1,1972.1 211.3,1972.1 211.4,1972.6 211.6,1972.8 211.8,1972.5 211.9,1972.3 211.9,1972.5 212.1,1972.5 212.3,1972.2 212.4,1972.0 212.6,1972.4 212.7,1972.1 212.8,1971.9 213.0,1972.3 213.1,1972.3 213.3,1972.6 213.5,1972.6 213.5,1972.8 213.6,1972.8 213.8,1972.6 214.0,1972.3 214.1,1972.4 214.3,1972.1 214.3,1972.6 214.5,1972.4 214.6,1972.1 214.8,1972.5 215.0,1972.7 215.1,1972.7 215.1,1972.8 215.3,1972.4 215.5,1972.4 215.6,1972.8 215.8,1972.8 215.9,1972.7 216.0,1972.5 216.2,1972.7 216.3,1972.4 216.5,1972.5 216.7,1972.4 216.7,1972.5 216.8,1972.2 217.0,1972.6 217.2,1972.4 217.3,1972.2 217.5,1972.0 217.5,1972.6 217.7,1972.7 217.8,1972.7 218.0,1972.4 218.2,1972.3 218.3,1972.4 218.3,1972.3 218.5,1972.4 218.7,1972.1 218.8,1972.3 219.0,1972.4 219.1,1972.7 219.2,1972.4 219.4,1972.7 219.5,1972.6 219.7,1972.8 219.9,1972.7 219.9,1972.5 220.0,1972.2 220.2,1972.2 220.4,1972.2 220.5,1972.5 220.7,1972.6 220.7,1972.8 220.9,1972.6 221.0,1972.6 221.2,1972.5 221.4,1972.7 221.5,1972.2 221.5,1972.0 221.7,1972.4 221.9,1972.1 222.0,1972.1 222.2,1972.0 222.3,1972.0 222.4,1971.7 222.6,1972.2 222.7,1971.8 222.9,1971.7 223.1,1971.5 223.1,1971.3 223.2,1971.1 223.4,1971.6 223.6,1971.6 223.7,1971.2 223.9,1970.9 223.9,1970.8 224.1,1970.7 224.2,1970.3 224.4,1970.5 224.6,1970.6 224.7,1970.7 224.7,1970.6 224.9,1970.6 225.1,1970.8 225.3,1971.1 225.4,1971.2 225.5,1971.6 225.6,1971.8 225.8,1971.4 225.9,1971.5 226.1,1972.0 226.3,1972.1 226.3,1972.2 226.4,1972.2 226.6,1971.9 226.8,1971.9 226.9,1972.4 227.1,1972.2 227.1,1971.9 227.3,1972.2 227.4,1972.4 227.6,1972.6 227.8,1972.6 227.9,1972.2 228.1,1972.4 228.3,1972.6 228.5,1972.6 228.6,1972.2 228.7,1972.7 228.8,1972.9 229.0,1972.6 229.1,1972.9 229.3,1972.9 229.5,1972.7 229.6,1972.7 229.6,1972.7 229.8,1972.5 230.0,1972.6 230.1,1972.5 230.3,1972.2 230.4,1972.2 230.5,1972.0 230.6,1972.5 230.8,1972.6 231.0,1972.4 231.1,1972.6 231.2,1972.7 231.3,1972.9 231.5,1972.8 231.7,1972.3 231.8,1972.5 232.0,1972.8 232.0,1972.8 232.2,1973.0 232.3,1972.6 232.5,1972.8 232.7,1972.6 232.8,1972.2 232.8,1972.4 233.0,1972.1 233.2,1972.3 233.3,1972.6 233.5,1972.6 233.6,1972.9 233.7,1972.7 233.8,1972.7 234.0,1972.6 234.2,1972.8 234.3,1972.8 234.4,1972.4 234.5,1972.4 234.7,1972.3 234.9,1972.5 235.0,1972.7 235.2,1972.7 235.2,1972.9 235.4,1972.5 235.5,1972.7 235.7,1972.9 235.9,1973.0 236.0,1972.9 236.0,1972.9 236.2,1972.5 236.4,1972.4 236.5,1972.4 236.7,1972.2 236.8,1972.5 236.9,1972.7 237.0,1972.4 237.2,1972.4 237.4,1972.5 237.6,1972.8 237.6,1972.5 237.7,1972.4 237.9,1972.6 238.1,1972.3 238.4,1972.5 239.2,1972.7 240.0,1972.4 240.8,1972.8 241.6,1973.0 242.4,1973.0 243.2,1972.8 244.0,1972.7 244.8,1972.4 245.6,1972.2 246.4,1972.0 247.2,1972.4 248.0,1972.5 248.8,1972.7 249.6,1972.9 250.4,1972.8 251.2,1972.8 252.0,1973.0 252.8,1972.8 253.6,1972.6 254.4,1972.3 255.2,1972.6 256.0,1972.3 256.8,1972.6 257.6,1972.6 258.4,1972.8 259.2,1972.4 260.0,1972.7 260.8,1972.7 261.6,1972.9 262.4,1972.5 263.3,1972.2 264.1,1972.6 264.9,1972.4 265.7,1972.7 266.5,1972.3 267.3,1972.3 268.1,1972.7 268.9,1972.8 269.7,1972.5 270.5,1972.4 271.3,1972.4 272.1,1972.7 272.9,1972.3 273.7,1972.1 274.5,1972.0 275.3,1971.9 276.1,1972.5 276.9,1972.6 277.7,1972.4 278.5,1972.2 279.3,1972.2 280.1,1972.0 280.9,1972.5 281.7,1972.6 282.5,1972.4 283.3,1972.3 284.1,1972.1 284.9,1972.0 285.7,1972.4 286.5,1972.1 287.3,1972.1 288.1,1972.0 288.9,1972.2 289.7,1972.6 290.5,1972.3 291.3,1972.7 292.1,1972.6 292.9,1972.6 293.7,1972.3 294.5,1972.3 295.3,1972.1 296.1,1972.6 296.9,1972.3 297.8,1972.1 298.6,1972.3 299.4,1972.7 300.2,1972.5 301.0,1972.5 301.8,1972.5 302.6,1972.2 303.4,1972.1 304.2,1972.3 305.0,1972.7 305.8,1972.5 306.6,1972.4 307.4,1972.1 308.2,1972.1 309.0,1972.4 309.8,1972.3 310.6,1972.1 311.4,1972.0 312.2,1972.2 312.4,1972.6 312.5,1972.8 312.7,1972.9 312.9,1972.9 313.0,1972.4 313.0,1972.4 313.2,1972.8 313.4,1972.9 313.5,1972.7 313.7,1972.3 313.8,1972.1 313.9,1972.1 314.0,1972.2 314.2,1972.6 314.4,1972.6 314.6,1972.3 314.6,1972.6 314.7,1972.8 314.9,1972.6 315.1,1972.8 315.2,1972.8 315.4,1972.9 315.4,1972.9 315.6,1972.7 315.7,1972.4 315.9,1972.2 316.1,1972.6 316.2,1972.2 316.2,1972.5 316.4,1972.8 316.6,1972.8 316.7,1972.7 316.9,1972.5 317.0,1972.7 317.1,1972.7 317.2,1972.5 317.4,1972.2 317.6,1971.9 317.8,1972.3 317.8,1972.0 317.9,1972.1 318.1,1971.6 318.3,1971.4 318.4,1970.9 318.6,1969.1 318.6,1969.0 318.8,1966.4 318.9,1964.7 319.1,1966.5 319.3,1969.0 319.4,1970.5 319.4,1970.8 319.6,1971.3 319.8,1971.7 319.9,1972.1 320.1,1972.5 320.2,1972.6 320.3,1972.7 320.5,1972.6 320.6,1972.4 320.8,1972.6 321.0,1972.8 321.0,1972.4 321.1,1972.3 321.3,1972.3 321.5,1972.3 321.6,1972.7 321.8,1972.8 321.8,1972.4 322.0,1972.5 322.1,1972.8 322.3,1972.8 322.5,1972.7 322.6,1972.5 322.6,1972.5 322.8,1972.7 323.0,1972.9 323.1,1973.0 323.3,1972.6 323.4,1972.6 323.5,1972.4 323.7,1972.2 323.8,1972.1 324.0,1972.1 324.2,1972.4 324.2,1972.5 324.3,1972.4 324.5,1972.6 324.7,1972.6 324.8,1972.6 325.0,1972.7 325.0,1972.6 325.2,1972.6 325.3,1972.2 325.5,1972.1 325.7,1972.5 325.8,1972.3 326.6,1972.6 327.4,1972.8 328.2,1972.9 329.0,1972.6 329.8,1972.3 330.6,1972.5 331.5,1972.3 332.3,1972.0 333.1,1972.2 333.9,1972.0 334.7,1972.2 335.5,1972.2 336.3,1972.7 337.1,1972.8 337.9,1972.9 338.7,1972.4 339.5,1972.3 340.3,1972.3 341.1,1972.3 341.9,1972.2 342.7,1972.3 343.5,1972.6 344.3,1972.9 345.1,1972.9 345.9,1972.7 346.7,1972.3 347.5,1972.2 348.3,1972.7 349.1,1972.4 349.9,1972.4 350.7,1972.8 351.5,1972.3 352.1,1972.5 352.2,1972.5 352.3,1972.7 352.4,1972.7 352.6,1972.4 352.7,1972.2 352.9,1972.2 353.1,1972.0 353.1,1972.0 353.3,1971.9 353.4,1972.5 353.6,1972.9 353.8,1972.8 353.9,1972.8 353.9,1972.7 354.1,1972.5 354.3,1972.7 354.4,1972.5 354.6,1972.4 354.7,1972.8 354.8,1972.5 354.9,1972.6 355.1,1972.4 355.3,1972.3 355.4,1972.3 355.5,1972.5 355.6,1972.6 355.8,1972.9 355.9,1972.3 356.1,1972.4 356.3,1972.1 356.3,1972.5 356.5,1972.6 356.6,1972.7 356.8,1972.4 357.0,1972.6 357.1,1972.4 357.3,1972.7 357.5,1972.3 357.6,1972.1 357.8,1972.3 357.9,1972.2 358.0,1972.4 358.1,1972.7 358.3,1972.5 358.5,1972.5 358.6,1972.5 358.7,1972.4 358.8,1972.3 359.0,1972.5 359.1,1972.6 359.3,1972.3 359.5,1972.7 359.5,1972.3 359.7,1972.5 359.8,1972.3 360.0,1972.1 360.2,1972.5 360.3,1972.8 360.3,1972.9 360.5,1972.7 360.7,1972.7 360.8,1972.2 361.0,1972.3 361.1,1972.1 361.2,1972.1 361.3,1972.5 361.5,1972.1 361.7,1971.9 361.8,1971.9 361.9,1972.0 362.0,1972.1 362.2,1972.0 362.3,1972.2 362.5,1972.1 362.7,1971.9 362.7,1972.4 362.9,1972.2 363.0,1972.3 363.2,1972.5 363.4,1971.9 363.5,1971.9 363.5,1972.1 363.7,1971.9 363.9,1971.7 364.0,1971.5 364.2,1971.7 364.3,1971.5 364.4,1971.1 364.5,1971.1 364.7,1970.7 364.9,1970.1 365.0,1970.1 365.1,1970.1 365.2,1970.0 365.4,1969.4 365.6,1969.5 365.7,1969.5 365.9,1969.8 366.0,1970.2 366.1,1970.3 366.2,1970.7 366.4,1970.6 366.6,1970.7 366.7,1971.3 366.8,1971.7 366.9,1971.9 367.1,1971.7 367.2,1971.7 367.4,1971.7 367.6,1971.8 367.6,1972.0 367.7,1972.3 367.9,1972.5 368.1,1972.3 368.2,1972.4 368.4,1972.2 368.4,1972.5 368.6,1972.4 368.8,1972.3 368.9,1972.5 369.1,1972.3 369.2,1972.5 369.3,1972.5 369.4,1972.4 369.6,1972.1 369.8,1972.3 369.9,1972.3 370.0,1972.4 370.1,1972.2 370.3,1972.5 370.4,1972.5 370.6,1972.6 370.8,1972.8 370.8,1972.4 370.9,1972.2 371.1,1972.2 371.3,1972.2 371.4,1972.4 371.6,1972.3 371.6,1972.2 371.8,1972.5 372.0,1972.3 372.1,1972.1 372.3,1972.4 372.4,1972.5 372.5,1972.6 372.6,1972.7 372.8,1972.5 373.0,1972.2 373.1,1972.4 373.2,1972.1 373.3,1972.6 373.5,1972.5 373.6,1972.3 373.8,1972.6 374.0,1972.9 374.1,1972.8 374.3,1972.9 374.5,1972.5 374.6,1972.7 374.8,1972.5 374.8,1972.2 375.0,1972.6 375.2,1972.3 375.3,1972.7 375.5,1972.3 375.6,1972.1 375.7,1972.5 375.8,1972.4 376.0,1972.4 376.2,1972.6 376.3,1972.7 376.4,1972.4 376.5,1972.6 376.7,1972.7 376.8,1972.6 377.0,1972.3 377.2,1972.4 377.2,1972.3 377.3,1972.2 377.5,1972.5 377.7,1972.6 377.9,1972.8 378.0,1972.4 378.0,1972.1 378.2,1972.7 378.4,1972.4 378.5,1972.8 378.7,1973.0 378.8,1973.0 378.9,1973.1 379.0,1972.5 379.6,1972.7 380.4,1972.8 381.2,1972.6 382.0,1972.9 382.8,1973.1 383.5,1973.0 383.6,1972.8 383.7,1972.4 383.9,1972.5 384.0,1972.8 384.2,1972.7 384.4,1972.5 384.4,1972.6 384.5,1972.3 384.7,1972.3 384.9,1972.2 385.0,1972.0 385.2,1972.5 385.4,1972.2 385.5,1972.2 385.7,1972.2 385.9,1972.2 386.0,1972.6 386.1,1972.8 386.2,1972.9 386.4,1973.1 386.6,1972.8 386.7,1973.0 386.8,1973.1 386.9,1972.7 387.1,1972.4 387.2,1972.2 387.4,1972.4 387.6,1972.7 387.6,1972.5 387.7,1972.8 387.9,1972.8 388.1,1972.6 388.2,1972.9 388.4,1973.1 388.4,1973.2 388.6,1973.1 388.7,1973.2 388.9,1973.0 389.1,1972.9 389.2,1972.4 389.3,1972.6 389.4,1972.2 389.6,1972.4 389.8,1972.5 389.9,1972.4 390.0,1972.8 390.1,1972.3 390.3,1972.2 390.4,1972.1 390.6,1972.3 390.8,1972.6 390.8,1972.5 390.9,1972.8 391.1,1972.7 391.3,1972.3 391.4,1972.6 391.6,1972.9 391.6,1972.6 391.8,1972.5 391.9,1972.7 392.1,1972.3 392.3,1972.1 392.4,1972.5 392.5,1972.4 392.6,1972.7 392.8,1972.4 393.0,1972.6 393.1,1972.7 393.2,1972.3 393.3,1972.1 393.5,1972.1 393.6,1972.3 393.8,1972.7 394.0,1972.5 394.0,1972.8 394.1,1972.6 394.3,1972.8 394.5,1972.9 394.6,1973.0 394.8,1973.0 394.8,1972.8 395.0,1973.0 395.1,1972.9 395.3,1973.0 395.5,1973.0 395.6,1973.0 395.7,1972.4 395.8,1972.7 396.0,1972.8 396.2,1972.3 396.3,1972.6 396.4,1972.5 396.5,1972.7 396.7,1972.8 396.8,1972.4 397.0,1972.4 397.2,1972.2 397.2,1971.9 397.3,1972.4 397.5,1972.2 397.7,1972.3 397.8,1972.2 398.0,1972.2 398.0,1972.3 398.2,1972.2 398.4,1971.7 398.5,1972.0 398.7,1971.7 398.8,1971.6 398.9,1971.8 399.0,1971.9 399.2,1971.9 399.4,1971.4 399.5,1971.0 399.7,1971.0 399.7,1970.6 399.9,1970.6 400.0,1970.2 400.2,1970.5 400.4,1970.0 400.5,1970.1 400.5,1970.5 400.7,1970.8 400.9,1970.8 401.0,1971.1 401.2,1971.4 401.3,1971.0 401.4,1971.4 401.6,1971.4 401.7,1971.8 401.9,1971.9 402.1,1971.8 402.2,1971.9 402.4,1971.8 402.6,1972.1 402.7,1972.1 402.9,1971.8 402.9,1971.8 403.1,1971.7 403.2,1971.8 403.4,1971.9 403.6,1972.2 403.7,1972.1 403.7,1972.4 403.9,1972.3 404.1,1972.3 404.2,1972.2 404.4,1972.1 404.5,1972.0 404.6,1971.8 404.8,1971.7 404.9,1972.0 405.1,1972.5 405.3,1972.8 405.3,1972.7 405.4,1972.6 405.6,1972.3 405.8,1972.6 405.9,1972.5 406.1,1972.3 406.1,1972.6 406.3,1972.6 406.4,1972.4 406.6,1972.7 406.8,1972.4 406.9,1972.5 406.9,1972.8 407.1,1972.8 407.3,1972.9 407.4,1973.1 407.6,1972.7 407.7,1972.5 407.8,1972.5 408.0,1972.6 408.1,1972.8 408.3,1972.7 408.5,1972.3 408.5,1972.4 408.6,1972.6 408.8,1972.6 409.0,1972.6 409.1,1972.4 409.3,1972.3 409.3,1972.1 409.4,1972.0 409.5,1972.0 409.5,1972.2 409.6,1972.2 409.7,1972.5 409.8,1972.3 409.9,1972.6 410.0,1972.5 410.0,1972.7 410.1,1972.5 410.1,1972.6 410.2,1972.8 410.3,1972.5 410.4,1972.2 410.5,1972.1 410.5,1972.6 410.7,1972.6 410.7,1972.4 410.8,1972.2 410.9,1972.4 410.9,1972.5 411.0,1972.6 411.0,1972.4 411.2,1972.4 411.2,1972.5 411.3,1972.2 411.4,1972.2 411.5,1972.2 411.5,1972.6 411.7,1972.8 411.7,1973.0 411.7,1972.9 411.8,1972.8 411.9,1972.6 412.0,1972.5 412.1,1972.5 412.2,1972.7 412.2,1972.6 412.3,1972.5 412.4,1972.6 412.5,1972.7 412.5,1972.8 412.6,1972.4 412.7,1972.4 412.7,1972.6 412.8,1972.7 412.9,1972.7 413.0,1972.4 413.1,1972.5 413.2,1972.7 413.2,1972.3 413.3,1972.2 413.3,1972.2 413.4,1972.4 413.5,1972.7 413.6,1972.5 413.7,1972.4 413.7,1972.1 413.9,1972.5 413.9,1972.1 414.0,1972.0 414.1,1972.0 414.1,1972.0 414.2,1971.9 414.2,1972.0 414.4,1972.0 414.4,1972.3 414.5,1972.3 414.6,1972.4 414.7,1972.1 414.8,1972.1 414.9,1972.3 414.9,1971.9 414.9,1971.7 415.0,1971.4 415.1,1971.6 415.2,1971.9 415.3,1971.9 415.4,1971.3 415.4,1971.0 415.5,1970.4 415.6,1970.5 415.7,1969.5 415.7,1969.1 415.8,1968.6 415.9,1967.1 415.9,1967.0 416.0,1966.0 416.1,1965.9 416.2,1966.4 416.3,1967.1 416.4,1968.1 416.4,1968.8 416.5,1969.6 416.5,1969.8 416.6,1970.5 416.7,1971.1 416.8,1971.1 416.9,1971.8 416.9,1971.4 417.1,1971.8 417.1,1972.2 417.2,1972.1 417.3,1972.1 417.3,1972.1 417.4,1972.5 417.6,1972.3 417.8,1972.1 418.0,1972.4 418.1,1972.6 418.1,1972.2 418.3,1972.0 418.5,1972.0 418.6,1971.9 418.8,1972.2 418.9,1972.3 419.0,1972.6 419.1,1972.6 419.3,1972.9 419.5,1972.9 419.6,1972.7 419.7,1972.8 419.8,1972.4 420.0,1972.6 420.1,1972.8 420.3,1972.7 420.5,1972.4 420.5,1972.3 420.6,1972.3 420.8,1972.5 421.0,1972.4 421.2,1972.3 421.3,1972.1 421.3,1972.1 421.5,1972.4 421.7,1972.7 421.8,1972.4 422.0,1972.7 422.1,1972.7 422.2,1972.9 422.3,1972.8 422.5,1972.5 422.7,1972.8 422.8,1972.8 422.9,1972.9 423.7,1973.1 424.5,1972.8 425.3,1972.9 426.1,1972.6 426.9,1972.7 427.7,1972.7 428.5,1972.9 429.3,1972.7 430.1,1972.9 430.9,1972.4 431.7,1972.3 432.5,1972.4 433.3,1972.3 434.2,1972.1 435.0,1972.5 435.8,1972.6 436.6,1972.7 437.4,1972.3 438.2,1972.1 439.0,1972.2 439.8,1972.4 440.6,1972.1 441.4,1972.5 442.2,1972.8 443.0,1972.3 443.8,1972.2 444.6,1972.5 445.3,1972.6 445.4,1972.5 445.5,1972.6 445.6,1972.7 445.8,1972.4 446.0,1972.5 446.1,1972.7 446.2,1972.7 446.3,1972.4 446.5,1972.6 446.7,1972.6 446.8,1972.6 447.0,1972.4 447.2,1972.5 447.3,1972.7 447.5,1972.5 447.7,1972.6 447.8,1972.5 447.8,1972.3 448.0,1972.5 448.2,1972.7 448.3,1972.2 448.5,1972.5 448.6,1972.1 448.7,1971.8 448.8,1971.9 449.0,1972.0 449.2,1971.8 449.3,1971.6 449.4,1971.7 449.5,1972.0 449.7,1971.8 449.9,1971.2 450.0,1971.2 450.2,1971.2 450.2,1971.2 450.4,1970.4 450.5,1969.8 450.7,1969.0 450.9,1967.9 451.0,1966.6 451.0,1966.7 451.2,1964.2 451.4,1959.9 451.5,1952.0 451.7,1936.9 451.8,1923.7 451.9,1912.7 452.0,1897.4 452.2,1912.8 452.4,1936.7 452.6,1951.7 452.6,1955.2 452.7,1960.1 452.9,1964.7 453.1,1966.9 453.2,1968.5 453.4,1969.6 453.4,1969.5 453.6,1969.9 453.7,1970.5 453.9,1970.5 454.1,1970.9 454.2,1971.3 454.2,1971.1 454.4,1971.2 454.6,1971.7 454.7,1972.2 454.9,1972.2 455.0,1972.3 455.1,1972.1 455.2,1972.1 455.4,1972.3 455.6,1972.4 455.8,1972.3 455.8,1972.0 455.9,1972.0 456.1,1972.1 456.3,1972.3 456.4,1972.5 456.6,1972.4 456.6,1972.1 456.8,1972.5 456.9,1972.1 457.1,1972.4 457.3,1972.2 457.4,1972.4 457.4,1972.2 457.6,1972.3 457.8,1972.5 457.9,1972.5 458.1,1972.8 458.2,1972.4 458.3,1972.7 458.4,1972.7 458.6,1972.9 458.8,1972.5 459.0,1972.4 459.8,1972.2 460.6,1972.4 461.4,1972.8 462.2,1972.5 463.0,1972.8 463.8,1972.4 464.6,1972.1 465.4,1972.5 466.2,1972.3 467.0,1972.7 467.9,1972.4 468.7,1972.1 469.5,1972.4 470.3,1972.7 471.1,1972.5 471.9,1972.8 472.7,1972.7 473.5,1972.7 474.3,1972.5 475.1,1972.2 475.9,1972.5 476.7,1972.2 477.5,1972.6 478.3,1972.4 479.1,1972.5 479.9,1972.6 480.7,1972.7 481.5,1972.5 482.3,1972.5 483.1,1972.7 483.9,1972.8 484.7,1972.5 485.5,1972.5 486.3,1972.8 487.1,1972.7 487.9,1972.7 488.7,1972.8 489.4,1972.7 489.5,1972.4 489.6,1972.6 489.7,1972.7 489.9,1972.3 490.1,1972.7 490.2,1972.4 490.3,1972.5 490.4,1972.9 490.6,1972.4 490.7,1972.7 490.9,1972.7 491.1,1972.7 491.1,1972.7 491.2,1972.5 491.4,1972.8 491.6,1972.5 491.8,1972.5 491.9,1972.4 492.1,1972.1 492.3,1972.4 492.4,1972.4 492.6,1972.4 492.7,1972.6 492.8,1972.5 492.9,1972.6 493.1,1972.6 493.3,1972.7 493.4,1972.5 493.5,1972.4 493.6,1972.8 493.8,1972.8 493.9,1972.7 494.1,1972.5 494.3,1972.4 494.3,1972.3 494.4,1972.7 494.6,1972.8 494.8,1972.6 495.0,1972.5 495.1,1972.2 495.1,1972.2 495.3,1972.6 495.5,1972.8 495.6,1972.5 495.8,1972.4 495.9,1972.4 496.0,1972.3 496.1,1972.6 496.3,1972.5 496.5,1972.3 496.6,1972.4 496.7,1972.1 496.8,1972.4 497.0,1972.1 497.1,1972.3 497.3,1972.1 497.5,1972.3 497.5,1972.4 497.7,1972.2 497.8,1972.6 498.0,1972.8 498.2,1972.6 498.3,1972.7 498.3,1972.5 498.5,1972.7 498.7,1972.3 498.8,1972.3 499.0,1972.3 499.1,1972.7 499.2,1972.7 499.3,1972.5 499.5,1972.4 499.7,1972.8 499.8,1972.8 499.9,1972.7 500.0,1972.9 500.2,1972.9 500.3,1972.5 500.5,1972.8 500.7,1972.7 500.7,1972.9 500.9,1972.3 501.0,1972.5 501.2,1972.4 501.4,1972.6 501.5,1972.4 501.6,1972.4 501.7,1972.7 501.9,1972.5 502.0,1972.5 502.2,1972.1 502.4,1972.4 502.4,1972.3 502.5,1972.0 502.7,1972.1 502.9,1972.4 503.0,1972.1 503.2,1971.8 503.2,1972.3 503.4,1971.9 503.5,1971.9 503.7,1971.6 503.9,1971.4 504.0,1971.3 504.1,1971.2 504.2,1971.1 504.4,1971.3 504.6,1971.4 504.7,1971.0 504.8,1971.3 504.9,1970.8 505.1,1970.4 505.2,1970.5 505.4,1970.1 505.6,1969.7 505.6,1969.9 505.7,1969.9 505.9,1969.6 506.1,1969.8 506.2,1969.4 506.4,1969.5 506.4,1969.5 506.6,1969.6 506.7,1969.9 506.9,1970.4 507.1,1970.3 507.2,1970.7 507.3,1971.1 507.4,1971.5 507.6,1971.5 507.8,1971.3 507.9,1971.8 508.0,1971.6 508.1,1971.9 508.3,1972.0 508.4,1972.3 508.6,1972.3 508.8,1972.0 508.9,1971.9 509.1,1971.7 509.3,1971.7 509.4,1972.3 509.6,1972.2 509.6,1972.3 509.8,1972.3 510.0,1972.3 510.1,1972.5 510.3,1972.1 510.4,1972.5 510.5,1972.3 510.6,1972.3 510.8,1972.4 511.0,1972.4 511.1,1972.2 511.2,1972.2 511.3,1972.2 511.5,1972.0 511.6,1972.1 511.8,1972.5 512.0,1972.6 512.0,1972.2 512.1,1972.0 512.3,1972.0 512.5,1972.0 512.6,1972.1 512.8,1972.5 512.8,1972.7 513.0,1972.4 513.2,1972.6 513.3,1972.3 513.5,1972.2 513.6,1972.1 513.7,1972.4 513.8,1972.3 514.0,1972.3 514.2,1972.6 514.3,1972.2 514.4,1972.1 514.5,1972.5 514.7,1972.3 514.8,1972.1 515.0,1972.6 515.2,1972.4 515.2,1972.7 515.3,1972.4 515.5,1972.2 515.7,1972.3 515.8,1972.4 516.0,1972.4 516.0,1972.4 516.2,1972.7 516.4,1972.6 516.5,1972.2 516.7,1972.4 516.8,1972.7 516.9,1972.3 517.0,1972.0 517.2,1972.3 517.4,1972.5 517.5,1972.7 517.6,1972.6 517.7,1972.6 517.9,1972.4 518.0,1972.6 518.2,1972.7 518.4,1972.6 518.4,1972.2 518.5,1972.6 518.7,1972.5 518.9,1972.9 519.0,1972.8 519.2,1972.7 519.2,1972.9 519.4,1973.0 519.6,1972.9 519.7,1972.7 519.9,1972.4 520.0,1972.4 520.1,1972.7 520.2,1972.9 520.4,1973.0 520.6,1972.7 520.7,1972.8 520.8,1972.9 520.9,1972.8 521.1,1972.8 521.2,1972.8 521.4,1972.6 521.6,1972.6 521.6,1972.9 521.7,1972.8 521.9,1972.9 522.1,1972.7 522.3,1972.9 522.4,1972.8 522.4,1972.7 522.6,1972.5 522.8,1972.2 522.9,1972.1 523.1,1972.0 523.2,1972.4 524.0,1972.6 524.8,1972.8 525.6,1973.0 526.4,1973.0 527.2,1973.0 528.0,1973.1 528.8,1972.6 529.6,1972.8 530.4,1972.9 531.2,1972.9 532.0,1972.8 532.8,1972.8 533.6,1973.0 534.4,1972.4 535.2,1972.2 535.7,1972.0 535.9,1972.2 536.1,1972.4 536.1,1972.6 536.2,1972.8 536.4,1972.3 536.6,1972.4 536.7,1972.2 536.9,1972.1 536.9,1972.2 537.1,1972.4 537.2,1972.3 537.4,1972.6 537.6,1972.4 537.7,1972.7 537.8,1972.7 537.9,1972.4 538.1,1972.5 538.3,1972.5 538.4,1972.7 538.5,1972.6 538.6,1972.4 538.8,1972.8 538.9,1972.9 539.1,1972.9 539.3,1972.9 539.3,1972.6 539.4,1972.5 539.6,1972.6 539.8,1972.2 539.9,1972.6 540.1,1972.4 540.1,1972.2 540.3,1972.5 540.4,1972.5 540.6,1972.5 540.8,1972.5 540.9,1972.3 541.0,1971.9 541.1,1972.3 541.3,1972.2 541.5,1971.9 541.6,1971.3 541.7,1971.4 541.8,1971.3 542.0,1970.6 542.1,1969.1 542.3,1966.9 542.5,1965.8 542.6,1967.0 542.8,1969.3 543.0,1970.9 543.1,1971.2 543.3,1971.8 543.3,1971.9 543.5,1971.9 543.6,1972.1 543.8,1972.1 544.0,1972.1 544.1,1972.5 544.2,1972.6 544.3,1972.4 544.5,1972.6 544.7,1972.7 544.8,1972.7 544.9,1972.6 545.0,1972.7 545.2,1972.6 545.3,1972.5 545.5,1972.3 545.7,1972.6 545.7,1972.8 545.8,1972.3 546.0,1972.7 546.2,1972.6 546.3,1972.8 546.5,1972.8 546.5,1972.9 546.7,1972.9 546.9,1972.5 547.0,1972.8 547.2,1972.9 547.3,1972.6 547.4,1972.7 547.5,1972.3 547.7,1972.7 547.9,1972.4 548.0,1972.6 548.1,1972.3 548.2,1972.4 548.4,1972.6 548.5,1972.4 548.7,1972.7 548.9,1972.4 548.9,1972.2 549.0,1972.4 549.2,1972.2 549.7,1972.1 550.5,1972.5 551.3,1972.5 552.1,1972.3 552.9,1972.6 553.7,1972.4 554.5,1972.4 555.3,1972.2 556.1,1972.6 556.9,1972.2 557.7,1972.6 558.5,1972.3 559.3,1972.7 560.1,1972.9 560.9,1972.6 561.7,1972.7 562.5,1972.3 563.3,1972.5 564.1,1972.8 564.9,1972.4 565.7,1972.3 566.5,1972.7 567.3,1972.5 568.1,1972.5 568.9,1972.4 569.8,1972.7 570.6,1972.6 571.4,1972.7 572.2,1972.7 573.0,1972.4 573.8,1972.7 574.6,1972.4 575.4,1972.6 576.2,1972.8 577.0,1973.0 577.8,1972.5 578.6,1972.8 579.4,1972.9 580.2,1973.0 581.0,1972.5 581.8,1972.4 582.6,1972.2 583.4,1972.7 584.2,1972.3 585.0,1972.1 585.8,1971.9 586.6,1972.5 587.4,1972.7 588.2,1972.3 589.0,1972.5 589.8,1972.3 590.6,1972.8 591.4,1972.5 592.2,1972.5 593.0,1972.5 593.8,1972.7 594.6,1972.2 595.4,1972.0 595.5,1972.4 595.7,1972.8 595.9,1972.3 596.1,1972.5 596.2,1972.6 596.2,1972.6 596.4,1972.5 596.6,1972.2 596.7,1972.1 596.9,1972.2 597.0,1972.0 597.1,1972.5 597.2,1972.7 597.4,1972.7 597.6,1972.8 597.7,1972.8 597.8,1972.9 597.9,1972.9 598.1,1972.3 598.2,1972.3 598.4,1972.0 598.6,1971.7 598.6,1971.6 598.7,1971.7 598.9,1971.6 599.1,1971.6 599.3,1971.7 599.4,1971.8 599.4,1972.0 599.6,1971.9 599.8,1972.0 599.9,1971.7 600.1,1971.5 600.2,1970.9 600.3,1970.7 600.4,1970.5 600.6,1970.1 600.8,1969.2 600.9,1968.8 601.0,1967.8 601.1,1967.6 601.3,1965.4 601.4,1962.5 601.6,1957.7 601.8,1948.8 601.8,1943.4 601.9,1933.4 602.1,1911.8 602.3,1899.4 602.5,1911.5 602.6,1932.8 602.6,1935.9 602.8,1948.8 603.0,1957.5 603.1,1962.3 603.3,1965.4 603.4,1967.4 603.5,1967.7 603.6,1968.8 603.8,1969.8 604.0,1970.5 604.1,1971.1 604.3,1971.0 604.3,1970.9 604.5,1971.4 604.6,1971.6 604.8,1971.5 605.0,1971.8 605.1,1972.1 605.2,1972.0 605.3,1971.7 605.5,1971.5 605.7,1971.8 605.8,1971.6 605.9,1971.9 606.0,1971.8 606.2,1972.0 606.3,1972.0 606.5,1971.9 606.7,1971.8 606.7,1971.8 606.8,1971.7 607.0,1972.0 607.2,1972.1 607.3,1972.0 607.5,1972.0 607.5,1972.1 607.7,1972.3 607.8,1972.1 608.0,1972.1 608.2,1972.2 608.3,1971.8 608.4,1971.7 608.5,1971.5 608.7,1971.5 608.9,1971.3 609.0,1971.2 609.1,1970.9 609.2,1971.0 609.4,1970.2 609.5,1968.6 609.7,1965.2 609.9,1962.9 610.0,1964.9 610.2,1968.0 610.4,1969.7 610.5,1970.7 610.7,1971.1 610.7,1971.6 610.9,1971.5 611.0,1971.5 611.2,1971.7 611.4,1971.9 611.5,1972.4 611.6,1972.2 611.7,1972.3 611.9,1971.8 612.1,1971.5 612.2,1971.5 612.3,1971.6 612.4,1971.6 612.6,1971.5 612.7,1970.8 612.9,1969.2 613.1,1965.9 613.1,1965.9 613.2,1964.0 613.4,1965.9 613.6,1968.9 613.7,1970.2 613.9,1971.3 613.9,1971.6 614.1,1972.1 614.2,1972.2 614.4,1972.6 614.6,1972.5 614.7,1972.1 614.8,1972.1 614.9,1972.3 615.1,1972.4 615.3,1972.2 615.4,1972.1 615.5,1971.9 615.6,1972.1 615.8,1972.2 615.9,1972.6 616.1,1972.7 616.3,1972.7 616.3,1972.5 616.4,1972.8 616.6,1972.4 616.8,1972.4 616.9,1972.4 617.1,1972.6 617.1,1972.8 617.3,1972.5 617.5,1972.4 617.6,1972.4 617.8,1972.2 617.9,1972.6 618.0,1972.7 618.1,1972.5 618.3,1972.3 618.5,1972.1 618.6,1972.4 618.7,1972.1 618.8,1972.4 619.0,1972.5 619.1,1972.2 619.3,1972.5 619.5,1972.3 619.5,1972.4 619.6,1972.7 619.8,1973.0 620.0,1972.9 620.3,1972.5 621.1,1972.4 621.9,1972.4 622.7,1972.8 623.5,1972.3 624.3,1972.7 625.1,1972.5 625.9,1972.2 626.7,1972.2 627.5,1972.7 628.3,1972.5 629.1,1972.7 629.9,1972.9 630.7,1972.7 631.5,1972.7 632.3,1972.5 633.1,1972.7 633.9,1972.3 634.7,1972.6 635.5,1972.5 636.3,1972.7 637.1,1972.6 638.0,1972.7 638.8,1972.4 639.6,1972.4 640.4,1972.7 641.2,1973.0 642.0,1973.0 642.8,1972.6 643.6,1972.9 644.4,1972.8 645.2,1972.5 646.0,1972.7 646.8,1972.3 647.6,1972.4 648.4,1972.5 649.2,1972.9 650.0,1972.5 650.8,1972.8 651.6,1972.6 652.4,1972.3 653.2,1972.7 654.0,1972.7 654.8,1972.5 655.6,1972.2 656.4,1972.6 657.2,1972.7 658.0,1972.4 658.8,1972.2 659.6,1972.6 660.4,1972.3 661.2,1972.1 662.0,1972.0 662.8,1971.9 663.6,1971.8 664.4,1972.0 665.2,1972.0 666.0,1972.2 666.8,1972.2 667.6,1972.4 668.4,1972.2 669.2,1972.6 670.0,1972.2 670.8,1972.1 671.6,1972.4 672.5,1972.3 673.3,1972.2 674.1,1972.3 674.9,1972.8 675.7,1972.6 676.5,1972.2 677.3,1972.6 678.1,1972.2 678.9,1972.5 679.7,1972.7 680.5,1972.7 681.3,1972.7 682.1,1972.9 682.9,1972.8 683.7,1972.5 684.5,1972.2 685.3,1972.6 686.1,1972.4 686.9,1972.4 687.7,1972.3 688.5,1972.4 689.3,1972.3 690.1,1972.1 690.9,1972.6 690.9,1972.9 691.1,1973.0 691.3,1973.0 691.4,1972.8 691.6,1972.5 691.7,1972.8 691.8,1972.9 691.9,1972.6 692.1,1972.6 692.3,1972.7 692.4,1972.7 692.5,1972.7 692.6,1972.6 692.8,1972.2 692.9,1972.3 693.1,1972.3 693.3,1972.7 693.3,1972.7 693.4,1972.5 693.6,1972.8 693.8,1972.7 693.9,1972.5 694.1,1972.6 694.3,1972.7 694.5,1972.8 694.6,1972.5 694.8,1972.3 694.9,1972.6 695.0,1972.8 695.1,1972.4 695.3,1972.4 695.5,1972.6 695.6,1972.7 695.7,1972.5 695.8,1972.7 696.0,1972.6 696.1,1972.8 696.3,1972.6 696.5,1972.2 696.5,1972.4 696.6,1972.3 696.8,1972.5 697.0,1972.6 697.1,1972.8 697.3,1972.6 697.3,1972.4 697.5,1972.1 697.7,1972.5 697.8,1972.3 698.0,1972.4 698.1,1972.3 698.2,1972.3 698.3,1972.1 698.5,1971.9 698.7,1972.2 698.8,1972.4 698.9,1972.0 699.0,1972.3 699.2,1972.5 699.3,1972.6 699.5,1972.4 699.7,1972.2 699.7,1972.3 699.8,1972.5 700.0,1972.5 700.2,1972.4 700.4,1972.3 700.5,1971.8 700.5,1971.5 700.7,1971.4 700.9,1971.1 701.0,1970.7 701.2,1970.7 701.3,1970.6 701.4,1970.6 701.5,1970.1 701.7,1969.3 701.9,1968.6 702.0,1968.3 702.1,1968.1 702.2,1967.9 702.4,1967.0 702.5,1966.5 702.7,1966.4 702.9,1967.0 702.9,1967.2 703.0,1967.7 703.2,1968.4 703.4,1969.1 703.6,1969.5 703.7,1970.0 703.7,1970.0 703.9,1970.6 704.1,1971.3 704.2,1971.3 704.4,1971.4 704.5,1971.9 704.6,1971.7 704.7,1971.8 704.9,1972.2 705.1,1972.2 705.2,1972.0 705.3,1972.4 705.4,1972.2 705.6,1972.3 705.7,1972.1 705.9,1971.9 706.1,1971.8 706.2,1972.2 706.2,1972.3 706.4,1972.0 706.6,1972.3 706.8,1972.1 706.9,1972.0 707.0,1972.0 707.1,1972.3 707.3,1972.5 707.4,1972.1 707.6,1972.0 707.8,1971.9 707.8,1972.4 707.9,1972.7 708.1,1972.3 708.3,1972.2 708.4,1972.3 708.6,1972.1 708.6,1971.9 708.8,1972.1 708.9,1972.0 709.1,1972.3 709.3,1972.5 709.4,1972.4 709.4,1972.6 709.6,1972.5 709.8,1972.5 710.0,1972.4 710.1,1972.3 710.2,1972.1 710.3,1972.1 710.5,1972.2 710.6,1972.2 710.8,1972.7 711.0,1972.6 711.1,1972.4 711.3,1972.7 711.5,1972.7 711.6,1972.4 711.8,1972.3 711.8,1972.3 712.0,1972.6 712.1,1972.5 712.3,1972.7 712.5,1972.6 712.6,1972.2 712.7,1972.2 712.8,1972.2 713.0,1972.5 713.2,1972.6 713.3,1972.6 713.4,1972.9 713.5,1972.7 713.7,1972.8 713.8,1972.6 714.0,1972.7 714.2,1972.3 714.2,1972.5 715.0,1972.8 715.8,1972.6 716.6,1972.7 717.4,1972.8 718.2,1972.4 719.0,1972.2 719.8,1972.5 720.6,1972.6 721.4,1972.6 722.2,1972.5 723.0,1972.5 723.8,1972.6 724.6,1972.3 725.4,1972.6 726.2,1972.3 727.0,1972.6 727.8,1972.5 728.6,1972.4 729.4,1972.6 730.2,1972.4 731.0,1972.2 731.8,1972.2 732.6,1972.0 733.4,1972.2 734.2,1972.2 735.0,1972.5 735.8,1972.8 736.6,1972.9 737.4,1973.0 738.2,1972.5 739.0,1972.8 739.9,1972.9 740.7,1972.5 741.5,1972.8 742.3,1972.9 743.1,1972.4 743.9,1972.7 744.7,1972.7 745.2,1972.8 745.4,1972.4 745.5,1972.7 745.6,1972.6 745.7,1972.3 745.9,1972.4 746.1,1972.3 746.2,1972.4 746.3,1972.3 746.4,1972.6 746.6,1972.2 746.7,1972.5 746.9,1972.3 747.1,1972.2 747.1,1972.1 747.2,1972.3 747.4,1972.2 747.6,1972.4 747.8,1972.8 747.9,1972.9 747.9,1973.1 748.1,1972.5 748.3,1972.7 748.4,1972.6 748.6,1972.3 748.7,1972.5 748.8,1972.5 748.9,1972.5 749.1,1972.5 749.3,1972.2 749.4,1972.1 749.5,1972.0 749.6,1972.6 749.8,1972.8 749.9,1972.7 750.1,1972.6 750.3,1972.7 750.4,1972.6 750.6,1972.3 750.8,1972.8 751.0,1972.3 751.1,1972.2 751.1,1972.6 751.3,1972.3 751.5,1972.3 751.6,1972.2 751.8,1972.0 751.9,1972.1 752.0,1972.5 752.1,1972.4 752.3,1972.2 752.5,1972.6 752.6,1972.3 752.7,1972.3 752.8,1972.3 753.0,1972.1 753.1,1972.6 753.3,1972.3 753.5,1972.2 753.5,1972.7 753.7,1972.4 753.8,1972.7 754.0,1972.9 754.2,1972.6 754.3,1972.2 754.3,1972.4 754.5,1972.2 754.7,1972.4 754.8,1972.4 755.0,1972.3 755.1,1972.1 755.2,1972.3 755.3,1972.7 755.5,1973.0 755.7,1972.7 755.8,1972.6 755.9,1972.4 756.0,1972.5 756.2,1972.2 756.3,1972.0 756.5,1972.1 756.7,1972.5 756.7,1972.3 756.9,1972.1 757.0,1972.2 757.2,1972.5 757.4,1972.7 757.5,1972.8 757.5,1972.5 757.7,1972.1 757.9,1972.5 758.0,1972.7 758.2,1972.9 758.3,1972.8 758.4,1972.6 758.5,1972.7 758.7,1972.2 758.9,1972.5 759.0,1972.4 759.1,1972.7 759.2,1972.5 759.4,1972.4 759.5,1972.3 759.7,1971.9 759.9,1971.8 759.9,1972.1 760.1,1971.7 760.2,1971.7 760.4,1971.9 760.6,1971.4 760.7,1971.3 760.7,1971.2 760.9,1971.2 761.1,1970.9 761.2,1970.8 761.4,1971.0 761.5,1970.5 761.6,1970.8 761.7,1970.4 761.9,1970.2 762.1,1969.9 762.2,1970.3 762.3,1970.4 762.4,1970.6 762.6,1970.8 762.7,1970.6 762.9,1970.6 763.1,1970.7 763.1,1971.2 763.3,1971.6 763.4,1971.9 763.6,1971.7 763.8,1971.6 763.9,1971.9 763.9,1971.7 764.1,1972.1 764.3,1971.8 764.4,1972.0 764.6,1972.4 764.7,1972.6 764.8,1972.0 764.9,1972.3 765.1,1972.6 765.3,1972.8 765.4,1972.4 765.5,1972.6 765.6,1972.2 765.8,1972.4 766.0,1972.4 766.1,1972.5 766.3,1972.8 766.3,1972.6 766.5,1972.5 766.6,1972.8 766.8,1972.7 767.0,1972.8 767.1,1972.6 767.3,1972.9 767.5,1972.5 767.6,1972.8 767.8,1972.7 767.9,1972.6 768.0,1972.2 768.1,1972.6 768.3,1972.3 768.5,1972.3 768.6,1972.7 768.7,1972.8 768.8,1972.5 769.0,1972.8 769.2,1972.7 769.3,1972.9 769.5,1972.6 769.5,1972.4 769.7,1972.2 769.8,1972.4 770.0,1972.3 770.2,1972.6 770.3,1972.5 770.3,1972.2 770.5,1972.6 770.7,1972.4 770.8,1972.5 771.0,1972.4 771.1,1972.3 771.2,1972.2 771.3,1972.0 771.5,1972.4 771.7,1972.5 771.8,1972.5 771.9,1972.7 772.0,1972.7 772.2,1972.3 772.4,1972.4 772.5,1972.1 772.7,1972.3 772.7,1972.1 772.9,1972.1 773.0,1972.1 773.2,1972.5 773.4,1972.3 773.5,1972.5 773.5,1972.3 773.7,1972.8 773.9,1972.4 774.0,1972.4 774.2,1972.4 774.4,1972.2 774.4,1972.4 774.5,1972.5 774.7,1972.7 774.9,1972.3 775.0,1972.7 775.2,1972.4 775.2,1972.5 775.4,1972.6 775.6,1972.3 775.7,1972.2 775.9,1972.0 776.0,1972.1 776.1,1972.1 776.2,1972.4 776.4,1972.1 776.6,1972.4 776.7,1972.5 776.8,1972.8 776.9,1972.6 777.1,1972.6 777.2,1972.7 777.4,1972.8 777.6,1972.5 777.6,1972.5 777.7,1972.7 777.9,1972.6 778.1,1972.3 778.3,1972.3 778.4,1972.6 778.4,1972.4 778.6,1972.5 778.8,1972.3 778.9,1972.3 779.2,1972.1 780.0,1972.1 780.8,1972.0 781.6,1972.3 782.4,1972.3 783.2,1972.6 784.0,1972.3 784.8,1972.6 785.6,1972.8 786.4,1972.9 787.2,1973.1 788.0,1972.9 788.8,1972.9 789.6,1972.5 790.4,1972.4 791.2,1972.1 792.0,1972.4 792.8,1972.5 793.6,1972.4 794.4,1972.4 795.2,1972.5 796.0,1972.2 796.8,1972.4 797.6,1972.8 798.4,1972.4 799.2,1972.2 800.0,1972.5 800.8,1972.2 801.6,1972.2 802.4,1972.0 803.2,1972.1 804.0,1972.1 804.8,1972.2 805.6,1972.7 806.4,1972.9 807.2,1972.5 808.1,1972.6 808.9,1972.6 809.7,1972.4 810.5,1972.6 811.3,1972.7 812.1,1972.4 812.9,1972.4 813.7,1972.7 814.5,1972.9 815.3,1972.5 816.1,1972.7 816.9,1972.8 817.7,1972.5 818.5,1972.6 819.3,1972.8 820.1,1972.7 820.9,1973.0 821.7,1972.6 822.5,1972.8 823.3,1972.9 824.1,1972.7 824.9,1972.4 825.7,1972.7 826.5,1972.6 827.3,1972.4 828.1,1972.2 828.9,1972.1 829.7,1972.0 830.5,1972.4 831.3,1972.6 832.1,1972.4 832.9,1972.1 833.7,1972.3 834.5,1972.3 835.3,1972.6 836.1,1972.9 836.9,1972.4 837.7,1972.5 838.5,1972.6 839.3,1972.9 840.1,1972.7 840.9,1972.3 841.7,1972.8 842.6,1972.7 843.4,1972.9 844.2,1972.8 845.0,1972.5 845.8,1972.2 846.6,1972.0 847.4,1972.6 848.2,1972.6 849.0,1972.8 849.8,1972.4 850.6,1972.2 851.4,1972.4 852.2,1972.1 853.0,1972.3 853.8,1972.1 854.6,1972.6 855.4,1972.5 856.2,1972.9 857.0,1972.9 857.8,1972.9 858.6,1972.6 859.4,1972.9 860.2,1972.7 861.0,1972.5 861.8,1972.8 862.6,1972.4 863.4,1972.5 864.2,1972.6 865.0,1972.6 865.8,1972.7 866.6,1972.5 867.4,1972.7 868.2,1972.6 869.0,1972.9 869.8,1972.7 870.6,1973.0 871.4,1972.5 872.2,1972.6 873.0,1972.3 873.8,1972.4 874.6,1972.2 875.4,1972.2 876.3,1972.2 877.1,1972.6 877.9,1972.6 878.7,1972.4 879.5,1972.4 880.3,1972.2 881.1,1972.1 881.9,1972.0 882.7,1972.4 883.5,1972.3 884.3,1972.6 885.1,1972.2 885.9,1972.6 886.7,1972.9 887.5,1972.8 888.3,1972.8 889.1,1973.0 889.9,1973.1 890.7,1972.9 891.5,1972.7 892.3,1972.4 893.1,1972.4 893.9,1972.4 894.7,1972.6 895.5,1972.6 896.3,1972.2 897.1,1972.5 897.9,1972.8 898.7,1972.5 899.5,1972.8 900.3,1972.9 901.1,1973.1 901.9,1973.2 902.7,1972.9 903.5,1973.1 904.3,1973.1 905.1,1972.6 905.9,1972.9 906.7,1972.9 907.5,1972.4 908.3,1972.5 909.1,1972.2 910.0,1972.3 910.8,1972.1 911.6,1972.2 912.4,1972.5 913.2,1972.2 914.0,1972.2 914.8,1972.5 915.6,1972.2 916.4,1972.7 917.2,1972.4 918.0,1972.2 918.8,1972.4 919.6,1972.4 920.4,1972.2 921.2,1972.4 922.0,1972.4 922.8,1972.6 923.6,1972.6 924.4,1972.5 925.2,1972.8 926.0,1972.6 926.8,1972.8 927.6,1972.7 928.4,1972.5 929.2,1972.2 930.0,1972.5 930.8,1972.6 931.6,1972.5 932.4,1972.7 933.2,1972.8 934.0,1972.4 934.8,1972.1 935.6,1972.2 936.4,1972.2 937.2,1972.5 938.0,1972.8 938.8,1972.7 939.6,1972.6 940.4,1972.6 941.2,1972.8 942.0,1972.6 942.8,1972.5 943.6,1972.4 944.5,1972.7 945.3,1973.0 946.1,1973.1 946.9,1972.8 947.7,1972.3 948.5,1972.3 949.3,1972.4 950.1,1972.4 950.9,1972.6 951.7,1972.8 952.5,1972.6 953.3,1972.3 954.1,1972.7 954.9,1972.4 955.7,1972.6 956.5,1972.9 957.3,1972.8 958.1,1972.8 958.9,1972.9 959.7,1972.5 960.5,1972.2 961.3,1972.5 962.1,1972.5 962.9,1972.2 963.7,1972.0 964.5,1972.2 965.3,1972.4 966.1,1972.3 966.9,1972.1 967.7,1972.4 968.5,1972.7 969.3,1972.7 970.1,1972.9 970.9,1972.8 971.7,1972.4 972.5,1972.5 973.3,1972.5 974.1,1972.6 974.9,1972.9 975.7,1972.7 976.5,1972.8 977.3,1972.4 978.2,1972.4 979.0,1972.4 979.8,1972.1 980.6,1972.5 981.4,1972.5 981.4,1972.6 981.6,1972.4 981.7,1972.3 981.9,1972.1 982.1,1972.5 982.2,1972.5 982.2,1972.4 982.4,1972.1 982.6,1971.9 982.7,1972.4 982.9,1972.4 983.0,1972.2 983.1,1972.2 983.3,1972.3 983.4,1972.5 983.6,1972.3 983.8,1971.9 983.8,1971.8 983.9,1971.7 984.1,1972.1 984.3,1972.4 984.4,1972.0 984.6,1972.4 984.6,1972.0 984.8,1972.3 984.9,1971.8 985.1,1972.0 985.3,1972.2 985.4,1971.9 985.4,1972.0 985.6,1971.7 985.8,1971.9 985.9,1971.9 986.1,1971.3 986.2,1970.9 986.3,1971.0 986.5,1970.5 986.6,1969.7 986.8,1969.0 987.0,1968.0 987.0,1968.1 987.1,1966.6 987.3,1964.8 987.5,1961.0 987.6,1955.4 987.8,1948.3 987.8,1946.9 988.0,1936.4 988.1,1931.2 988.3,1936.1 988.5,1946.5 988.6,1952.3 988.6,1955.7 988.8,1961.1 989.0,1964.4 989.2,1967.0 989.3,1968.4 989.4,1968.7 989.5,1969.4 989.7,1969.8 989.8,1970.3 990.0,1970.9 990.2,1971.0 990.2,1971.1 990.3,1971.1 990.5,1971.7 990.7,1971.5 990.8,1971.9 991.0,1972.1 991.0,1972.0 991.2,1972.2 991.3,1971.9 991.5,1971.8 991.7,1971.8 991.8,1972.1 991.8,1971.9 992.0,1971.9 992.2,1971.9 992.4,1972.1 992.5,1972.3 992.6,1972.3 992.7,1972.3 992.9,1972.1 993.0,1972.3 993.2,1972.5 993.4,1972.1 993.4,1972.4 993.5,1972.2 993.7,1972.6 993.9,1972.7 994.0,1972.8 994.2,1972.7 994.2,1972.7 994.4,1972.3 994.5,1972.3 994.7,1972.5 994.9,1972.5 995.0,1972.8 995.8,1972.9 996.6,1972.5 997.4,1972.1 998.2,1972.6 999.0,1972.3 999.8,1972.2 1000.6,1972.3 1001.4,1972.2 1002.2,1972.5 1003.0,1972.4 1003.8,1972.4 1004.6,1972.1 1005.4,1972.2 1006.2,1972.3 1007.0,1972.4 1007.8,1972.6 1008.6,1972.2 1009.4,1972.5 1010.2,1972.2 1011.0,1972.1 1011.8,1972.4 1012.7,1972.2 1013.5,1972.6 1014.3,1972.2 1015.1,1972.6 1015.9,1972.4 1016.7,1972.4 1017.5,1972.5 1018.3,1972.9 1019.1,1972.4 1019.9,1972.4 1020.7,1972.4 1021.5,1972.2 1022.3,1972.4 1023.1,1972.4 1023.9,1972.4 1024.7,1972.3 1025.5,1972.5 1026.3,1972.4 1027.1,1972.2 1027.9,1972.1 1028.7,1972.3 1029.5,1972.5 1030.3,1972.8 1031.1,1972.7 1031.9,1972.3 1032.7,1972.7 1033.5,1972.6 1034.3,1972.3 1035.1,1972.2 1035.9,1972.4 1035.9,1972.5 1036.0,1972.5 1036.2,1972.5 1036.4,1972.8 1036.6,1972.6 1036.7,1972.6 1036.9,1972.4 1037.1,1972.6 1037.2,1972.5 1037.4,1972.3 1037.5,1972.4 1037.6,1972.4 1037.7,1972.5 1037.9,1972.3 1038.1,1972.1 1038.2,1972.1 1038.3,1972.2 1038.4,1972.2 1038.6,1972.4 1038.7,1972.1 1038.9,1972.1 1039.1,1972.5 1039.1,1972.4 1039.2,1972.6 1039.4,1972.3 1039.6,1972.1 1039.8,1972.3 1039.9,1972.2 1039.9,1972.1 1040.1,1972.6 1040.3,1972.5 1040.4,1972.5 1040.6,1972.8 1040.7,1972.9 1040.8,1972.4 1040.9,1972.2 1041.1,1972.5 1041.3,1972.3 1041.4,1972.1 1041.5,1972.2 1041.6,1972.2 1041.8,1971.4 1041.9,1970.6 1042.1,1969.2 1042.3,1966.6 1042.3,1964.9 1042.5,1961.7 1042.6,1958.5 1042.8,1961.9 1043.0,1966.5 1043.1,1968.8 1043.1,1969.3 1043.3,1970.7 1043.5,1971.6 1043.6,1972.0 1043.8,1972.4 1043.9,1972.0 1044.0,1972.3 1044.1,1972.4 1044.3,1972.1 1044.5,1972.5 1044.6,1972.5 1044.7,1972.7 1044.8,1972.8 1045.0,1972.2 1045.1,1972.0 1045.3,1972.0 1045.5,1972.5 1045.5,1972.8 1045.7,1972.8 1045.8,1972.5 1046.0,1972.5 1046.2,1972.7 1046.3,1972.8 1046.4,1972.3 1046.5,1972.4 1046.6,1972.3 1046.7,1972.1 1046.7,1972.0 1046.8,1972.1 1046.9,1972.6 1047.0,1972.2 1047.1,1972.3 1047.2,1972.7 1047.2,1972.3 1047.2,1972.6 1047.3,1972.2 1047.4,1972.2 1047.5,1972.2 1047.6,1972.3 1047.7,1972.4 1047.7,1972.8 1047.8,1972.3 1047.9,1972.6 1048.0,1972.5 1048.0,1972.4 1048.1,1972.7 1048.2,1972.7 1048.2,1972.7 1048.3,1972.8 1048.4,1972.5 1048.5,1972.6 1048.6,1972.2 1048.7,1972.4 1048.7,1972.7 1048.8,1972.5 1048.9,1972.5 1048.9,1972.7 1049.0,1972.7 1049.1,1972.6 1049.2,1972.7 1049.2,1972.6 1049.4,1972.7 1049.4,1972.2 1049.6,1972.6 1049.6,1972.8 1049.8,1972.3 1049.9,1972.1 1050.1,1972.4 1050.3,1972.6 1050.4,1972.3 1050.4,1972.6 1050.6,1972.7 1050.8,1972.8 1050.9,1972.5 1051.1,1972.5 1051.2,1972.2 1051.3,1972.4 1051.4,1971.9 1051.6,1971.6 1051.8,1971.5 1051.9,1971.4 1052.0,1971.3 1052.1,1971.0 1052.3,1970.0 1052.4,1969.4 1052.6,1967.7 1052.8,1965.3 1052.8,1965.0 1053.0,1961.3 1053.1,1955.9 1053.3,1953.0 1053.5,1956.0 1053.6,1959.2 1053.6,1960.7 1053.8,1965.2 1054.0,1967.9 1054.1,1969.1 1054.3,1970.0 1054.4,1970.4 1054.5,1970.6 1054.6,1971.4 1054.8,1971.9 1055.0,1971.6 1055.1,1971.5 1055.2,1971.4 1055.3,1971.8 1055.5,1971.9 1055.7,1971.8 1055.8,1971.9 1056.0,1972.1 1056.0,1972.2 1056.2,1972.2 1056.3,1972.6 1056.5,1972.6 1056.7,1972.2 1056.8,1972.6 1056.8,1972.2 1057.0,1972.5 1057.2,1972.1 1057.3,1972.6 1057.5,1972.6 1057.6,1972.8 1057.7,1972.4 1057.8,1972.5 1058.0,1972.2 1058.2,1972.3 1058.3,1972.1 1058.4,1972.0 1058.5,1972.3 1058.7,1972.3 1058.9,1972.4 1059.0,1972.2 1059.2,1972.5 1059.4,1972.7 1059.5,1972.4 1059.7,1972.8 1059.9,1972.5 1060.0,1972.6 1060.0,1972.5 1060.8,1972.5 1061.6,1972.2 1062.4,1972.0 1063.2,1972.4 1064.0,1972.3 1064.8,1972.5 1065.6,1972.1 1066.4,1972.6 1067.2,1972.3 1068.0,1972.2 1068.8,1972.4 1069.6,1972.8 1070.4,1972.9 1071.2,1972.5 1072.0,1972.8 1072.8,1972.3 1073.6,1972.2 1074.4,1972.4 1075.2,1972.7 1076.0,1973.0 1076.8,1972.8 1077.6,1972.4 1078.4,1972.8 1079.2,1972.7 1080.0,1972.5 1080.9,1972.3 1081.7,1972.4 1082.5,1972.6 1083.3,1972.6 1084.1,1972.9 1084.9,1972.8 1085.7,1972.9 1086.5,1973.0 1087.3,1972.7 1088.1,1972.8 1088.9,1972.5 1089.7,1972.4 1090.5,1972.1 1091.3,1972.1 1092.1,1972.0 1092.9,1972.3 1093.7,1972.4 1094.5,1972.7 1095.3,1972.4 1096.1,1972.5 1096.5,1972.8 1096.7,1972.4 1096.9,1972.4 1096.9,1972.2 1097.0,1972.7 1097.2,1972.8 1097.4,1972.8 1097.5,1972.9 1097.7,1972.5 1097.7,1972.3 1097.9,1972.6 1098.1,1972.8 1098.2,1972.7 1098.4,1973.0 1098.5,1972.8 1098.6,1973.0 1098.7,1972.4 1098.9,1972.6 1099.1,1972.4 1099.2,1972.2 1099.3,1972.2 1099.4,1972.1 1099.6,1971.9 1099.7,1972.4 1099.9,1972.8 1100.1,1972.4 1100.1,1972.6 1100.2,1972.6 1100.4,1972.5 1100.6,1972.4 1100.8,1972.2 1100.9,1972.1 1100.9,1972.5 1101.1,1972.7 1101.3,1972.8 1101.4,1972.4 1101.6,1972.1 1101.7,1972.4 1101.8,1972.8 1101.9,1972.6 1102.1,1972.4 1102.3,1972.6 1102.4,1972.5 1102.5,1972.2 1102.6,1972.3 1102.8,1972.4 1102.9,1972.7 1103.1,1972.8 1103.3,1973.0 1103.3,1972.9 1103.4,1972.4 1103.6,1972.3 1103.8,1972.5 1104.0,1972.2 1104.1,1972.4 1104.3,1972.3 1104.5,1972.6 1104.6,1972.5 1104.8,1972.8 1104.9,1973.0 1105.0,1972.7 1105.1,1972.5 1105.3,1972.4 1105.5,1972.5 1105.6,1972.4 1105.7,1972.4 1105.8,1972.2 1106.0,1972.2 1106.1,1972.3 1106.3,1972.5 1106.5,1972.7 1106.5,1972.6 1106.6,1972.4 1106.8,1972.4 1107.0,1972.6 1107.2,1972.5 1107.3,1972.7 1107.3,1972.4 1107.5,1972.4 1107.7,1972.2 1107.8,1972.5 1108.0,1972.1 1108.1,1972.4 1108.2,1972.4 1108.3,1972.1 1108.5,1972.3 1108.7,1972.0 1108.8,1972.1 1108.9,1971.9 1109.0,1972.1 1109.2,1972.3 1109.3,1972.4 1109.5,1972.3 1109.7,1972.2 1109.7,1972.5 1109.8,1972.6 1110.0,1972.1 1110.2,1972.0 1110.4,1972.4 1110.5,1972.4 1110.5,1972.3 1110.7,1971.9 1110.9,1971.8 1111.0,1972.1 1111.2,1971.6 1111.3,1971.5 1111.4,1971.6 1111.5,1971.4 1111.7,1971.6 1111.9,1971.1 1112.0,1971.0 1112.1,1970.8 1112.2,1970.7 1112.4,1970.4 1112.5,1970.0 1112.7,1969.8 1112.9,1970.1 1112.9,1969.7 1113.1,1969.7 1113.2,1969.5 1113.4,1969.3 1113.6,1969.4 1113.7,1969.3 1113.7,1969.3 1113.9,1970.0 1114.1,1970.4 1114.2,1970.7 1114.4,1971.0 1114.6,1971.0 1114.6,1970.9 1114.7,1971.0 1114.9,1971.1 1115.1,1971.1 1115.2,1971.6 1115.4,1972.1 1115.4,1972.1 1115.6,1972.1 1115.7,1972.1 1115.9,1971.9 1116.1,1972.1 1116.2,1971.9 1116.3,1972.1 1116.4,1972.0 1116.6,1972.0 1116.8,1971.9 1116.9,1971.9 1117.0,1972.3 1117.1,1972.1 1117.3,1972.0 1117.4,1972.3 1117.6,1972.3 1117.8,1972.6 1117.8,1972.3 1117.9,1972.3 1118.1,1972.1 1118.3,1972.5 1118.4,1972.5 1118.6,1972.2 1118.6,1972.0 1118.8,1972.5 1118.9,1972.1 1119.1,1972.2 1119.3,1972.5 1119.4,1972.8 1119.5,1972.5 1119.6,1972.6 1119.8,1972.5 1120.0,1972.4 1120.1,1972.1 1120.2,1972.3 1120.3,1972.2 1120.5,1972.5 1120.6,1972.6 1120.8,1972.6 1121.0,1972.2 1121.1,1972.3 1121.3,1972.3 1121.5,1972.4 1121.6,1972.3 1121.8,1972.4 1121.8,1972.2 1122.0,1972.3 1122.1,1972.7 1122.3,1972.4 1122.5,1972.6 1122.6,1972.9 1122.7,1972.6 1122.8,1972.5 1123.0,1972.7 1123.2,1972.8 1123.3,1972.7 1123.4,1972.3 1123.5,1972.6 1123.7,1972.2 1123.8,1972.1 1124.0,1972.2 1124.2,1972.6 1124.2,1972.6 1124.3,1972.8 1124.5,1972.5 1124.7,1972.7 1124.8,1972.5 1125.0,1972.3 1125.0,1972.5 1125.2,1972.6 1125.4,1972.3 1125.5,1972.7 1125.7,1972.5 1125.8,1972.4 1125.9,1972.8 1126.0,1972.5 1126.2,1972.6 1126.4,1972.7 1126.5,1972.3 1126.6,1972.2 1126.7,1972.5 1126.9,1972.2 1127.0,1972.5 1127.2,1972.3 1127.4,1972.1 1127.4,1972.3 1127.5,1972.7 1127.7,1972.8 1127.9,1972.6 1128.0,1972.9 1128.2,1972.8 1128.2,1972.7 1128.4,1972.3 1128.6,1972.8 1128.7,1972.9 1128.9,1972.9 1129.0,1972.5 1129.1,1972.6 1129.2,1972.4 1129.4,1972.2 1129.6,1972.1 1129.7,1972.4 1129.8,1972.7 1129.9,1972.3 1130.1,1972.4 1130.2,1972.3 1130.6,1972.1 1131.4,1972.4 1132.2,1972.6 1133.0,1972.4 1133.8,1972.6 1134.6,1972.5 1135.4,1972.3 1136.2,1972.5 1137.0,1972.6 1137.8,1972.9 1138.6,1972.8 1139.4,1972.9 1140.2,1972.5 1141.0,1972.5 1141.8,1972.3 1142.6,1972.3 1143.4,1972.4 1144.2,1972.3 1145.0,1972.1 1145.8,1972.6 1146.6,1972.3 1147.4,1972.1 1148.2,1971.9 1149.1,1972.5 1149.9,1972.4 1150.7,1972.7 1151.5,1972.7 1152.3,1972.7 1153.1,1972.7 1153.9,1972.4 1154.7,1972.5 1155.5,1972.7 1156.3,1972.8 1157.1,1972.6 1157.9,1972.4 1158.7,1972.8 1159.5,1972.5 1160.3,1972.8 1161.1,1972.7 1161.9,1972.4 1162.7,1972.5 1163.5,1972.3 1164.3,1972.5 1165.1,1972.8 1165.9,1972.4 1166.7,1972.8 1167.5,1972.4 1168.3,1972.6 1169.1,1972.4 1169.9,1972.5 1170.7,1972.7 1171.5,1972.9 1172.3,1972.9 1173.1,1972.6 1173.9,1972.5 1174.7,1972.3 1175.5,1972.3 1176.3,1972.1 1177.1,1972.3 1177.9,1972.2 1178.7,1972.6 1179.5,1972.9 1180.3,1973.0 1181.1,1973.1 1181.9,1972.7 1182.8,1972.6 1183.6,1972.2 1184.4,1972.7 1185.2,1972.5 1186.0,1972.7 1186.8,1973.0 1187.6,1972.4 1188.4,1972.8 1189.2,1972.6 1190.0,1972.5 1190.8,1972.6 1191.6,1972.7 1192.4,1972.7 1193.2,1972.4 1194.0,1972.5 1194.8,1972.4 1195.6,1972.6 1196.4,1972.3 1197.2,1972.4 1198.0,1972.5 1198.8,1972.5 1199.6,1972.7 1200.4,1972.9 1201.2,1972.7 1202.0,1972.4 1202.8,1972.4 1203.6,1972.1 1204.4,1972.0 1205.2,1972.3 1206.0,1972.4 1206.8,1972.3 1207.6,1972.1 1208.4,1972.3 1209.2,1972.2 1210.0,1972.5 1210.8,1972.6 1211.6,1972.4 1212.4,1972.4 1213.2,1972.1 1214.0,1972.2 1214.8,1972.3 1215.6,1972.6 1216.5,1972.4 1217.3,1972.2 1218.1,1972.4 1218.9,1972.5 1219.7,1972.4 1220.5,1972.5 1221.3,1972.7 1222.1,1972.6 1222.9,1972.6 1223.7,1972.5 1224.5,1972.7 1225.3,1972.6 1226.1,1972.6 1226.9,1972.4 1227.7,1972.6 1228.5,1972.4 1229.3,1972.5 1230.1,1972.6 1230.9,1972.9 1231.7,1972.7 1232.5,1972.9 1233.3,1973.0"/>
<text class="t" text-anchor="middle" x="687.8" y="50.7">LiF pellet</text>
<text class="p" font-size="42" text-anchor="middle" x="1201.7" y="85.500">(A)</text>
<text class="t" text-anchor="middle" transform="translate(581.8,262.8) rotate(-90)">He I 587.6 nm (T)</text>
<text class="t" text-anchor="middle" transform="translate(719.2,176.4) rotate(-90)">Li I 610.3 nm</text>
<text class="t" text-anchor="middle" transform="translate(998.1,431.2) rotate(-90)">H I 656.2 nm</text>
<text class="t" text-anchor="middle" transform="translate(1048.6,276.1) rotate(-90)">He I 667.8 nm (S)</text>
<text class="t" text-anchor="middle" transform="translate(1105.9,216.9) rotate(-90)">Li I 670.7 nm</text>
<text class="t" text-anchor="middle" transform="translate(1160.9,407.7) rotate(-90)">F I 685.6 nm</text>
<text class="t" text-anchor="middle" transform="translate(1194.4,403.0) rotate(-90)">F I 690.2 nm</text>
<rect x="1152.8" y="501.3" width="2" height="38.9" fill="#1a1a1a"/>
<path d="M1148.5,539.2H1159.1L1153.8,558.6Z" fill="#141414"/>
<rect x="1177.0" y="501.3" width="2" height="38.9" fill="#1a1a1a"/>
<path d="M1172.7,539.2H1183.3L1178.0,558.6Z" fill="#141414"/>
<text class="t" text-anchor="middle" x="688.5" y="732.6">Al plate</text>
<text class="p" font-size="38.500" text-anchor="middle" x="1204.2" y="780.700">(B)</text>
<text class="t" text-anchor="middle" x="626.5" y="997.3">He I 587.6 nm (T)</text>
<text class="t" text-anchor="middle" transform="translate(999.9,1097.0) rotate(-90)">H I 656.2 nm</text>
<text class="t" text-anchor="middle" transform="translate(1066.5,1072.0) rotate(-90)">He I 667.8 nm (S)</text>
<text class="t" text-anchor="middle" x="688.3" y="1421.9">Pb plate</text>
<text class="p" font-size="38.500" text-anchor="middle" x="1200.6" y="1468.300">(C)</text>
<text class="t" text-anchor="middle" x="634.5" y="1872.5">He I 587.6 nm (T)</text>
<text class="t" text-anchor="middle" transform="translate(994.4,1765.9) rotate(-90)">H I 656.2 nm</text>
<text class="t" text-anchor="middle" transform="translate(1062.7,1763.6) rotate(-90)">He I 667.8 nm (S)</text>
<rect x="989.0" y="1853.0" width="2" height="41.8" fill="#1a1a1a"/>
<path d="M984.7,1893.8H995.3L990.0,1913.4Z" fill="#141414"/>
<rect x="1053.6" y="1875.0" width="2" height="45.8" fill="#1a1a1a"/>
<path d="M1049.3,1919.8H1059.9L1054.6,1939.6Z" fill="#141414"/>
</svg>
</body></html>
